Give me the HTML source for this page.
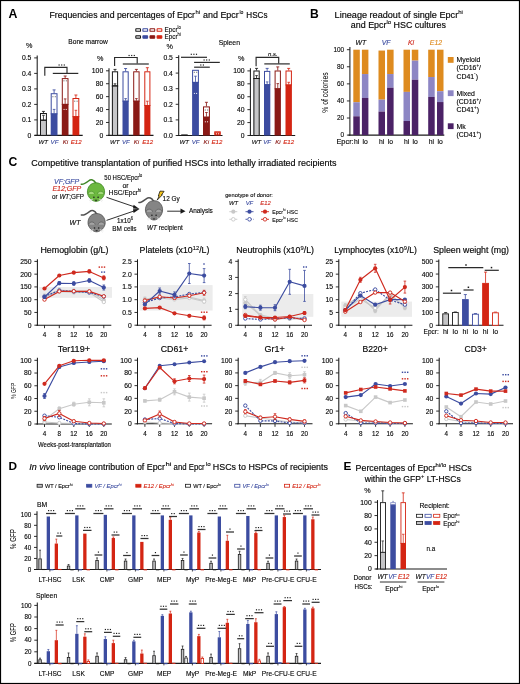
<!DOCTYPE html>
<html><head><meta charset="utf-8"><title>Figure</title>
<style>
html,body{margin:0;padding:0;background:#fff;}
body{width:520px;height:684px;overflow:hidden;}
svg{display:block;font-family:"Liberation Sans",sans-serif;will-change:transform;}
</style></head><body>
<svg width="520" height="684" viewBox="0 0 520 684">
<rect x="0" y="0" width="520" height="684" fill="#fff"/>
<text x="8.40" y="17.90" font-size="12.0" font-weight="bold" textLength="8.90" lengthAdjust="spacingAndGlyphs">A</text>
<text x="49.50" y="18.00" font-size="9.0" textLength="145.50" lengthAdjust="spacingAndGlyphs" stroke="#1a1a1a" stroke-width="0.18">Frequencies and percentages of Epcr</text>
<text x="195.60" y="14.04" font-size="5.94" textLength="4.60" lengthAdjust="spacingAndGlyphs" stroke="#1a1a1a" stroke-width="0.12">hi</text>
<text x="203.00" y="18.00" font-size="9.0" textLength="35.80" lengthAdjust="spacingAndGlyphs" stroke="#1a1a1a" stroke-width="0.18">and Epcr</text>
<text x="239.40" y="14.04" font-size="5.94" textLength="4.00" lengthAdjust="spacingAndGlyphs" stroke="#1a1a1a" stroke-width="0.12">lo</text>
<text x="246.30" y="18.00" font-size="9.0" textLength="21.20" lengthAdjust="spacingAndGlyphs" stroke="#1a1a1a" stroke-width="0.18">HSCs</text>
<rect x="135.80" y="28.80" width="4.70" height="2.50" fill="white" stroke="#1a1a1a" stroke-width="1.05" rx="0.4"/>
<rect x="135.80" y="35.70" width="4.70" height="2.50" fill="#cfcfd1" stroke="#1a1a1a" stroke-width="1.05" rx="0.4"/>
<rect x="142.90" y="28.80" width="4.70" height="2.50" fill="white" stroke="#3c4ca0" stroke-width="1.05" rx="0.4"/>
<rect x="142.90" y="35.70" width="4.70" height="2.50" fill="#3c4ca0" stroke="#3c4ca0" stroke-width="1.05" rx="0.4"/>
<rect x="150.00" y="28.80" width="4.70" height="2.50" fill="white" stroke="#8a1a16" stroke-width="1.05" rx="0.4"/>
<rect x="150.00" y="35.70" width="4.70" height="2.50" fill="#8a1a16" stroke="#8a1a16" stroke-width="1.05" rx="0.4"/>
<rect x="157.10" y="28.80" width="4.70" height="2.50" fill="white" stroke="#d42513" stroke-width="1.05" rx="0.4"/>
<rect x="157.10" y="35.70" width="4.70" height="2.50" fill="#d42513" stroke="#d42513" stroke-width="1.05" rx="0.4"/>
<text x="164.60" y="32.30" font-size="7.0" textLength="12.96" lengthAdjust="spacingAndGlyphs" stroke="#1a1a1a" stroke-width="0.14">Epcr</text>
<text x="177.56" y="29.22" font-size="4.62" textLength="3.24" lengthAdjust="spacingAndGlyphs" stroke="#1a1a1a" stroke-width="0.09">lo</text>
<text x="164.60" y="39.30" font-size="7.0" textLength="12.96" lengthAdjust="spacingAndGlyphs" stroke="#1a1a1a" stroke-width="0.14">Epcr</text>
<text x="177.56" y="36.22" font-size="4.62" textLength="3.24" lengthAdjust="spacingAndGlyphs" stroke="#1a1a1a" stroke-width="0.09">hi</text>
<text x="68.30" y="44.30" font-size="6.9" textLength="39.40" lengthAdjust="spacingAndGlyphs" stroke="#1a1a1a" stroke-width="0.14">Bone marrow</text>
<text x="218.70" y="44.50" font-size="6.9" textLength="21.30" lengthAdjust="spacingAndGlyphs" stroke="#1a1a1a" stroke-width="0.14">Spleen</text>
<text x="29.20" y="48.40" font-size="7.2" text-anchor="middle" stroke="#1a1a1a" stroke-width="0.14">%</text>
<line x1="37.20" y1="55.50" x2="37.20" y2="135.90" stroke="#1a1a1a" stroke-width="1.05"/>
<line x1="34.20" y1="135.40" x2="37.20" y2="135.40" stroke="#1a1a1a" stroke-width="0.9"/>
<text x="31.40" y="137.85" font-size="6.8" text-anchor="end" stroke="#1a1a1a" stroke-width="0.14">0</text>
<line x1="34.20" y1="119.90" x2="37.20" y2="119.90" stroke="#1a1a1a" stroke-width="0.9"/>
<text x="31.40" y="122.35" font-size="6.8" text-anchor="end" stroke="#1a1a1a" stroke-width="0.14">0.1</text>
<line x1="34.20" y1="104.40" x2="37.20" y2="104.40" stroke="#1a1a1a" stroke-width="0.9"/>
<text x="31.40" y="106.85" font-size="6.8" text-anchor="end" stroke="#1a1a1a" stroke-width="0.14">0.2</text>
<line x1="34.20" y1="88.90" x2="37.20" y2="88.90" stroke="#1a1a1a" stroke-width="0.9"/>
<text x="31.40" y="91.35" font-size="6.8" text-anchor="end" stroke="#1a1a1a" stroke-width="0.14">0.3</text>
<line x1="34.20" y1="73.40" x2="37.20" y2="73.40" stroke="#1a1a1a" stroke-width="0.9"/>
<text x="31.40" y="75.85" font-size="6.8" text-anchor="end" stroke="#1a1a1a" stroke-width="0.14">0.4</text>
<line x1="34.20" y1="57.90" x2="37.20" y2="57.90" stroke="#1a1a1a" stroke-width="0.9"/>
<text x="31.40" y="60.35" font-size="6.8" text-anchor="end" stroke="#1a1a1a" stroke-width="0.14">0.5</text>
<line x1="34.60" y1="135.40" x2="82.70" y2="135.40" stroke="#1a1a1a" stroke-width="1.1"/>
<rect x="40.50" y="113.50" width="5.90" height="7.20" fill="white" stroke="#1a1a1a" stroke-width="1.0"/>
<rect x="40.00" y="120.20" width="6.90" height="15.20" fill="#c6c6c8" stroke="none" stroke-width="1"/>
<rect x="40.50" y="120.20" width="5.90" height="15.20" fill="none" stroke="#1a1a1a" stroke-width="1.0"/>
<line x1="40.00" y1="120.20" x2="46.90" y2="120.20" stroke="#1a1a1a" stroke-width="0.9"/>
<line x1="43.45" y1="111.40" x2="43.45" y2="113.00" stroke="#1a1a1a" stroke-width="0.85"/>
<line x1="41.95" y1="111.40" x2="44.95" y2="111.40" stroke="#1a1a1a" stroke-width="0.85"/>
<line x1="43.45" y1="115.30" x2="43.45" y2="120.20" stroke="#1a1a1a" stroke-width="0.8"/>
<line x1="42.15" y1="115.30" x2="44.75" y2="115.30" stroke="#1a1a1a" stroke-width="0.8"/>
<rect x="51.20" y="93.70" width="5.80" height="20.20" fill="white" stroke="#3c4ca0" stroke-width="1.0"/>
<rect x="50.70" y="113.40" width="6.80" height="22.00" fill="#3c4ca0" stroke="none" stroke-width="1"/>
<line x1="54.10" y1="89.90" x2="54.10" y2="93.20" stroke="#3c4ca0" stroke-width="0.85"/>
<line x1="52.60" y1="89.90" x2="55.60" y2="89.90" stroke="#3c4ca0" stroke-width="0.85"/>
<line x1="54.10" y1="109.40" x2="54.10" y2="113.40" stroke="#3c4ca0" stroke-width="0.8"/>
<line x1="52.80" y1="109.40" x2="55.40" y2="109.40" stroke="#3c4ca0" stroke-width="0.8"/>
<rect x="52.35" y="96.15" width="1.1" height="1.1" fill="#777"/>
<rect x="54.75" y="96.15" width="1.1" height="1.1" fill="#777"/>
<rect x="62.30" y="78.60" width="5.70" height="25.80" fill="white" stroke="#8a1a16" stroke-width="1.0"/>
<rect x="61.80" y="103.90" width="6.70" height="31.50" fill="#8a1a16" stroke="none" stroke-width="1"/>
<line x1="65.15" y1="76.00" x2="65.15" y2="78.10" stroke="#8a1a16" stroke-width="0.85"/>
<line x1="63.65" y1="76.00" x2="66.65" y2="76.00" stroke="#8a1a16" stroke-width="0.85"/>
<line x1="65.15" y1="98.90" x2="65.15" y2="103.90" stroke="#8a1a16" stroke-width="0.8"/>
<line x1="63.85" y1="98.90" x2="66.45" y2="98.90" stroke="#8a1a16" stroke-width="0.8"/>
<rect x="63.40" y="80.25" width="1.1" height="1.1" fill="#777"/>
<rect x="65.80" y="80.25" width="1.1" height="1.1" fill="#777"/>
<rect x="63.55" y="108.90" width="1.0" height="1.0" fill="#fff"/>
<rect x="65.75" y="108.90" width="1.0" height="1.0" fill="#fff"/>
<rect x="73.00" y="98.50" width="5.80" height="18.20" fill="white" stroke="#d42513" stroke-width="1.0"/>
<rect x="72.50" y="116.20" width="6.80" height="19.20" fill="#d42513" stroke="none" stroke-width="1"/>
<line x1="75.90" y1="95.00" x2="75.90" y2="98.00" stroke="#d42513" stroke-width="0.85"/>
<line x1="74.40" y1="95.00" x2="77.40" y2="95.00" stroke="#d42513" stroke-width="0.85"/>
<line x1="75.90" y1="110.30" x2="75.90" y2="116.20" stroke="#d42513" stroke-width="0.8"/>
<line x1="74.60" y1="110.30" x2="77.20" y2="110.30" stroke="#d42513" stroke-width="0.8"/>
<rect x="74.15" y="100.65" width="1.1" height="1.1" fill="#777"/>
<rect x="76.55" y="100.65" width="1.1" height="1.1" fill="#777"/>
<path d="M44.8,75.8 V67.3 H67 V73.2" fill="none" stroke="#2a2a2a" stroke-width="1.15" stroke-linejoin="miter"/>
<line x1="52.80" y1="73.40" x2="78.30" y2="73.40" stroke="#2a2a2a" stroke-width="1.2"/>
<rect x="58.52" y="64.42" width="1.17" height="1.17" fill="#1a1a1a"/>
<rect x="61.12" y="64.42" width="1.17" height="1.17" fill="#1a1a1a"/>
<rect x="63.71" y="64.42" width="1.17" height="1.17" fill="#1a1a1a"/>
<text x="43.30" y="143.70" font-size="6.1" text-anchor="middle" font-style="italic" stroke="#1a1a1a" stroke-width="0.12">WT</text>
<text x="54.50" y="143.70" font-size="6.1" text-anchor="middle" fill="#3c4ca0" font-style="italic" stroke="#3c4ca0" stroke-width="0.12">VF</text>
<text x="65.40" y="143.70" font-size="6.1" text-anchor="middle" fill="#8a1a16" font-style="italic" stroke="#8a1a16" stroke-width="0.12">Ki</text>
<text x="76.10" y="143.70" font-size="6.1" text-anchor="middle" fill="#d42513" font-style="italic" stroke="#d42513" stroke-width="0.12">E12</text>
<text x="100.10" y="61.20" font-size="7.2" text-anchor="middle" stroke="#1a1a1a" stroke-width="0.14">%</text>
<line x1="109.00" y1="68.20" x2="109.00" y2="135.90" stroke="#1a1a1a" stroke-width="1.05"/>
<line x1="106.00" y1="135.40" x2="109.00" y2="135.40" stroke="#1a1a1a" stroke-width="0.9"/>
<text x="103.20" y="137.85" font-size="6.8" text-anchor="end" stroke="#1a1a1a" stroke-width="0.14">0</text>
<line x1="106.00" y1="122.48" x2="109.00" y2="122.48" stroke="#1a1a1a" stroke-width="0.9"/>
<text x="103.20" y="124.93" font-size="6.8" text-anchor="end" stroke="#1a1a1a" stroke-width="0.14">20</text>
<line x1="106.00" y1="109.56" x2="109.00" y2="109.56" stroke="#1a1a1a" stroke-width="0.9"/>
<text x="103.20" y="112.01" font-size="6.8" text-anchor="end" stroke="#1a1a1a" stroke-width="0.14">40</text>
<line x1="106.00" y1="96.64" x2="109.00" y2="96.64" stroke="#1a1a1a" stroke-width="0.9"/>
<text x="103.20" y="99.09" font-size="6.8" text-anchor="end" stroke="#1a1a1a" stroke-width="0.14">60</text>
<line x1="106.00" y1="83.72" x2="109.00" y2="83.72" stroke="#1a1a1a" stroke-width="0.9"/>
<text x="103.20" y="86.17" font-size="6.8" text-anchor="end" stroke="#1a1a1a" stroke-width="0.14">80</text>
<line x1="106.00" y1="70.80" x2="109.00" y2="70.80" stroke="#1a1a1a" stroke-width="0.9"/>
<text x="103.20" y="73.25" font-size="6.8" text-anchor="end" stroke="#1a1a1a" stroke-width="0.14">100</text>
<line x1="108.00" y1="135.40" x2="153.50" y2="135.40" stroke="#1a1a1a" stroke-width="1.1"/>
<rect x="112.40" y="71.80" width="5.20" height="14.60" fill="white" stroke="#1a1a1a" stroke-width="1.0"/>
<rect x="111.90" y="85.90" width="6.20" height="49.50" fill="#c6c6c8" stroke="none" stroke-width="1"/>
<rect x="112.40" y="85.90" width="5.20" height="49.50" fill="none" stroke="#1a1a1a" stroke-width="1.0"/>
<line x1="111.90" y1="85.90" x2="118.10" y2="85.90" stroke="#1a1a1a" stroke-width="0.9"/>
<line x1="115.00" y1="69.40" x2="115.00" y2="71.30" stroke="#1a1a1a" stroke-width="0.85"/>
<line x1="113.50" y1="69.40" x2="116.50" y2="69.40" stroke="#1a1a1a" stroke-width="0.85"/>
<line x1="115.00" y1="83.80" x2="115.00" y2="85.90" stroke="#1a1a1a" stroke-width="0.8"/>
<line x1="113.70" y1="83.80" x2="116.30" y2="83.80" stroke="#1a1a1a" stroke-width="0.8"/>
<rect x="123.00" y="71.80" width="5.20" height="29.40" fill="white" stroke="#3c4ca0" stroke-width="1.0"/>
<rect x="122.50" y="100.70" width="6.20" height="34.70" fill="#3c4ca0" stroke="none" stroke-width="1"/>
<line x1="125.60" y1="68.50" x2="125.60" y2="71.30" stroke="#3c4ca0" stroke-width="0.85"/>
<line x1="124.10" y1="68.50" x2="127.10" y2="68.50" stroke="#3c4ca0" stroke-width="0.85"/>
<line x1="125.60" y1="98.60" x2="125.60" y2="100.70" stroke="#3c4ca0" stroke-width="0.8"/>
<line x1="124.30" y1="98.60" x2="126.90" y2="98.60" stroke="#3c4ca0" stroke-width="0.8"/>
<rect x="133.70" y="71.80" width="5.40" height="29.40" fill="white" stroke="#8a1a16" stroke-width="1.0"/>
<rect x="133.20" y="100.70" width="6.40" height="34.70" fill="#8a1a16" stroke="none" stroke-width="1"/>
<line x1="136.40" y1="69.40" x2="136.40" y2="71.30" stroke="#8a1a16" stroke-width="0.85"/>
<line x1="134.90" y1="69.40" x2="137.90" y2="69.40" stroke="#8a1a16" stroke-width="0.85"/>
<line x1="136.40" y1="98.60" x2="136.40" y2="100.70" stroke="#8a1a16" stroke-width="0.8"/>
<line x1="135.10" y1="98.60" x2="137.70" y2="98.60" stroke="#8a1a16" stroke-width="0.8"/>
<rect x="144.80" y="71.80" width="5.10" height="33.70" fill="white" stroke="#d42513" stroke-width="1.0"/>
<rect x="144.30" y="105.00" width="6.10" height="30.40" fill="#d42513" stroke="none" stroke-width="1"/>
<line x1="147.35" y1="67.70" x2="147.35" y2="71.30" stroke="#d42513" stroke-width="0.85"/>
<line x1="145.85" y1="67.70" x2="148.85" y2="67.70" stroke="#d42513" stroke-width="0.85"/>
<line x1="147.35" y1="101.20" x2="147.35" y2="105.00" stroke="#d42513" stroke-width="0.8"/>
<line x1="146.05" y1="101.20" x2="148.65" y2="101.20" stroke="#d42513" stroke-width="0.8"/>
<path d="M114.6,65.9 V57.5 H137.2 V63.5" fill="none" stroke="#2a2a2a" stroke-width="1.15" stroke-linejoin="miter"/>
<line x1="122.80" y1="64.00" x2="148.80" y2="64.00" stroke="#2a2a2a" stroke-width="1.2"/>
<rect x="128.51" y="54.91" width="1.17" height="1.17" fill="#1a1a1a"/>
<rect x="131.11" y="54.91" width="1.17" height="1.17" fill="#1a1a1a"/>
<rect x="133.71" y="54.91" width="1.17" height="1.17" fill="#1a1a1a"/>
<text x="114.80" y="143.70" font-size="6.1" text-anchor="middle" font-style="italic" stroke="#1a1a1a" stroke-width="0.12">WT</text>
<text x="125.90" y="143.70" font-size="6.1" text-anchor="middle" fill="#3c4ca0" font-style="italic" stroke="#3c4ca0" stroke-width="0.12">VF</text>
<text x="136.50" y="143.70" font-size="6.1" text-anchor="middle" fill="#8a1a16" font-style="italic" stroke="#8a1a16" stroke-width="0.12">Ki</text>
<text x="147.60" y="143.70" font-size="6.1" text-anchor="middle" fill="#d42513" font-style="italic" stroke="#d42513" stroke-width="0.12">E12</text>
<text x="169.80" y="48.60" font-size="7.2" text-anchor="middle" stroke="#1a1a1a" stroke-width="0.14">%</text>
<line x1="178.70" y1="55.20" x2="178.70" y2="136.00" stroke="#1a1a1a" stroke-width="1.05"/>
<line x1="175.70" y1="135.50" x2="178.70" y2="135.50" stroke="#1a1a1a" stroke-width="0.9"/>
<text x="172.90" y="137.95" font-size="6.8" text-anchor="end" stroke="#1a1a1a" stroke-width="0.14">0.0</text>
<line x1="175.70" y1="119.90" x2="178.70" y2="119.90" stroke="#1a1a1a" stroke-width="0.9"/>
<text x="172.90" y="122.35" font-size="6.8" text-anchor="end" stroke="#1a1a1a" stroke-width="0.14">0.1</text>
<line x1="175.70" y1="104.30" x2="178.70" y2="104.30" stroke="#1a1a1a" stroke-width="0.9"/>
<text x="172.90" y="106.75" font-size="6.8" text-anchor="end" stroke="#1a1a1a" stroke-width="0.14">0.2</text>
<line x1="175.70" y1="88.70" x2="178.70" y2="88.70" stroke="#1a1a1a" stroke-width="0.9"/>
<text x="172.90" y="91.15" font-size="6.8" text-anchor="end" stroke="#1a1a1a" stroke-width="0.14">0.3</text>
<line x1="175.70" y1="73.10" x2="178.70" y2="73.10" stroke="#1a1a1a" stroke-width="0.9"/>
<text x="172.90" y="75.55" font-size="6.8" text-anchor="end" stroke="#1a1a1a" stroke-width="0.14">0.4</text>
<line x1="175.70" y1="57.50" x2="178.70" y2="57.50" stroke="#1a1a1a" stroke-width="0.9"/>
<text x="172.90" y="59.95" font-size="6.8" text-anchor="end" stroke="#1a1a1a" stroke-width="0.14">0.5</text>
<line x1="177.50" y1="135.50" x2="222.50" y2="135.50" stroke="#1a1a1a" stroke-width="1.1"/>
<rect x="181.20" y="134.40" width="6.50" height="1.10" fill="#1a1a1a" stroke="none" stroke-width="1"/>
<rect x="192.60" y="70.30" width="5.80" height="12.10" fill="white" stroke="#3c4ca0" stroke-width="1.0"/>
<rect x="192.10" y="81.90" width="6.80" height="53.60" fill="#3c4ca0" stroke="none" stroke-width="1"/>
<line x1="195.50" y1="76.20" x2="195.50" y2="81.90" stroke="#3c4ca0" stroke-width="0.8"/>
<line x1="194.20" y1="76.20" x2="196.80" y2="76.20" stroke="#3c4ca0" stroke-width="0.8"/>
<rect x="193.75" y="71.75" width="1.1" height="1.1" fill="#777"/>
<rect x="196.15" y="71.75" width="1.1" height="1.1" fill="#777"/>
<rect x="193.90" y="92.90" width="1.0" height="1.0" fill="#fff"/>
<rect x="196.10" y="92.90" width="1.0" height="1.0" fill="#fff"/>
<rect x="203.50" y="106.90" width="5.90" height="10.30" fill="white" stroke="#8a1a16" stroke-width="1.0"/>
<rect x="203.00" y="116.70" width="6.90" height="18.80" fill="#8a1a16" stroke="none" stroke-width="1"/>
<line x1="206.45" y1="102.30" x2="206.45" y2="106.40" stroke="#8a1a16" stroke-width="0.85"/>
<line x1="204.95" y1="102.30" x2="207.95" y2="102.30" stroke="#8a1a16" stroke-width="0.85"/>
<line x1="206.45" y1="112.50" x2="206.45" y2="116.70" stroke="#8a1a16" stroke-width="0.8"/>
<line x1="205.15" y1="112.50" x2="207.75" y2="112.50" stroke="#8a1a16" stroke-width="0.8"/>
<rect x="204.70" y="109.45" width="1.1" height="1.1" fill="#777"/>
<rect x="207.10" y="109.45" width="1.1" height="1.1" fill="#777"/>
<rect x="204.85" y="121.30" width="1.0" height="1.0" fill="#fff"/>
<rect x="207.05" y="121.30" width="1.0" height="1.0" fill="#fff"/>
<rect x="214.80" y="131.80" width="5.40" height="1.30" fill="white" stroke="#d42513" stroke-width="1.0"/>
<rect x="214.30" y="132.60" width="6.40" height="2.90" fill="#d42513" stroke="none" stroke-width="1"/>
<rect x="215.90" y="133.30" width="1.0" height="1.0" fill="#fff"/>
<rect x="218.10" y="133.30" width="1.0" height="1.0" fill="#fff"/>
<line x1="181.00" y1="57.30" x2="207.00" y2="57.30" stroke="#2a2a2a" stroke-width="1.2"/>
<rect x="190.72" y="53.71" width="1.17" height="1.17" fill="#1a1a1a"/>
<rect x="193.31" y="53.71" width="1.17" height="1.17" fill="#1a1a1a"/>
<rect x="195.91" y="53.71" width="1.17" height="1.17" fill="#1a1a1a"/>
<line x1="194.10" y1="62.40" x2="219.80" y2="62.40" stroke="#2a2a2a" stroke-width="1.2"/>
<rect x="203.51" y="59.41" width="1.17" height="1.17" fill="#1a1a1a"/>
<rect x="206.11" y="59.41" width="1.17" height="1.17" fill="#1a1a1a"/>
<rect x="208.71" y="59.41" width="1.17" height="1.17" fill="#1a1a1a"/>
<line x1="194.10" y1="67.20" x2="209.80" y2="67.20" stroke="#2a2a2a" stroke-width="1.2"/>
<rect x="200.21" y="64.42" width="1.17" height="1.17" fill="#1a1a1a"/>
<rect x="202.81" y="64.42" width="1.17" height="1.17" fill="#1a1a1a"/>
<text x="184.30" y="143.70" font-size="6.1" text-anchor="middle" font-style="italic" stroke="#1a1a1a" stroke-width="0.12">WT</text>
<text x="195.60" y="143.70" font-size="6.1" text-anchor="middle" fill="#3c4ca0" font-style="italic" stroke="#3c4ca0" stroke-width="0.12">VF</text>
<text x="206.30" y="143.70" font-size="6.1" text-anchor="middle" fill="#8a1a16" font-style="italic" stroke="#8a1a16" stroke-width="0.12">Ki</text>
<text x="216.90" y="143.70" font-size="6.1" text-anchor="middle" fill="#d42513" font-style="italic" stroke="#d42513" stroke-width="0.12">E12</text>
<text x="241.20" y="61.20" font-size="7.2" text-anchor="middle" stroke="#1a1a1a" stroke-width="0.14">%</text>
<line x1="250.40" y1="68.20" x2="250.40" y2="136.00" stroke="#1a1a1a" stroke-width="1.05"/>
<line x1="247.40" y1="135.50" x2="250.40" y2="135.50" stroke="#1a1a1a" stroke-width="0.9"/>
<text x="244.60" y="137.95" font-size="6.8" text-anchor="end" stroke="#1a1a1a" stroke-width="0.14">0</text>
<line x1="247.40" y1="122.58" x2="250.40" y2="122.58" stroke="#1a1a1a" stroke-width="0.9"/>
<text x="244.60" y="125.03" font-size="6.8" text-anchor="end" stroke="#1a1a1a" stroke-width="0.14">20</text>
<line x1="247.40" y1="109.66" x2="250.40" y2="109.66" stroke="#1a1a1a" stroke-width="0.9"/>
<text x="244.60" y="112.11" font-size="6.8" text-anchor="end" stroke="#1a1a1a" stroke-width="0.14">40</text>
<line x1="247.40" y1="96.74" x2="250.40" y2="96.74" stroke="#1a1a1a" stroke-width="0.9"/>
<text x="244.60" y="99.19" font-size="6.8" text-anchor="end" stroke="#1a1a1a" stroke-width="0.14">60</text>
<line x1="247.40" y1="83.82" x2="250.40" y2="83.82" stroke="#1a1a1a" stroke-width="0.9"/>
<text x="244.60" y="86.27" font-size="6.8" text-anchor="end" stroke="#1a1a1a" stroke-width="0.14">80</text>
<line x1="247.40" y1="70.90" x2="250.40" y2="70.90" stroke="#1a1a1a" stroke-width="0.9"/>
<text x="244.60" y="73.35" font-size="6.8" text-anchor="end" stroke="#1a1a1a" stroke-width="0.14">100</text>
<line x1="249.50" y1="135.50" x2="295.20" y2="135.50" stroke="#1a1a1a" stroke-width="1.1"/>
<rect x="253.90" y="71.00" width="5.30" height="8.00" fill="white" stroke="#1a1a1a" stroke-width="1.0"/>
<rect x="253.40" y="78.50" width="6.30" height="57.00" fill="#c6c6c8" stroke="none" stroke-width="1"/>
<rect x="253.90" y="78.50" width="5.30" height="57.00" fill="none" stroke="#1a1a1a" stroke-width="1.0"/>
<line x1="253.40" y1="78.50" x2="259.70" y2="78.50" stroke="#1a1a1a" stroke-width="0.9"/>
<line x1="256.55" y1="68.40" x2="256.55" y2="70.50" stroke="#1a1a1a" stroke-width="0.85"/>
<line x1="255.05" y1="68.40" x2="258.05" y2="68.40" stroke="#1a1a1a" stroke-width="0.85"/>
<line x1="256.55" y1="75.60" x2="256.55" y2="78.50" stroke="#1a1a1a" stroke-width="0.8"/>
<line x1="255.25" y1="75.60" x2="257.85" y2="75.60" stroke="#1a1a1a" stroke-width="0.8"/>
<rect x="264.50" y="71.40" width="5.30" height="13.30" fill="white" stroke="#3c4ca0" stroke-width="1.0"/>
<rect x="264.00" y="84.20" width="6.30" height="51.30" fill="#3c4ca0" stroke="none" stroke-width="1"/>
<line x1="267.15" y1="68.40" x2="267.15" y2="70.90" stroke="#3c4ca0" stroke-width="0.85"/>
<line x1="265.65" y1="68.40" x2="268.65" y2="68.40" stroke="#3c4ca0" stroke-width="0.85"/>
<line x1="267.15" y1="81.90" x2="267.15" y2="84.20" stroke="#3c4ca0" stroke-width="0.8"/>
<line x1="265.85" y1="81.90" x2="268.45" y2="81.90" stroke="#3c4ca0" stroke-width="0.8"/>
<rect x="275.10" y="71.00" width="5.30" height="17.80" fill="white" stroke="#8a1a16" stroke-width="1.0"/>
<rect x="274.60" y="88.30" width="6.30" height="47.20" fill="#8a1a16" stroke="none" stroke-width="1"/>
<line x1="277.75" y1="66.90" x2="277.75" y2="70.50" stroke="#8a1a16" stroke-width="0.85"/>
<line x1="276.25" y1="66.90" x2="279.25" y2="66.90" stroke="#8a1a16" stroke-width="0.85"/>
<line x1="277.75" y1="83.60" x2="277.75" y2="88.30" stroke="#8a1a16" stroke-width="0.8"/>
<line x1="276.45" y1="83.60" x2="279.05" y2="83.60" stroke="#8a1a16" stroke-width="0.8"/>
<rect x="286.00" y="71.00" width="5.40" height="14.00" fill="white" stroke="#d42513" stroke-width="1.0"/>
<rect x="285.50" y="84.50" width="6.40" height="51.00" fill="#d42513" stroke="none" stroke-width="1"/>
<line x1="288.70" y1="68.40" x2="288.70" y2="70.50" stroke="#d42513" stroke-width="0.85"/>
<line x1="287.20" y1="68.40" x2="290.20" y2="68.40" stroke="#d42513" stroke-width="0.85"/>
<line x1="288.70" y1="82.30" x2="288.70" y2="84.50" stroke="#d42513" stroke-width="0.8"/>
<line x1="287.40" y1="82.30" x2="290.00" y2="82.30" stroke="#d42513" stroke-width="0.8"/>
<path d="M256.1,66.3 V57.4 H278.7 V63.4" fill="none" stroke="#2a2a2a" stroke-width="1.15" stroke-linejoin="miter"/>
<line x1="264.30" y1="63.90" x2="289.80" y2="63.90" stroke="#2a2a2a" stroke-width="1.2"/>
<text x="272.90" y="55.90" font-size="6.0" text-anchor="middle" font-style="italic" stroke="#1a1a1a" stroke-width="0.12">n.s.</text>
<text x="256.40" y="143.70" font-size="6.1" text-anchor="middle" font-style="italic" stroke="#1a1a1a" stroke-width="0.12">WT</text>
<text x="267.20" y="143.70" font-size="6.1" text-anchor="middle" fill="#3c4ca0" font-style="italic" stroke="#3c4ca0" stroke-width="0.12">VF</text>
<text x="277.90" y="143.70" font-size="6.1" text-anchor="middle" fill="#8a1a16" font-style="italic" stroke="#8a1a16" stroke-width="0.12">Ki</text>
<text x="288.60" y="143.70" font-size="6.1" text-anchor="middle" fill="#d42513" font-style="italic" stroke="#d42513" stroke-width="0.12">E12</text>
<text x="310.10" y="17.90" font-size="12.1" font-weight="bold">B</text>
<text x="334.60" y="18.00" font-size="9.0" textLength="123.62" lengthAdjust="spacingAndGlyphs" stroke="#1a1a1a" stroke-width="0.18">Lineage readout of single Epcr</text>
<text x="458.22" y="14.04" font-size="5.94" textLength="4.68" lengthAdjust="spacingAndGlyphs" stroke="#1a1a1a" stroke-width="0.12">hi</text>
<text x="350.80" y="28.20" font-size="9.0" textLength="35.66" lengthAdjust="spacingAndGlyphs" stroke="#1a1a1a" stroke-width="0.18">and Epcr</text>
<text x="386.46" y="24.24" font-size="5.94" textLength="4.58" lengthAdjust="spacingAndGlyphs" stroke="#1a1a1a" stroke-width="0.12">lo</text>
<text x="393.51" y="28.20" font-size="9.0" textLength="52.49" lengthAdjust="spacingAndGlyphs" stroke="#1a1a1a" stroke-width="0.18">HSC cultures</text>
<line x1="349.90" y1="47.10" x2="349.90" y2="135.60" stroke="#1a1a1a" stroke-width="1.05"/>
<line x1="346.90" y1="135.10" x2="349.90" y2="135.10" stroke="#1a1a1a" stroke-width="0.9"/>
<text x="344.10" y="137.40" font-size="6.4" text-anchor="end" stroke="#1a1a1a" stroke-width="0.13">0</text>
<line x1="346.90" y1="118.02" x2="349.90" y2="118.02" stroke="#1a1a1a" stroke-width="0.9"/>
<text x="344.10" y="120.32" font-size="6.4" text-anchor="end" stroke="#1a1a1a" stroke-width="0.13">20</text>
<line x1="346.90" y1="100.94" x2="349.90" y2="100.94" stroke="#1a1a1a" stroke-width="0.9"/>
<text x="344.10" y="103.24" font-size="6.4" text-anchor="end" stroke="#1a1a1a" stroke-width="0.13">40</text>
<line x1="346.90" y1="83.86" x2="349.90" y2="83.86" stroke="#1a1a1a" stroke-width="0.9"/>
<text x="344.10" y="86.16" font-size="6.4" text-anchor="end" stroke="#1a1a1a" stroke-width="0.13">60</text>
<line x1="346.90" y1="66.78" x2="349.90" y2="66.78" stroke="#1a1a1a" stroke-width="0.9"/>
<text x="344.10" y="69.08" font-size="6.4" text-anchor="end" stroke="#1a1a1a" stroke-width="0.13">80</text>
<line x1="346.90" y1="49.70" x2="349.90" y2="49.70" stroke="#1a1a1a" stroke-width="0.9"/>
<text x="344.10" y="52.00" font-size="6.4" text-anchor="end" stroke="#1a1a1a" stroke-width="0.13">100</text>
<line x1="348.50" y1="135.10" x2="444.30" y2="135.10" stroke="#1a1a1a" stroke-width="1.1"/>
<text x="0" y="0" font-size="8.8" transform="translate(328.0,92.5) rotate(-90)" text-anchor="middle" textLength="40.4" lengthAdjust="spacingAndGlyphs">% of colonies</text>
<rect x="353.30" y="49.70" width="6.50" height="52.52" fill="#de8b1f" stroke="none" stroke-width="1"/>
<rect x="353.30" y="102.22" width="6.50" height="14.09" fill="#8d86c4" stroke="none" stroke-width="1"/>
<rect x="353.30" y="116.31" width="6.50" height="18.79" fill="#4b2266" stroke="none" stroke-width="1"/>
<rect x="361.90" y="49.70" width="6.50" height="24.34" fill="#de8b1f" stroke="none" stroke-width="1"/>
<rect x="361.90" y="74.04" width="6.50" height="23.91" fill="#8d86c4" stroke="none" stroke-width="1"/>
<rect x="361.90" y="97.95" width="6.50" height="37.15" fill="#4b2266" stroke="none" stroke-width="1"/>
<rect x="378.50" y="50.55" width="6.50" height="49.10" fill="#de8b1f" stroke="none" stroke-width="1"/>
<rect x="378.50" y="99.66" width="6.50" height="11.96" fill="#8d86c4" stroke="none" stroke-width="1"/>
<rect x="378.50" y="111.61" width="6.50" height="23.48" fill="#4b2266" stroke="none" stroke-width="1"/>
<rect x="387.10" y="49.70" width="6.50" height="24.34" fill="#de8b1f" stroke="none" stroke-width="1"/>
<rect x="387.10" y="74.04" width="6.50" height="13.66" fill="#8d86c4" stroke="none" stroke-width="1"/>
<rect x="387.10" y="87.70" width="6.50" height="47.40" fill="#4b2266" stroke="none" stroke-width="1"/>
<rect x="403.50" y="49.70" width="6.50" height="42.19" fill="#de8b1f" stroke="none" stroke-width="1"/>
<rect x="403.50" y="91.89" width="6.50" height="29.12" fill="#8d86c4" stroke="none" stroke-width="1"/>
<rect x="403.50" y="121.01" width="6.50" height="14.09" fill="#4b2266" stroke="none" stroke-width="1"/>
<rect x="411.80" y="49.70" width="6.50" height="10.93" fill="#de8b1f" stroke="none" stroke-width="1"/>
<rect x="411.80" y="60.63" width="6.50" height="19.13" fill="#8d86c4" stroke="none" stroke-width="1"/>
<rect x="411.80" y="79.76" width="6.50" height="55.34" fill="#4b2266" stroke="none" stroke-width="1"/>
<rect x="428.20" y="49.70" width="6.50" height="27.33" fill="#de8b1f" stroke="none" stroke-width="1"/>
<rect x="428.20" y="77.03" width="6.50" height="19.90" fill="#8d86c4" stroke="none" stroke-width="1"/>
<rect x="428.20" y="96.93" width="6.50" height="38.17" fill="#4b2266" stroke="none" stroke-width="1"/>
<rect x="437.00" y="49.70" width="6.50" height="41.50" fill="#de8b1f" stroke="none" stroke-width="1"/>
<rect x="437.00" y="91.20" width="6.50" height="10.85" fill="#8d86c4" stroke="none" stroke-width="1"/>
<rect x="437.00" y="102.05" width="6.50" height="33.05" fill="#4b2266" stroke="none" stroke-width="1"/>
<text x="360.80" y="45.20" font-size="6.8" text-anchor="middle" font-style="italic" stroke="#1a1a1a" stroke-width="0.14">WT</text>
<text x="386.10" y="45.20" font-size="6.8" text-anchor="middle" fill="#3c4ca0" font-style="italic" stroke="#3c4ca0" stroke-width="0.14">VF</text>
<text x="410.90" y="45.20" font-size="6.8" text-anchor="middle" fill="#cf2a1f" font-style="italic" stroke="#cf2a1f" stroke-width="0.14">Ki</text>
<text x="435.90" y="45.20" font-size="6.8" text-anchor="middle" fill="#de8b1f" font-style="italic" stroke="#de8b1f" stroke-width="0.14">E12</text>
<text x="336.40" y="143.80" font-size="6.8" textLength="17.30" lengthAdjust="spacingAndGlyphs" stroke="#1a1a1a" stroke-width="0.14">Epcr:</text>
<text x="356.55" y="143.80" font-size="6.8" text-anchor="middle" stroke="#1a1a1a" stroke-width="0.14">hi</text>
<text x="365.15" y="143.80" font-size="6.8" text-anchor="middle" stroke="#1a1a1a" stroke-width="0.14">lo</text>
<text x="381.75" y="143.80" font-size="6.8" text-anchor="middle" stroke="#1a1a1a" stroke-width="0.14">hi</text>
<text x="390.35" y="143.80" font-size="6.8" text-anchor="middle" stroke="#1a1a1a" stroke-width="0.14">lo</text>
<text x="406.75" y="143.80" font-size="6.8" text-anchor="middle" stroke="#1a1a1a" stroke-width="0.14">hi</text>
<text x="415.05" y="143.80" font-size="6.8" text-anchor="middle" stroke="#1a1a1a" stroke-width="0.14">lo</text>
<text x="431.45" y="143.80" font-size="6.8" text-anchor="middle" stroke="#1a1a1a" stroke-width="0.14">hi</text>
<text x="440.25" y="143.80" font-size="6.8" text-anchor="middle" stroke="#1a1a1a" stroke-width="0.14">lo</text>
<rect x="447.80" y="57.00" width="5.80" height="5.80" fill="#de8b1f" stroke="none" stroke-width="1"/>
<text x="456.50" y="62.30" font-size="6.9" stroke="#1a1a1a" stroke-width="0.14">Myeloid</text>
<text x="456.50" y="70.40" font-size="6.9" textLength="19.94" lengthAdjust="spacingAndGlyphs" stroke="#1a1a1a" stroke-width="0.14">(CD16</text>
<text x="476.44" y="67.36" font-size="4.55" textLength="2.66" lengthAdjust="spacingAndGlyphs" stroke="#1a1a1a" stroke-width="0.09">+</text>
<text x="479.10" y="70.40" font-size="6.9" textLength="1.92" lengthAdjust="spacingAndGlyphs" stroke="#1a1a1a" stroke-width="0.14">/</text>
<text x="456.50" y="78.50" font-size="6.9" textLength="17.64" lengthAdjust="spacingAndGlyphs" stroke="#1a1a1a" stroke-width="0.14">CD41</text>
<text x="474.14" y="75.46" font-size="4.55" textLength="1.52" lengthAdjust="spacingAndGlyphs" stroke="#1a1a1a" stroke-width="0.09">-</text>
<text x="475.66" y="78.50" font-size="6.9" textLength="2.30" lengthAdjust="spacingAndGlyphs" stroke="#1a1a1a" stroke-width="0.14">)</text>
<rect x="447.80" y="90.30" width="5.80" height="5.80" fill="#8d86c4" stroke="none" stroke-width="1"/>
<text x="456.50" y="95.60" font-size="6.9" stroke="#1a1a1a" stroke-width="0.14">Mixed</text>
<text x="456.50" y="103.70" font-size="6.9" textLength="19.94" lengthAdjust="spacingAndGlyphs" stroke="#1a1a1a" stroke-width="0.14">(CD16</text>
<text x="476.44" y="100.66" font-size="4.55" textLength="2.66" lengthAdjust="spacingAndGlyphs" stroke="#1a1a1a" stroke-width="0.09">+</text>
<text x="479.10" y="103.70" font-size="6.9" textLength="1.92" lengthAdjust="spacingAndGlyphs" stroke="#1a1a1a" stroke-width="0.14">/</text>
<text x="456.50" y="111.80" font-size="6.9" textLength="17.64" lengthAdjust="spacingAndGlyphs" stroke="#1a1a1a" stroke-width="0.14">CD41</text>
<text x="474.14" y="108.76" font-size="4.55" textLength="2.66" lengthAdjust="spacingAndGlyphs" stroke="#1a1a1a" stroke-width="0.09">+</text>
<text x="476.80" y="111.80" font-size="6.9" textLength="2.30" lengthAdjust="spacingAndGlyphs" stroke="#1a1a1a" stroke-width="0.14">)</text>
<rect x="447.80" y="123.30" width="5.80" height="5.80" fill="#4b2266" stroke="none" stroke-width="1"/>
<text x="456.50" y="128.60" font-size="6.9" stroke="#1a1a1a" stroke-width="0.14">Mk</text>
<text x="456.50" y="136.70" font-size="6.9" textLength="19.94" lengthAdjust="spacingAndGlyphs" stroke="#1a1a1a" stroke-width="0.14">(CD41</text>
<text x="476.44" y="133.66" font-size="4.55" textLength="2.66" lengthAdjust="spacingAndGlyphs" stroke="#1a1a1a" stroke-width="0.09">+</text>
<text x="479.10" y="136.70" font-size="6.9" textLength="2.30" lengthAdjust="spacingAndGlyphs" stroke="#1a1a1a" stroke-width="0.14">)</text>
<text x="8.50" y="165.60" font-size="12.2" font-weight="bold">C</text>
<text x="31.30" y="166.00" font-size="9.0" textLength="305.30" lengthAdjust="spacingAndGlyphs" stroke="#1a1a1a" stroke-width="0.18">Competitive transplantation of purified HSCs into lethally irradiated recipients</text>
<text x="54.02" y="183.80" font-size="7.0" fill="#3c4ca0" font-style="italic" textLength="25.28" lengthAdjust="spacingAndGlyphs" stroke="#3c4ca0" stroke-width="0.14">VF;GFP</text>
<text x="52.41" y="191.30" font-size="7.0" fill="#cf2a1f" font-style="italic" textLength="28.79" lengthAdjust="spacingAndGlyphs" stroke="#cf2a1f" stroke-width="0.14">E12;GFP</text>
<text x="52.00" y="199.20" font-size="7.0" textLength="5.63" lengthAdjust="spacingAndGlyphs" stroke="#1a1a1a" stroke-width="0.14">or</text>
<text x="59.39" y="199.20" font-size="7.0" font-style="italic" textLength="9.84" lengthAdjust="spacingAndGlyphs" stroke="#1a1a1a" stroke-width="0.14">WT</text>
<text x="69.23" y="199.20" font-size="7.0" textLength="14.77" lengthAdjust="spacingAndGlyphs" stroke="#1a1a1a" stroke-width="0.14">;GFP</text>
<text x="80.50" y="225.20" font-size="7.0" text-anchor="end" font-style="italic" stroke="#1a1a1a" stroke-width="0.14">WT</text>
<path d="M95.8,183.2 C94,179.5 91,179 88.5,181 C86,183 84,184.6 81.2,184.2" fill="none" stroke="#3f8624" stroke-width="1.5" stroke-linecap="round"/>
<path d="M96.00,182.80 C101.40,182.80 104.60,187.10 104.60,192.10 C104.60,196.60 100.20,201.40 96.00,201.40 C91.80,201.40 87.40,196.60 87.40,192.10 C87.40,187.10 90.60,182.80 96.00,182.80 Z" fill="#6cb83f" stroke="#3f8624" stroke-width="0.8"/>
<path d="M88.10,194.00 C88.50,190.40 94.10,190.40 94.50,194.00 Z" fill="#a2d97a" stroke="none" stroke-width="1"/>
<path d="M88.10,194.00 C88.50,190.40 94.10,190.40 94.50,194.00" fill="none" stroke="#3f8624" stroke-width="0.6"/>
<path d="M97.50,194.00 C97.90,190.40 103.50,190.40 103.90,194.00 Z" fill="#a2d97a" stroke="none" stroke-width="1"/>
<path d="M97.50,194.00 C97.90,190.40 103.50,190.40 103.90,194.00" fill="none" stroke="#3f8624" stroke-width="0.6"/>
<circle cx="93.90" cy="197.30" r="0.8" fill="#1e1e1e" stroke="none" stroke-width="1"/>
<circle cx="98.10" cy="197.30" r="0.8" fill="#1e1e1e" stroke="none" stroke-width="1"/>
<path d="M94.60,199.80 L97.40,199.80 L96.00,201.20 Z" fill="#1e1e1e" stroke="none" stroke-width="1"/>
<line x1="92.70" y1="199.00" x2="89.00" y2="200.60" stroke="#e4e4e4" stroke-width="0.6"/>
<line x1="92.70" y1="199.40" x2="89.80" y2="202.00" stroke="#e4e4e4" stroke-width="0.6"/>
<line x1="99.30" y1="199.00" x2="103.00" y2="200.60" stroke="#e4e4e4" stroke-width="0.6"/>
<line x1="99.30" y1="199.40" x2="102.20" y2="202.00" stroke="#e4e4e4" stroke-width="0.6"/>
<path d="M96.6,213.8 C95,210.5 92,209.6 89.5,211.6 C87,213.6 84,215.6 81.3,215.0" fill="none" stroke="#505050" stroke-width="1.5" stroke-linecap="round"/>
<path d="M96.60,213.50 C102.00,213.50 105.20,217.80 105.20,222.80 C105.20,227.30 100.80,231.80 96.60,231.80 C92.40,231.80 88.00,227.30 88.00,222.80 C88.00,217.80 91.20,213.50 96.60,213.50 Z" fill="#858585" stroke="#505050" stroke-width="0.8"/>
<path d="M88.70,224.70 C89.10,221.10 94.70,221.10 95.10,224.70 Z" fill="#a4a4a4" stroke="none" stroke-width="1"/>
<path d="M88.70,224.70 C89.10,221.10 94.70,221.10 95.10,224.70" fill="none" stroke="#505050" stroke-width="0.6"/>
<path d="M98.10,224.70 C98.50,221.10 104.10,221.10 104.50,224.70 Z" fill="#a4a4a4" stroke="none" stroke-width="1"/>
<path d="M98.10,224.70 C98.50,221.10 104.10,221.10 104.50,224.70" fill="none" stroke="#505050" stroke-width="0.6"/>
<circle cx="94.50" cy="228.00" r="0.8" fill="#1e1e1e" stroke="none" stroke-width="1"/>
<circle cx="98.70" cy="228.00" r="0.8" fill="#1e1e1e" stroke="none" stroke-width="1"/>
<path d="M95.20,230.20 L98.00,230.20 L96.60,231.60 Z" fill="#1e1e1e" stroke="none" stroke-width="1"/>
<line x1="93.30" y1="229.40" x2="89.60" y2="231.00" stroke="#e4e4e4" stroke-width="0.6"/>
<line x1="93.30" y1="229.80" x2="90.40" y2="232.40" stroke="#e4e4e4" stroke-width="0.6"/>
<line x1="99.90" y1="229.40" x2="103.60" y2="231.00" stroke="#e4e4e4" stroke-width="0.6"/>
<line x1="99.90" y1="229.80" x2="102.80" y2="232.40" stroke="#e4e4e4" stroke-width="0.6"/>
<path d="M153.5,201.0 C152,198 149,197 146.5,198.6 C144,200.3 141,202.8 138.9,202.6" fill="none" stroke="#505050" stroke-width="1.5" stroke-linecap="round"/>
<path d="M154.00,200.70 C159.40,200.70 162.60,205.00 162.60,210.00 C162.60,214.50 158.20,220.00 154.00,220.00 C149.80,220.00 145.40,214.50 145.40,210.00 C145.40,205.00 148.60,200.70 154.00,200.70 Z" fill="#858585" stroke="#505050" stroke-width="0.8"/>
<path d="M146.10,211.90 C146.50,208.30 152.10,208.30 152.50,211.90 Z" fill="#a4a4a4" stroke="none" stroke-width="1"/>
<path d="M146.10,211.90 C146.50,208.30 152.10,208.30 152.50,211.90" fill="none" stroke="#505050" stroke-width="0.6"/>
<path d="M155.50,211.90 C155.90,208.30 161.50,208.30 161.90,211.90 Z" fill="#a4a4a4" stroke="none" stroke-width="1"/>
<path d="M155.50,211.90 C155.90,208.30 161.50,208.30 161.90,211.90" fill="none" stroke="#505050" stroke-width="0.6"/>
<circle cx="151.90" cy="215.20" r="0.8" fill="#1e1e1e" stroke="none" stroke-width="1"/>
<circle cx="156.10" cy="215.20" r="0.8" fill="#1e1e1e" stroke="none" stroke-width="1"/>
<path d="M152.60,218.40 L155.40,218.40 L154.00,219.80 Z" fill="#1e1e1e" stroke="none" stroke-width="1"/>
<line x1="150.70" y1="217.60" x2="147.00" y2="219.20" stroke="#e4e4e4" stroke-width="0.6"/>
<line x1="150.70" y1="218.00" x2="147.80" y2="220.60" stroke="#e4e4e4" stroke-width="0.6"/>
<line x1="157.30" y1="217.60" x2="161.00" y2="219.20" stroke="#e4e4e4" stroke-width="0.6"/>
<line x1="157.30" y1="218.00" x2="160.20" y2="220.60" stroke="#e4e4e4" stroke-width="0.6"/>
<line x1="106.50" y1="197.30" x2="135.20" y2="207.10" stroke="#1a1a1a" stroke-width="0.9"/>
<line x1="106.50" y1="220.40" x2="135.20" y2="210.60" stroke="#1a1a1a" stroke-width="0.9"/>
<path d="M139.5,208.9 L133.6,204.8 L133.0,208.5 Z" fill="#1a1a1a" stroke="none" stroke-width="1"/>
<path d="M139.5,208.9 L133.0,209.3 L133.6,213.0 Z" fill="#1a1a1a" stroke="none" stroke-width="1"/>
<line x1="167.20" y1="211.20" x2="181.50" y2="211.20" stroke="#1a1a1a" stroke-width="0.9"/>
<path d="M185.5,211.2 L180.5,208.6 L180.5,213.8 Z" fill="#1a1a1a" stroke="none" stroke-width="1"/>
<path d="M160.0,191.1 L164.1,191.3 L161.5,195.0 L162.4,194.8 L157.2,200.1 L159.2,195.8 L158.3,196.0 Z" fill="#f2c21b" stroke="#111" stroke-width="0.75" stroke-linejoin="round"/>
<text x="104.30" y="180.00" font-size="7.0" textLength="34.93" lengthAdjust="spacingAndGlyphs" stroke="#1a1a1a" stroke-width="0.14">50 HSC/Epcr</text>
<text x="139.23" y="176.92" font-size="4.62" textLength="3.07" lengthAdjust="spacingAndGlyphs" stroke="#1a1a1a" stroke-width="0.09">lo</text>
<text x="125.60" y="188.00" font-size="7.0" text-anchor="middle" stroke="#1a1a1a" stroke-width="0.14">or</text>
<text x="108.80" y="195.00" font-size="7.0" textLength="29.04" lengthAdjust="spacingAndGlyphs" stroke="#1a1a1a" stroke-width="0.14">HSC/Epcr</text>
<text x="137.84" y="191.92" font-size="4.62" textLength="3.36" lengthAdjust="spacingAndGlyphs" stroke="#1a1a1a" stroke-width="0.09">hi</text>
<text x="117.00" y="222.70" font-size="7.0" textLength="13.68" lengthAdjust="spacingAndGlyphs" stroke="#1a1a1a" stroke-width="0.14">1x10</text>
<text x="130.68" y="219.62" font-size="4.62" textLength="2.32" lengthAdjust="spacingAndGlyphs" stroke="#1a1a1a" stroke-width="0.09">6</text>
<text x="124.40" y="230.80" font-size="7.0" text-anchor="middle" textLength="24.20" lengthAdjust="spacingAndGlyphs" stroke="#1a1a1a" stroke-width="0.14">BM cells</text>
<text x="162.60" y="200.80" font-size="7.0" textLength="17.10" lengthAdjust="spacingAndGlyphs" stroke="#1a1a1a" stroke-width="0.14">12 Gy</text>
<text x="147.00" y="230.00" font-size="7.0" font-style="italic" textLength="9.89" lengthAdjust="spacingAndGlyphs" stroke="#1a1a1a" stroke-width="0.14">WT</text>
<text x="158.66" y="230.00" font-size="7.0" textLength="24.04" lengthAdjust="spacingAndGlyphs" stroke="#1a1a1a" stroke-width="0.14">recipient</text>
<text x="188.90" y="213.40" font-size="7.0" textLength="23.90" lengthAdjust="spacingAndGlyphs" stroke="#1a1a1a" stroke-width="0.14">Analysis</text>
<text x="225.20" y="196.80" font-size="5.6" textLength="47.70" lengthAdjust="spacingAndGlyphs" stroke="#1a1a1a" stroke-width="0.11">genotype of donor:</text>
<text x="233.60" y="205.40" font-size="5.8" text-anchor="middle" font-style="italic" stroke="#1a1a1a" stroke-width="0.12">WT</text>
<text x="249.40" y="205.40" font-size="5.8" text-anchor="middle" fill="#3c4ca0" font-style="italic" stroke="#3c4ca0" stroke-width="0.12">VF</text>
<text x="265.50" y="205.40" font-size="5.8" text-anchor="middle" fill="#cf2a1f" font-style="italic" stroke="#cf2a1f" stroke-width="0.12">E12</text>
<line x1="229.30" y1="211.70" x2="237.30" y2="211.70" stroke="#c8c8c8" stroke-width="0.9"/>
<circle cx="233.30" cy="211.70" r="2.1" fill="#c8c8c8" stroke="none" stroke-width="1"/>
<line x1="229.30" y1="219.30" x2="237.30" y2="219.30" stroke="#c8c8c8" stroke-width="0.9"/>
<circle cx="233.30" cy="219.30" r="1.8" fill="white" stroke="#c8c8c8" stroke-width="0.9"/>
<line x1="245.50" y1="211.70" x2="253.50" y2="211.70" stroke="#3c4ca0" stroke-width="0.9"/>
<circle cx="249.50" cy="211.70" r="2.1" fill="#3c4ca0" stroke="none" stroke-width="1"/>
<line x1="245.50" y1="219.30" x2="253.50" y2="219.30" stroke="#3c4ca0" stroke-width="0.9" stroke-dasharray="1.5,1"/>
<circle cx="249.50" cy="219.30" r="1.8" fill="white" stroke="#3c4ca0" stroke-width="0.9"/>
<line x1="261.00" y1="211.70" x2="269.00" y2="211.70" stroke="#cf2a1f" stroke-width="0.9"/>
<circle cx="265.00" cy="211.70" r="2.1" fill="#cf2a1f" stroke="none" stroke-width="1"/>
<line x1="261.00" y1="219.30" x2="269.00" y2="219.30" stroke="#cf2a1f" stroke-width="0.9"/>
<circle cx="265.00" cy="219.30" r="1.8" fill="white" stroke="#cf2a1f" stroke-width="0.9"/>
<text x="272.20" y="214.00" font-size="5.8" textLength="10.70" lengthAdjust="spacingAndGlyphs" stroke="#1a1a1a" stroke-width="0.12">Epcr</text>
<text x="282.90" y="211.45" font-size="3.83" textLength="2.67" lengthAdjust="spacingAndGlyphs" stroke="#1a1a1a" stroke-width="0.08">hi</text>
<text x="287.02" y="214.00" font-size="5.8" textLength="10.98" lengthAdjust="spacingAndGlyphs" stroke="#1a1a1a" stroke-width="0.12">HSC</text>
<text x="272.20" y="221.60" font-size="5.8" textLength="10.70" lengthAdjust="spacingAndGlyphs" stroke="#1a1a1a" stroke-width="0.12">Epcr</text>
<text x="282.90" y="219.05" font-size="3.83" textLength="2.67" lengthAdjust="spacingAndGlyphs" stroke="#1a1a1a" stroke-width="0.08">lo</text>
<text x="287.02" y="221.60" font-size="5.8" textLength="10.98" lengthAdjust="spacingAndGlyphs" stroke="#1a1a1a" stroke-width="0.12">HSC</text>
<text x="40.40" y="253.40" font-size="8.3" textLength="68.10" lengthAdjust="spacingAndGlyphs" stroke="#1a1a1a" stroke-width="0.17">Hemoglobin (g/L)</text>
<rect x="39.20" y="287.00" width="72.80" height="10.80" fill="#ececec" stroke="none" stroke-width="1"/>
<line x1="37.40" y1="259.30" x2="37.40" y2="325.70" stroke="#1a1a1a" stroke-width="1.05"/>
<line x1="34.40" y1="261.40" x2="37.40" y2="261.40" stroke="#1a1a1a" stroke-width="0.9"/>
<text x="31.60" y="263.85" font-size="6.8" text-anchor="end" stroke="#1a1a1a" stroke-width="0.14">250</text>
<line x1="34.40" y1="274.16" x2="37.40" y2="274.16" stroke="#1a1a1a" stroke-width="0.9"/>
<text x="31.60" y="276.61" font-size="6.8" text-anchor="end" stroke="#1a1a1a" stroke-width="0.14">200</text>
<line x1="34.40" y1="286.92" x2="37.40" y2="286.92" stroke="#1a1a1a" stroke-width="0.9"/>
<text x="31.60" y="289.37" font-size="6.8" text-anchor="end" stroke="#1a1a1a" stroke-width="0.14">150</text>
<line x1="34.40" y1="299.68" x2="37.40" y2="299.68" stroke="#1a1a1a" stroke-width="0.9"/>
<text x="31.60" y="302.13" font-size="6.8" text-anchor="end" stroke="#1a1a1a" stroke-width="0.14">100</text>
<line x1="34.40" y1="312.44" x2="37.40" y2="312.44" stroke="#1a1a1a" stroke-width="0.9"/>
<text x="31.60" y="314.89" font-size="6.8" text-anchor="end" stroke="#1a1a1a" stroke-width="0.14">50</text>
<line x1="34.40" y1="325.20" x2="37.40" y2="325.20" stroke="#1a1a1a" stroke-width="0.9"/>
<text x="31.60" y="327.65" font-size="6.8" text-anchor="end" stroke="#1a1a1a" stroke-width="0.14">0</text>
<line x1="36.40" y1="325.20" x2="111.30" y2="325.20" stroke="#1a1a1a" stroke-width="1.1"/>
<line x1="44.50" y1="325.20" x2="44.50" y2="328.20" stroke="#1a1a1a" stroke-width="0.9"/>
<text x="44.50" y="336.60" font-size="6.3" text-anchor="middle" stroke="#1a1a1a" stroke-width="0.13">4</text>
<line x1="59.30" y1="325.20" x2="59.30" y2="328.20" stroke="#1a1a1a" stroke-width="0.9"/>
<text x="59.30" y="336.60" font-size="6.3" text-anchor="middle" stroke="#1a1a1a" stroke-width="0.13">8</text>
<line x1="73.80" y1="325.20" x2="73.80" y2="328.20" stroke="#1a1a1a" stroke-width="0.9"/>
<text x="73.80" y="336.60" font-size="6.3" text-anchor="middle" stroke="#1a1a1a" stroke-width="0.13">12</text>
<line x1="89.30" y1="325.20" x2="89.30" y2="328.20" stroke="#1a1a1a" stroke-width="0.9"/>
<text x="89.30" y="336.60" font-size="6.3" text-anchor="middle" stroke="#1a1a1a" stroke-width="0.13">16</text>
<line x1="103.80" y1="325.20" x2="103.80" y2="328.20" stroke="#1a1a1a" stroke-width="0.9"/>
<text x="103.80" y="336.60" font-size="6.3" text-anchor="middle" stroke="#1a1a1a" stroke-width="0.13">20</text>
<polyline points="44.50,296.00 59.30,290.00 73.80,291.00 89.30,291.00 103.80,300.00" fill="none" stroke="#c8c8c8" stroke-width="1.15" stroke-linejoin="round"/>
<line x1="44.50" y1="294.00" x2="44.50" y2="298.00" stroke="#c8c8c8" stroke-width="0.8"/>
<line x1="43.20" y1="294.00" x2="45.80" y2="294.00" stroke="#c8c8c8" stroke-width="0.8"/>
<line x1="43.20" y1="298.00" x2="45.80" y2="298.00" stroke="#c8c8c8" stroke-width="0.8"/>
<circle cx="44.50" cy="296.00" r="2.1" fill="#c8c8c8" stroke="none" stroke-width="1"/>
<line x1="59.30" y1="288.00" x2="59.30" y2="292.00" stroke="#c8c8c8" stroke-width="0.8"/>
<line x1="58.00" y1="288.00" x2="60.60" y2="288.00" stroke="#c8c8c8" stroke-width="0.8"/>
<line x1="58.00" y1="292.00" x2="60.60" y2="292.00" stroke="#c8c8c8" stroke-width="0.8"/>
<circle cx="59.30" cy="290.00" r="2.1" fill="#c8c8c8" stroke="none" stroke-width="1"/>
<line x1="73.80" y1="289.00" x2="73.80" y2="293.00" stroke="#c8c8c8" stroke-width="0.8"/>
<line x1="72.50" y1="289.00" x2="75.10" y2="289.00" stroke="#c8c8c8" stroke-width="0.8"/>
<line x1="72.50" y1="293.00" x2="75.10" y2="293.00" stroke="#c8c8c8" stroke-width="0.8"/>
<circle cx="73.80" cy="291.00" r="2.1" fill="#c8c8c8" stroke="none" stroke-width="1"/>
<line x1="89.30" y1="289.50" x2="89.30" y2="292.50" stroke="#c8c8c8" stroke-width="0.8"/>
<line x1="88.00" y1="289.50" x2="90.60" y2="289.50" stroke="#c8c8c8" stroke-width="0.8"/>
<line x1="88.00" y1="292.50" x2="90.60" y2="292.50" stroke="#c8c8c8" stroke-width="0.8"/>
<circle cx="89.30" cy="291.00" r="2.1" fill="#c8c8c8" stroke="none" stroke-width="1"/>
<line x1="103.80" y1="297.50" x2="103.80" y2="302.50" stroke="#c8c8c8" stroke-width="0.8"/>
<line x1="102.50" y1="297.50" x2="105.10" y2="297.50" stroke="#c8c8c8" stroke-width="0.8"/>
<line x1="102.50" y1="302.50" x2="105.10" y2="302.50" stroke="#c8c8c8" stroke-width="0.8"/>
<circle cx="103.80" cy="300.00" r="2.1" fill="#c8c8c8" stroke="none" stroke-width="1"/>
<polyline points="44.50,297.50 59.30,291.50 73.80,292.50 89.30,292.50 103.80,302.00" fill="none" stroke="#c8c8c8" stroke-width="1.15" stroke-linejoin="round"/>
<circle cx="44.50" cy="297.50" r="1.7000000000000002" fill="white" stroke="#c8c8c8" stroke-width="0.95"/>
<circle cx="59.30" cy="291.50" r="1.7000000000000002" fill="white" stroke="#c8c8c8" stroke-width="0.95"/>
<circle cx="73.80" cy="292.50" r="1.7000000000000002" fill="white" stroke="#c8c8c8" stroke-width="0.95"/>
<circle cx="89.30" cy="292.50" r="1.7000000000000002" fill="white" stroke="#c8c8c8" stroke-width="0.95"/>
<circle cx="103.80" cy="302.00" r="1.7000000000000002" fill="white" stroke="#c8c8c8" stroke-width="0.95"/>
<polyline points="44.50,296.50 59.30,290.50 73.80,291.50 89.30,292.50 103.80,296.50" fill="none" stroke="#3c4ca0" stroke-width="1.15" stroke-linejoin="round" stroke-dasharray="2,1.2"/>
<circle cx="44.50" cy="296.50" r="1.7000000000000002" fill="white" stroke="#3c4ca0" stroke-width="0.95"/>
<circle cx="59.30" cy="290.50" r="1.7000000000000002" fill="white" stroke="#3c4ca0" stroke-width="0.95"/>
<circle cx="73.80" cy="291.50" r="1.7000000000000002" fill="white" stroke="#3c4ca0" stroke-width="0.95"/>
<circle cx="89.30" cy="292.50" r="1.7000000000000002" fill="white" stroke="#3c4ca0" stroke-width="0.95"/>
<circle cx="103.80" cy="296.50" r="1.7000000000000002" fill="white" stroke="#3c4ca0" stroke-width="0.95"/>
<polyline points="44.50,299.60 59.30,291.40 73.80,291.20 89.30,291.40 103.80,296.30" fill="none" stroke="#cf2a1f" stroke-width="1.15" stroke-linejoin="round"/>
<circle cx="44.50" cy="299.60" r="1.7000000000000002" fill="white" stroke="#cf2a1f" stroke-width="0.95"/>
<circle cx="59.30" cy="291.40" r="1.7000000000000002" fill="white" stroke="#cf2a1f" stroke-width="0.95"/>
<circle cx="73.80" cy="291.20" r="1.7000000000000002" fill="white" stroke="#cf2a1f" stroke-width="0.95"/>
<circle cx="89.30" cy="291.40" r="1.7000000000000002" fill="white" stroke="#cf2a1f" stroke-width="0.95"/>
<circle cx="103.80" cy="296.30" r="1.7000000000000002" fill="white" stroke="#cf2a1f" stroke-width="0.95"/>
<polyline points="44.50,297.00 59.30,283.20 73.80,283.50 89.30,280.50 103.80,287.50" fill="none" stroke="#3c4ca0" stroke-width="1.15" stroke-linejoin="round"/>
<line x1="44.50" y1="295.50" x2="44.50" y2="298.50" stroke="#3c4ca0" stroke-width="0.8"/>
<line x1="43.20" y1="295.50" x2="45.80" y2="295.50" stroke="#3c4ca0" stroke-width="0.8"/>
<line x1="43.20" y1="298.50" x2="45.80" y2="298.50" stroke="#3c4ca0" stroke-width="0.8"/>
<circle cx="44.50" cy="297.00" r="2.1" fill="#3c4ca0" stroke="none" stroke-width="1"/>
<line x1="59.30" y1="281.70" x2="59.30" y2="284.70" stroke="#3c4ca0" stroke-width="0.8"/>
<line x1="58.00" y1="281.70" x2="60.60" y2="281.70" stroke="#3c4ca0" stroke-width="0.8"/>
<line x1="58.00" y1="284.70" x2="60.60" y2="284.70" stroke="#3c4ca0" stroke-width="0.8"/>
<circle cx="59.30" cy="283.20" r="2.1" fill="#3c4ca0" stroke="none" stroke-width="1"/>
<line x1="73.80" y1="281.70" x2="73.80" y2="285.30" stroke="#3c4ca0" stroke-width="0.8"/>
<line x1="72.50" y1="281.70" x2="75.10" y2="281.70" stroke="#3c4ca0" stroke-width="0.8"/>
<line x1="72.50" y1="285.30" x2="75.10" y2="285.30" stroke="#3c4ca0" stroke-width="0.8"/>
<circle cx="73.80" cy="283.50" r="2.1" fill="#3c4ca0" stroke="none" stroke-width="1"/>
<line x1="89.30" y1="278.70" x2="89.30" y2="282.30" stroke="#3c4ca0" stroke-width="0.8"/>
<line x1="88.00" y1="278.70" x2="90.60" y2="278.70" stroke="#3c4ca0" stroke-width="0.8"/>
<line x1="88.00" y1="282.30" x2="90.60" y2="282.30" stroke="#3c4ca0" stroke-width="0.8"/>
<circle cx="89.30" cy="280.50" r="2.1" fill="#3c4ca0" stroke="none" stroke-width="1"/>
<line x1="103.80" y1="285.00" x2="103.80" y2="290.00" stroke="#3c4ca0" stroke-width="0.8"/>
<line x1="102.50" y1="285.00" x2="105.10" y2="285.00" stroke="#3c4ca0" stroke-width="0.8"/>
<line x1="102.50" y1="290.00" x2="105.10" y2="290.00" stroke="#3c4ca0" stroke-width="0.8"/>
<circle cx="103.80" cy="287.50" r="2.1" fill="#3c4ca0" stroke="none" stroke-width="1"/>
<polyline points="44.50,288.50 59.30,275.50 73.80,272.60 89.30,271.40 103.80,277.90" fill="none" stroke="#cf2a1f" stroke-width="1.15" stroke-linejoin="round"/>
<line x1="44.50" y1="287.50" x2="44.50" y2="289.50" stroke="#cf2a1f" stroke-width="0.8"/>
<line x1="43.20" y1="287.50" x2="45.80" y2="287.50" stroke="#cf2a1f" stroke-width="0.8"/>
<line x1="43.20" y1="289.50" x2="45.80" y2="289.50" stroke="#cf2a1f" stroke-width="0.8"/>
<circle cx="44.50" cy="288.50" r="2.1" fill="#cf2a1f" stroke="none" stroke-width="1"/>
<line x1="59.30" y1="274.50" x2="59.30" y2="276.50" stroke="#cf2a1f" stroke-width="0.8"/>
<line x1="58.00" y1="274.50" x2="60.60" y2="274.50" stroke="#cf2a1f" stroke-width="0.8"/>
<line x1="58.00" y1="276.50" x2="60.60" y2="276.50" stroke="#cf2a1f" stroke-width="0.8"/>
<circle cx="59.30" cy="275.50" r="2.1" fill="#cf2a1f" stroke="none" stroke-width="1"/>
<line x1="73.80" y1="271.40" x2="73.80" y2="273.80" stroke="#cf2a1f" stroke-width="0.8"/>
<line x1="72.50" y1="271.40" x2="75.10" y2="271.40" stroke="#cf2a1f" stroke-width="0.8"/>
<line x1="72.50" y1="273.80" x2="75.10" y2="273.80" stroke="#cf2a1f" stroke-width="0.8"/>
<circle cx="73.80" cy="272.60" r="2.1" fill="#cf2a1f" stroke="none" stroke-width="1"/>
<line x1="89.30" y1="269.90" x2="89.30" y2="272.90" stroke="#cf2a1f" stroke-width="0.8"/>
<line x1="88.00" y1="269.90" x2="90.60" y2="269.90" stroke="#cf2a1f" stroke-width="0.8"/>
<line x1="88.00" y1="272.90" x2="90.60" y2="272.90" stroke="#cf2a1f" stroke-width="0.8"/>
<circle cx="89.30" cy="271.40" r="2.1" fill="#cf2a1f" stroke="none" stroke-width="1"/>
<line x1="103.80" y1="275.90" x2="103.80" y2="279.90" stroke="#cf2a1f" stroke-width="0.8"/>
<line x1="102.50" y1="275.90" x2="105.10" y2="275.90" stroke="#cf2a1f" stroke-width="0.8"/>
<line x1="102.50" y1="279.90" x2="105.10" y2="279.90" stroke="#cf2a1f" stroke-width="0.8"/>
<circle cx="103.80" cy="277.90" r="2.1" fill="#cf2a1f" stroke="none" stroke-width="1"/>
<rect x="98.59" y="266.39" width="1.43" height="1.43" fill="#cf2a1f"/>
<rect x="101.19" y="266.39" width="1.43" height="1.43" fill="#cf2a1f"/>
<rect x="103.79" y="266.39" width="1.43" height="1.43" fill="#cf2a1f"/>
<rect x="101.08" y="271.39" width="1.43" height="1.43" fill="#3c4ca0"/>
<rect x="103.68" y="271.39" width="1.43" height="1.43" fill="#3c4ca0"/>
<text x="139.60" y="253.40" font-size="8.3" textLength="53.13" lengthAdjust="spacingAndGlyphs" stroke="#1a1a1a" stroke-width="0.17">Platelets (x10</text>
<text x="192.73" y="249.75" font-size="5.48" textLength="6.44" lengthAdjust="spacingAndGlyphs" stroke="#1a1a1a" stroke-width="0.11">12</text>
<text x="199.17" y="253.40" font-size="8.3" textLength="10.23" lengthAdjust="spacingAndGlyphs" stroke="#1a1a1a" stroke-width="0.17">/L)</text>
<rect x="139.60" y="285.10" width="73.00" height="25.40" fill="#ececec" stroke="none" stroke-width="1"/>
<line x1="137.50" y1="259.30" x2="137.50" y2="325.70" stroke="#1a1a1a" stroke-width="1.05"/>
<line x1="134.50" y1="261.40" x2="137.50" y2="261.40" stroke="#1a1a1a" stroke-width="0.9"/>
<text x="131.70" y="263.85" font-size="6.8" text-anchor="end" stroke="#1a1a1a" stroke-width="0.14">2.5</text>
<line x1="134.50" y1="274.16" x2="137.50" y2="274.16" stroke="#1a1a1a" stroke-width="0.9"/>
<text x="131.70" y="276.61" font-size="6.8" text-anchor="end" stroke="#1a1a1a" stroke-width="0.14">2.0</text>
<line x1="134.50" y1="286.92" x2="137.50" y2="286.92" stroke="#1a1a1a" stroke-width="0.9"/>
<text x="131.70" y="289.37" font-size="6.8" text-anchor="end" stroke="#1a1a1a" stroke-width="0.14">1.5</text>
<line x1="134.50" y1="299.68" x2="137.50" y2="299.68" stroke="#1a1a1a" stroke-width="0.9"/>
<text x="131.70" y="302.13" font-size="6.8" text-anchor="end" stroke="#1a1a1a" stroke-width="0.14">1.0</text>
<line x1="134.50" y1="312.44" x2="137.50" y2="312.44" stroke="#1a1a1a" stroke-width="0.9"/>
<text x="131.70" y="314.89" font-size="6.8" text-anchor="end" stroke="#1a1a1a" stroke-width="0.14">0.5</text>
<line x1="134.50" y1="325.20" x2="137.50" y2="325.20" stroke="#1a1a1a" stroke-width="0.9"/>
<text x="131.70" y="327.65" font-size="6.8" text-anchor="end" stroke="#1a1a1a" stroke-width="0.14">0</text>
<line x1="136.50" y1="325.20" x2="211.60" y2="325.20" stroke="#1a1a1a" stroke-width="1.1"/>
<line x1="144.90" y1="325.20" x2="144.90" y2="328.20" stroke="#1a1a1a" stroke-width="0.9"/>
<text x="144.90" y="336.60" font-size="6.3" text-anchor="middle" stroke="#1a1a1a" stroke-width="0.13">4</text>
<line x1="159.70" y1="325.20" x2="159.70" y2="328.20" stroke="#1a1a1a" stroke-width="0.9"/>
<text x="159.70" y="336.60" font-size="6.3" text-anchor="middle" stroke="#1a1a1a" stroke-width="0.13">8</text>
<line x1="174.50" y1="325.20" x2="174.50" y2="328.20" stroke="#1a1a1a" stroke-width="0.9"/>
<text x="174.50" y="336.60" font-size="6.3" text-anchor="middle" stroke="#1a1a1a" stroke-width="0.13">12</text>
<line x1="189.30" y1="325.20" x2="189.30" y2="328.20" stroke="#1a1a1a" stroke-width="0.9"/>
<text x="189.30" y="336.60" font-size="6.3" text-anchor="middle" stroke="#1a1a1a" stroke-width="0.13">16</text>
<line x1="204.10" y1="325.20" x2="204.10" y2="328.20" stroke="#1a1a1a" stroke-width="0.9"/>
<text x="204.10" y="336.60" font-size="6.3" text-anchor="middle" stroke="#1a1a1a" stroke-width="0.13">20</text>
<polyline points="144.90,299.00 159.70,297.00 174.50,298.00 189.30,297.00 204.10,300.60" fill="none" stroke="#c8c8c8" stroke-width="1.15" stroke-linejoin="round"/>
<line x1="144.90" y1="297.00" x2="144.90" y2="301.00" stroke="#c8c8c8" stroke-width="0.8"/>
<line x1="143.60" y1="297.00" x2="146.20" y2="297.00" stroke="#c8c8c8" stroke-width="0.8"/>
<line x1="143.60" y1="301.00" x2="146.20" y2="301.00" stroke="#c8c8c8" stroke-width="0.8"/>
<circle cx="144.90" cy="299.00" r="2.1" fill="#c8c8c8" stroke="none" stroke-width="1"/>
<line x1="159.70" y1="295.00" x2="159.70" y2="299.00" stroke="#c8c8c8" stroke-width="0.8"/>
<line x1="158.40" y1="295.00" x2="161.00" y2="295.00" stroke="#c8c8c8" stroke-width="0.8"/>
<line x1="158.40" y1="299.00" x2="161.00" y2="299.00" stroke="#c8c8c8" stroke-width="0.8"/>
<circle cx="159.70" cy="297.00" r="2.1" fill="#c8c8c8" stroke="none" stroke-width="1"/>
<line x1="174.50" y1="296.00" x2="174.50" y2="300.00" stroke="#c8c8c8" stroke-width="0.8"/>
<line x1="173.20" y1="296.00" x2="175.80" y2="296.00" stroke="#c8c8c8" stroke-width="0.8"/>
<line x1="173.20" y1="300.00" x2="175.80" y2="300.00" stroke="#c8c8c8" stroke-width="0.8"/>
<circle cx="174.50" cy="298.00" r="2.1" fill="#c8c8c8" stroke="none" stroke-width="1"/>
<line x1="189.30" y1="295.50" x2="189.30" y2="298.50" stroke="#c8c8c8" stroke-width="0.8"/>
<line x1="188.00" y1="295.50" x2="190.60" y2="295.50" stroke="#c8c8c8" stroke-width="0.8"/>
<line x1="188.00" y1="298.50" x2="190.60" y2="298.50" stroke="#c8c8c8" stroke-width="0.8"/>
<circle cx="189.30" cy="297.00" r="2.1" fill="#c8c8c8" stroke="none" stroke-width="1"/>
<line x1="204.10" y1="298.10" x2="204.10" y2="303.10" stroke="#c8c8c8" stroke-width="0.8"/>
<line x1="202.80" y1="298.10" x2="205.40" y2="298.10" stroke="#c8c8c8" stroke-width="0.8"/>
<line x1="202.80" y1="303.10" x2="205.40" y2="303.10" stroke="#c8c8c8" stroke-width="0.8"/>
<circle cx="204.10" cy="300.60" r="2.1" fill="#c8c8c8" stroke="none" stroke-width="1"/>
<polyline points="144.90,300.00 159.70,298.00 174.50,299.50 189.30,298.00 204.10,301.50" fill="none" stroke="#c8c8c8" stroke-width="1.15" stroke-linejoin="round"/>
<circle cx="144.90" cy="300.00" r="1.7000000000000002" fill="white" stroke="#c8c8c8" stroke-width="0.95"/>
<circle cx="159.70" cy="298.00" r="1.7000000000000002" fill="white" stroke="#c8c8c8" stroke-width="0.95"/>
<circle cx="174.50" cy="299.50" r="1.7000000000000002" fill="white" stroke="#c8c8c8" stroke-width="0.95"/>
<circle cx="189.30" cy="298.00" r="1.7000000000000002" fill="white" stroke="#c8c8c8" stroke-width="0.95"/>
<circle cx="204.10" cy="301.50" r="1.7000000000000002" fill="white" stroke="#c8c8c8" stroke-width="0.95"/>
<polyline points="144.90,302.50 159.70,298.00 174.50,297.00 189.30,294.00 204.10,292.50" fill="none" stroke="#3c4ca0" stroke-width="1.15" stroke-linejoin="round" stroke-dasharray="2,1.2"/>
<circle cx="144.90" cy="302.50" r="1.7000000000000002" fill="white" stroke="#3c4ca0" stroke-width="0.95"/>
<circle cx="159.70" cy="298.00" r="1.7000000000000002" fill="white" stroke="#3c4ca0" stroke-width="0.95"/>
<circle cx="174.50" cy="297.00" r="1.7000000000000002" fill="white" stroke="#3c4ca0" stroke-width="0.95"/>
<circle cx="189.30" cy="294.00" r="1.7000000000000002" fill="white" stroke="#3c4ca0" stroke-width="0.95"/>
<circle cx="204.10" cy="292.50" r="1.7000000000000002" fill="white" stroke="#3c4ca0" stroke-width="0.95"/>
<polyline points="144.90,300.60 159.70,296.80 174.50,298.00 189.30,295.70 204.10,292.80" fill="none" stroke="#cf2a1f" stroke-width="1.15" stroke-linejoin="round"/>
<line x1="144.90" y1="299.10" x2="144.90" y2="302.10" stroke="#cf2a1f" stroke-width="0.8"/>
<line x1="143.60" y1="299.10" x2="146.20" y2="299.10" stroke="#cf2a1f" stroke-width="0.8"/>
<line x1="143.60" y1="302.10" x2="146.20" y2="302.10" stroke="#cf2a1f" stroke-width="0.8"/>
<circle cx="144.90" cy="300.60" r="1.7000000000000002" fill="white" stroke="#cf2a1f" stroke-width="0.95"/>
<line x1="159.70" y1="295.30" x2="159.70" y2="298.30" stroke="#cf2a1f" stroke-width="0.8"/>
<line x1="158.40" y1="295.30" x2="161.00" y2="295.30" stroke="#cf2a1f" stroke-width="0.8"/>
<line x1="158.40" y1="298.30" x2="161.00" y2="298.30" stroke="#cf2a1f" stroke-width="0.8"/>
<circle cx="159.70" cy="296.80" r="1.7000000000000002" fill="white" stroke="#cf2a1f" stroke-width="0.95"/>
<line x1="174.50" y1="296.50" x2="174.50" y2="299.50" stroke="#cf2a1f" stroke-width="0.8"/>
<line x1="173.20" y1="296.50" x2="175.80" y2="296.50" stroke="#cf2a1f" stroke-width="0.8"/>
<line x1="173.20" y1="299.50" x2="175.80" y2="299.50" stroke="#cf2a1f" stroke-width="0.8"/>
<circle cx="174.50" cy="298.00" r="1.7000000000000002" fill="white" stroke="#cf2a1f" stroke-width="0.95"/>
<line x1="189.30" y1="294.20" x2="189.30" y2="297.20" stroke="#cf2a1f" stroke-width="0.8"/>
<line x1="188.00" y1="294.20" x2="190.60" y2="294.20" stroke="#cf2a1f" stroke-width="0.8"/>
<line x1="188.00" y1="297.20" x2="190.60" y2="297.20" stroke="#cf2a1f" stroke-width="0.8"/>
<circle cx="189.30" cy="295.70" r="1.7000000000000002" fill="white" stroke="#cf2a1f" stroke-width="0.95"/>
<line x1="204.10" y1="290.30" x2="204.10" y2="295.30" stroke="#cf2a1f" stroke-width="0.8"/>
<line x1="202.80" y1="290.30" x2="205.40" y2="290.30" stroke="#cf2a1f" stroke-width="0.8"/>
<line x1="202.80" y1="295.30" x2="205.40" y2="295.30" stroke="#cf2a1f" stroke-width="0.8"/>
<circle cx="204.10" cy="292.80" r="1.7000000000000002" fill="white" stroke="#cf2a1f" stroke-width="0.95"/>
<polyline points="144.90,304.40 159.70,291.00 174.50,294.90 189.30,273.50 204.10,275.60" fill="none" stroke="#3c4ca0" stroke-width="1.15" stroke-linejoin="round"/>
<line x1="144.90" y1="303.40" x2="144.90" y2="305.40" stroke="#3c4ca0" stroke-width="0.8"/>
<line x1="143.60" y1="303.40" x2="146.20" y2="303.40" stroke="#3c4ca0" stroke-width="0.8"/>
<line x1="143.60" y1="305.40" x2="146.20" y2="305.40" stroke="#3c4ca0" stroke-width="0.8"/>
<circle cx="144.90" cy="304.40" r="2.1" fill="#3c4ca0" stroke="none" stroke-width="1"/>
<line x1="159.70" y1="288.00" x2="159.70" y2="294.00" stroke="#3c4ca0" stroke-width="0.8"/>
<line x1="158.40" y1="288.00" x2="161.00" y2="288.00" stroke="#3c4ca0" stroke-width="0.8"/>
<line x1="158.40" y1="294.00" x2="161.00" y2="294.00" stroke="#3c4ca0" stroke-width="0.8"/>
<circle cx="159.70" cy="291.00" r="2.1" fill="#3c4ca0" stroke="none" stroke-width="1"/>
<line x1="174.50" y1="291.90" x2="174.50" y2="297.90" stroke="#3c4ca0" stroke-width="0.8"/>
<line x1="173.20" y1="291.90" x2="175.80" y2="291.90" stroke="#3c4ca0" stroke-width="0.8"/>
<line x1="173.20" y1="297.90" x2="175.80" y2="297.90" stroke="#3c4ca0" stroke-width="0.8"/>
<circle cx="174.50" cy="294.90" r="2.1" fill="#3c4ca0" stroke="none" stroke-width="1"/>
<line x1="189.30" y1="263.50" x2="189.30" y2="283.50" stroke="#3c4ca0" stroke-width="0.8"/>
<line x1="188.00" y1="263.50" x2="190.60" y2="263.50" stroke="#3c4ca0" stroke-width="0.8"/>
<line x1="188.00" y1="283.50" x2="190.60" y2="283.50" stroke="#3c4ca0" stroke-width="0.8"/>
<circle cx="189.30" cy="273.50" r="2.1" fill="#3c4ca0" stroke="none" stroke-width="1"/>
<line x1="204.10" y1="268.60" x2="204.10" y2="282.60" stroke="#3c4ca0" stroke-width="0.8"/>
<line x1="202.80" y1="268.60" x2="205.40" y2="268.60" stroke="#3c4ca0" stroke-width="0.8"/>
<line x1="202.80" y1="282.60" x2="205.40" y2="282.60" stroke="#3c4ca0" stroke-width="0.8"/>
<circle cx="204.10" cy="275.60" r="2.1" fill="#3c4ca0" stroke="none" stroke-width="1"/>
<polyline points="144.90,308.40 159.70,307.60 174.50,313.30 189.30,315.80 204.10,317.90" fill="none" stroke="#cf2a1f" stroke-width="1.15" stroke-linejoin="round"/>
<line x1="144.90" y1="307.60" x2="144.90" y2="309.20" stroke="#cf2a1f" stroke-width="0.8"/>
<line x1="143.60" y1="307.60" x2="146.20" y2="307.60" stroke="#cf2a1f" stroke-width="0.8"/>
<line x1="143.60" y1="309.20" x2="146.20" y2="309.20" stroke="#cf2a1f" stroke-width="0.8"/>
<circle cx="144.90" cy="308.40" r="2.1" fill="#cf2a1f" stroke="none" stroke-width="1"/>
<line x1="159.70" y1="306.80" x2="159.70" y2="308.40" stroke="#cf2a1f" stroke-width="0.8"/>
<line x1="158.40" y1="306.80" x2="161.00" y2="306.80" stroke="#cf2a1f" stroke-width="0.8"/>
<line x1="158.40" y1="308.40" x2="161.00" y2="308.40" stroke="#cf2a1f" stroke-width="0.8"/>
<circle cx="159.70" cy="307.60" r="2.1" fill="#cf2a1f" stroke="none" stroke-width="1"/>
<line x1="174.50" y1="312.50" x2="174.50" y2="314.10" stroke="#cf2a1f" stroke-width="0.8"/>
<line x1="173.20" y1="312.50" x2="175.80" y2="312.50" stroke="#cf2a1f" stroke-width="0.8"/>
<line x1="173.20" y1="314.10" x2="175.80" y2="314.10" stroke="#cf2a1f" stroke-width="0.8"/>
<circle cx="174.50" cy="313.30" r="2.1" fill="#cf2a1f" stroke="none" stroke-width="1"/>
<line x1="189.30" y1="315.00" x2="189.30" y2="316.60" stroke="#cf2a1f" stroke-width="0.8"/>
<line x1="188.00" y1="315.00" x2="190.60" y2="315.00" stroke="#cf2a1f" stroke-width="0.8"/>
<line x1="188.00" y1="316.60" x2="190.60" y2="316.60" stroke="#cf2a1f" stroke-width="0.8"/>
<circle cx="189.30" cy="315.80" r="2.1" fill="#cf2a1f" stroke="none" stroke-width="1"/>
<line x1="204.10" y1="315.90" x2="204.10" y2="319.90" stroke="#cf2a1f" stroke-width="0.8"/>
<line x1="202.80" y1="315.90" x2="205.40" y2="315.90" stroke="#cf2a1f" stroke-width="0.8"/>
<line x1="202.80" y1="319.90" x2="205.40" y2="319.90" stroke="#cf2a1f" stroke-width="0.8"/>
<circle cx="204.10" cy="317.90" r="2.1" fill="#cf2a1f" stroke="none" stroke-width="1"/>
<rect x="203.28" y="263.29" width="1.43" height="1.43" fill="#3c4ca0"/>
<rect x="200.88" y="311.49" width="1.43" height="1.43" fill="#cf2a1f"/>
<rect x="203.48" y="311.49" width="1.43" height="1.43" fill="#cf2a1f"/>
<rect x="206.08" y="311.49" width="1.43" height="1.43" fill="#cf2a1f"/>
<text x="236.20" y="253.40" font-size="8.3" textLength="64.26" lengthAdjust="spacingAndGlyphs" stroke="#1a1a1a" stroke-width="0.17">Neutrophils (x10</text>
<text x="300.46" y="249.75" font-size="5.48" textLength="3.24" lengthAdjust="spacingAndGlyphs" stroke="#1a1a1a" stroke-width="0.11">9</text>
<text x="303.70" y="253.40" font-size="8.3" textLength="10.30" lengthAdjust="spacingAndGlyphs" stroke="#1a1a1a" stroke-width="0.17">/L)</text>
<rect x="242.30" y="294.00" width="71.00" height="22.80" fill="#ececec" stroke="none" stroke-width="1"/>
<line x1="238.20" y1="259.30" x2="238.20" y2="325.70" stroke="#1a1a1a" stroke-width="1.05"/>
<line x1="235.20" y1="261.30" x2="238.20" y2="261.30" stroke="#1a1a1a" stroke-width="0.9"/>
<text x="232.40" y="263.75" font-size="6.8" text-anchor="end" stroke="#1a1a1a" stroke-width="0.14">4</text>
<line x1="235.20" y1="277.40" x2="238.20" y2="277.40" stroke="#1a1a1a" stroke-width="0.9"/>
<text x="232.40" y="279.85" font-size="6.8" text-anchor="end" stroke="#1a1a1a" stroke-width="0.14">3</text>
<line x1="235.20" y1="293.60" x2="238.20" y2="293.60" stroke="#1a1a1a" stroke-width="0.9"/>
<text x="232.40" y="296.05" font-size="6.8" text-anchor="end" stroke="#1a1a1a" stroke-width="0.14">2</text>
<line x1="235.20" y1="309.30" x2="238.20" y2="309.30" stroke="#1a1a1a" stroke-width="0.9"/>
<text x="232.40" y="311.75" font-size="6.8" text-anchor="end" stroke="#1a1a1a" stroke-width="0.14">1</text>
<line x1="235.20" y1="325.30" x2="238.20" y2="325.30" stroke="#1a1a1a" stroke-width="0.9"/>
<text x="232.40" y="327.75" font-size="6.8" text-anchor="end" stroke="#1a1a1a" stroke-width="0.14">0</text>
<line x1="237.20" y1="325.20" x2="312.00" y2="325.20" stroke="#1a1a1a" stroke-width="1.1"/>
<line x1="245.30" y1="325.20" x2="245.30" y2="328.20" stroke="#1a1a1a" stroke-width="0.9"/>
<text x="245.30" y="336.60" font-size="6.3" text-anchor="middle" stroke="#1a1a1a" stroke-width="0.13">4</text>
<line x1="260.40" y1="325.20" x2="260.40" y2="328.20" stroke="#1a1a1a" stroke-width="0.9"/>
<text x="260.40" y="336.60" font-size="6.3" text-anchor="middle" stroke="#1a1a1a" stroke-width="0.13">8</text>
<line x1="275.00" y1="325.20" x2="275.00" y2="328.20" stroke="#1a1a1a" stroke-width="0.9"/>
<text x="275.00" y="336.60" font-size="6.3" text-anchor="middle" stroke="#1a1a1a" stroke-width="0.13">12</text>
<line x1="289.70" y1="325.20" x2="289.70" y2="328.20" stroke="#1a1a1a" stroke-width="0.9"/>
<text x="289.70" y="336.60" font-size="6.3" text-anchor="middle" stroke="#1a1a1a" stroke-width="0.13">16</text>
<line x1="304.50" y1="325.20" x2="304.50" y2="328.20" stroke="#1a1a1a" stroke-width="0.9"/>
<text x="304.50" y="336.60" font-size="6.3" text-anchor="middle" stroke="#1a1a1a" stroke-width="0.13">20</text>
<polyline points="245.30,299.60 260.40,315.50 275.00,319.50 289.70,318.00 304.50,318.00" fill="none" stroke="#c8c8c8" stroke-width="1.15" stroke-linejoin="round"/>
<line x1="245.30" y1="296.60" x2="245.30" y2="302.60" stroke="#c8c8c8" stroke-width="0.8"/>
<line x1="244.00" y1="296.60" x2="246.60" y2="296.60" stroke="#c8c8c8" stroke-width="0.8"/>
<line x1="244.00" y1="302.60" x2="246.60" y2="302.60" stroke="#c8c8c8" stroke-width="0.8"/>
<circle cx="245.30" cy="299.60" r="1.7000000000000002" fill="white" stroke="#c8c8c8" stroke-width="0.95"/>
<line x1="260.40" y1="314.00" x2="260.40" y2="317.00" stroke="#c8c8c8" stroke-width="0.8"/>
<line x1="259.10" y1="314.00" x2="261.70" y2="314.00" stroke="#c8c8c8" stroke-width="0.8"/>
<line x1="259.10" y1="317.00" x2="261.70" y2="317.00" stroke="#c8c8c8" stroke-width="0.8"/>
<circle cx="260.40" cy="315.50" r="1.7000000000000002" fill="white" stroke="#c8c8c8" stroke-width="0.95"/>
<line x1="275.00" y1="318.00" x2="275.00" y2="321.00" stroke="#c8c8c8" stroke-width="0.8"/>
<line x1="273.70" y1="318.00" x2="276.30" y2="318.00" stroke="#c8c8c8" stroke-width="0.8"/>
<line x1="273.70" y1="321.00" x2="276.30" y2="321.00" stroke="#c8c8c8" stroke-width="0.8"/>
<circle cx="275.00" cy="319.50" r="1.7000000000000002" fill="white" stroke="#c8c8c8" stroke-width="0.95"/>
<line x1="289.70" y1="317.00" x2="289.70" y2="319.00" stroke="#c8c8c8" stroke-width="0.8"/>
<line x1="288.40" y1="317.00" x2="291.00" y2="317.00" stroke="#c8c8c8" stroke-width="0.8"/>
<line x1="288.40" y1="319.00" x2="291.00" y2="319.00" stroke="#c8c8c8" stroke-width="0.8"/>
<circle cx="289.70" cy="318.00" r="1.7000000000000002" fill="white" stroke="#c8c8c8" stroke-width="0.95"/>
<line x1="304.50" y1="317.00" x2="304.50" y2="319.00" stroke="#c8c8c8" stroke-width="0.8"/>
<line x1="303.20" y1="317.00" x2="305.80" y2="317.00" stroke="#c8c8c8" stroke-width="0.8"/>
<line x1="303.20" y1="319.00" x2="305.80" y2="319.00" stroke="#c8c8c8" stroke-width="0.8"/>
<circle cx="304.50" cy="318.00" r="1.7000000000000002" fill="white" stroke="#c8c8c8" stroke-width="0.95"/>
<polyline points="245.30,303.00 260.40,315.00 275.00,318.00 289.70,319.00 304.50,319.00" fill="none" stroke="#c8c8c8" stroke-width="1.15" stroke-linejoin="round"/>
<circle cx="245.30" cy="303.00" r="2.1" fill="#c8c8c8" stroke="none" stroke-width="1"/>
<circle cx="260.40" cy="315.00" r="2.1" fill="#c8c8c8" stroke="none" stroke-width="1"/>
<circle cx="275.00" cy="318.00" r="2.1" fill="#c8c8c8" stroke="none" stroke-width="1"/>
<circle cx="289.70" cy="319.00" r="2.1" fill="#c8c8c8" stroke="none" stroke-width="1"/>
<circle cx="304.50" cy="319.00" r="2.1" fill="#c8c8c8" stroke="none" stroke-width="1"/>
<polyline points="245.30,318.50 260.40,319.50 275.00,318.50 289.70,318.00 304.50,318.50" fill="none" stroke="#3c4ca0" stroke-width="1.15" stroke-linejoin="round" stroke-dasharray="2,1.2"/>
<circle cx="245.30" cy="318.50" r="1.7000000000000002" fill="white" stroke="#3c4ca0" stroke-width="0.95"/>
<circle cx="260.40" cy="319.50" r="1.7000000000000002" fill="white" stroke="#3c4ca0" stroke-width="0.95"/>
<circle cx="275.00" cy="318.50" r="1.7000000000000002" fill="white" stroke="#3c4ca0" stroke-width="0.95"/>
<circle cx="289.70" cy="318.00" r="1.7000000000000002" fill="white" stroke="#3c4ca0" stroke-width="0.95"/>
<circle cx="304.50" cy="318.50" r="1.7000000000000002" fill="white" stroke="#3c4ca0" stroke-width="0.95"/>
<polyline points="245.30,315.00 260.40,317.50 275.00,319.50 289.70,317.00 304.50,320.00" fill="none" stroke="#cf2a1f" stroke-width="1.15" stroke-linejoin="round"/>
<circle cx="245.30" cy="315.00" r="1.7000000000000002" fill="white" stroke="#cf2a1f" stroke-width="0.95"/>
<circle cx="260.40" cy="317.50" r="1.7000000000000002" fill="white" stroke="#cf2a1f" stroke-width="0.95"/>
<circle cx="275.00" cy="319.50" r="1.7000000000000002" fill="white" stroke="#cf2a1f" stroke-width="0.95"/>
<circle cx="289.70" cy="317.00" r="1.7000000000000002" fill="white" stroke="#cf2a1f" stroke-width="0.95"/>
<circle cx="304.50" cy="320.00" r="1.7000000000000002" fill="white" stroke="#cf2a1f" stroke-width="0.95"/>
<polyline points="245.30,316.00 260.40,317.50 275.00,317.50 289.70,316.50 304.50,313.00" fill="none" stroke="#cf2a1f" stroke-width="1.15" stroke-linejoin="round"/>
<line x1="245.30" y1="315.00" x2="245.30" y2="317.00" stroke="#cf2a1f" stroke-width="0.8"/>
<line x1="244.00" y1="315.00" x2="246.60" y2="315.00" stroke="#cf2a1f" stroke-width="0.8"/>
<line x1="244.00" y1="317.00" x2="246.60" y2="317.00" stroke="#cf2a1f" stroke-width="0.8"/>
<circle cx="245.30" cy="316.00" r="2.1" fill="#cf2a1f" stroke="none" stroke-width="1"/>
<line x1="260.40" y1="316.50" x2="260.40" y2="318.50" stroke="#cf2a1f" stroke-width="0.8"/>
<line x1="259.10" y1="316.50" x2="261.70" y2="316.50" stroke="#cf2a1f" stroke-width="0.8"/>
<line x1="259.10" y1="318.50" x2="261.70" y2="318.50" stroke="#cf2a1f" stroke-width="0.8"/>
<circle cx="260.40" cy="317.50" r="2.1" fill="#cf2a1f" stroke="none" stroke-width="1"/>
<line x1="275.00" y1="316.50" x2="275.00" y2="318.50" stroke="#cf2a1f" stroke-width="0.8"/>
<line x1="273.70" y1="316.50" x2="276.30" y2="316.50" stroke="#cf2a1f" stroke-width="0.8"/>
<line x1="273.70" y1="318.50" x2="276.30" y2="318.50" stroke="#cf2a1f" stroke-width="0.8"/>
<circle cx="275.00" cy="317.50" r="2.1" fill="#cf2a1f" stroke="none" stroke-width="1"/>
<line x1="289.70" y1="315.50" x2="289.70" y2="317.50" stroke="#cf2a1f" stroke-width="0.8"/>
<line x1="288.40" y1="315.50" x2="291.00" y2="315.50" stroke="#cf2a1f" stroke-width="0.8"/>
<line x1="288.40" y1="317.50" x2="291.00" y2="317.50" stroke="#cf2a1f" stroke-width="0.8"/>
<circle cx="289.70" cy="316.50" r="2.1" fill="#cf2a1f" stroke="none" stroke-width="1"/>
<line x1="304.50" y1="311.50" x2="304.50" y2="314.50" stroke="#cf2a1f" stroke-width="0.8"/>
<line x1="303.20" y1="311.50" x2="305.80" y2="311.50" stroke="#cf2a1f" stroke-width="0.8"/>
<line x1="303.20" y1="314.50" x2="305.80" y2="314.50" stroke="#cf2a1f" stroke-width="0.8"/>
<circle cx="304.50" cy="313.00" r="2.1" fill="#cf2a1f" stroke="none" stroke-width="1"/>
<polyline points="245.30,306.70 260.40,307.70 275.00,307.70 289.70,281.80 304.50,285.90" fill="none" stroke="#3c4ca0" stroke-width="1.15" stroke-linejoin="round"/>
<line x1="245.30" y1="304.70" x2="245.30" y2="308.70" stroke="#3c4ca0" stroke-width="0.8"/>
<line x1="244.00" y1="304.70" x2="246.60" y2="304.70" stroke="#3c4ca0" stroke-width="0.8"/>
<line x1="244.00" y1="308.70" x2="246.60" y2="308.70" stroke="#3c4ca0" stroke-width="0.8"/>
<circle cx="245.30" cy="306.70" r="2.1" fill="#3c4ca0" stroke="none" stroke-width="1"/>
<line x1="260.40" y1="305.20" x2="260.40" y2="310.20" stroke="#3c4ca0" stroke-width="0.8"/>
<line x1="259.10" y1="305.20" x2="261.70" y2="305.20" stroke="#3c4ca0" stroke-width="0.8"/>
<line x1="259.10" y1="310.20" x2="261.70" y2="310.20" stroke="#3c4ca0" stroke-width="0.8"/>
<circle cx="260.40" cy="307.70" r="2.1" fill="#3c4ca0" stroke="none" stroke-width="1"/>
<line x1="275.00" y1="304.70" x2="275.00" y2="310.70" stroke="#3c4ca0" stroke-width="0.8"/>
<line x1="273.70" y1="304.70" x2="276.30" y2="304.70" stroke="#3c4ca0" stroke-width="0.8"/>
<line x1="273.70" y1="310.70" x2="276.30" y2="310.70" stroke="#3c4ca0" stroke-width="0.8"/>
<circle cx="275.00" cy="307.70" r="2.1" fill="#3c4ca0" stroke="none" stroke-width="1"/>
<line x1="289.70" y1="269.30" x2="289.70" y2="294.30" stroke="#3c4ca0" stroke-width="0.8"/>
<line x1="288.40" y1="269.30" x2="291.00" y2="269.30" stroke="#3c4ca0" stroke-width="0.8"/>
<line x1="288.40" y1="294.30" x2="291.00" y2="294.30" stroke="#3c4ca0" stroke-width="0.8"/>
<circle cx="289.70" cy="281.80" r="2.1" fill="#3c4ca0" stroke="none" stroke-width="1"/>
<line x1="304.50" y1="270.40" x2="304.50" y2="301.40" stroke="#3c4ca0" stroke-width="0.8"/>
<line x1="303.20" y1="270.40" x2="305.80" y2="270.40" stroke="#3c4ca0" stroke-width="0.8"/>
<line x1="303.20" y1="301.40" x2="305.80" y2="301.40" stroke="#3c4ca0" stroke-width="0.8"/>
<circle cx="304.50" cy="285.90" r="2.1" fill="#3c4ca0" stroke="none" stroke-width="1"/>
<rect x="302.99" y="266.29" width="1.43" height="1.43" fill="#3c4ca0"/>
<rect x="305.59" y="266.29" width="1.43" height="1.43" fill="#3c4ca0"/>
<text x="334.20" y="253.40" font-size="8.3" textLength="69.59" lengthAdjust="spacingAndGlyphs" stroke="#1a1a1a" stroke-width="0.17">Lymphocytes (x10</text>
<text x="403.79" y="249.75" font-size="5.48" textLength="3.16" lengthAdjust="spacingAndGlyphs" stroke="#1a1a1a" stroke-width="0.11">9</text>
<text x="406.95" y="253.40" font-size="8.3" textLength="10.05" lengthAdjust="spacingAndGlyphs" stroke="#1a1a1a" stroke-width="0.17">/L)</text>
<rect x="341.30" y="301.60" width="70.70" height="15.20" fill="#ececec" stroke="none" stroke-width="1"/>
<line x1="338.80" y1="259.30" x2="338.80" y2="325.70" stroke="#1a1a1a" stroke-width="1.05"/>
<line x1="335.80" y1="261.40" x2="338.80" y2="261.40" stroke="#1a1a1a" stroke-width="0.9"/>
<text x="333.00" y="263.85" font-size="6.8" text-anchor="end" stroke="#1a1a1a" stroke-width="0.14">25</text>
<line x1="335.80" y1="274.16" x2="338.80" y2="274.16" stroke="#1a1a1a" stroke-width="0.9"/>
<text x="333.00" y="276.61" font-size="6.8" text-anchor="end" stroke="#1a1a1a" stroke-width="0.14">20</text>
<line x1="335.80" y1="286.92" x2="338.80" y2="286.92" stroke="#1a1a1a" stroke-width="0.9"/>
<text x="333.00" y="289.37" font-size="6.8" text-anchor="end" stroke="#1a1a1a" stroke-width="0.14">15</text>
<line x1="335.80" y1="299.68" x2="338.80" y2="299.68" stroke="#1a1a1a" stroke-width="0.9"/>
<text x="333.00" y="302.13" font-size="6.8" text-anchor="end" stroke="#1a1a1a" stroke-width="0.14">10</text>
<line x1="335.80" y1="312.44" x2="338.80" y2="312.44" stroke="#1a1a1a" stroke-width="0.9"/>
<text x="333.00" y="314.89" font-size="6.8" text-anchor="end" stroke="#1a1a1a" stroke-width="0.14">5</text>
<line x1="335.80" y1="325.20" x2="338.80" y2="325.20" stroke="#1a1a1a" stroke-width="0.9"/>
<text x="333.00" y="327.65" font-size="6.8" text-anchor="end" stroke="#1a1a1a" stroke-width="0.14">0</text>
<line x1="337.80" y1="325.20" x2="412.40" y2="325.20" stroke="#1a1a1a" stroke-width="1.1"/>
<line x1="345.30" y1="325.20" x2="345.30" y2="328.20" stroke="#1a1a1a" stroke-width="0.9"/>
<text x="345.30" y="336.60" font-size="6.3" text-anchor="middle" stroke="#1a1a1a" stroke-width="0.13">4</text>
<line x1="360.40" y1="325.20" x2="360.40" y2="328.20" stroke="#1a1a1a" stroke-width="0.9"/>
<text x="360.40" y="336.60" font-size="6.3" text-anchor="middle" stroke="#1a1a1a" stroke-width="0.13">8</text>
<line x1="375.20" y1="325.20" x2="375.20" y2="328.20" stroke="#1a1a1a" stroke-width="0.9"/>
<text x="375.20" y="336.60" font-size="6.3" text-anchor="middle" stroke="#1a1a1a" stroke-width="0.13">12</text>
<line x1="390.10" y1="325.20" x2="390.10" y2="328.20" stroke="#1a1a1a" stroke-width="0.9"/>
<text x="390.10" y="336.60" font-size="6.3" text-anchor="middle" stroke="#1a1a1a" stroke-width="0.13">16</text>
<line x1="404.90" y1="325.20" x2="404.90" y2="328.20" stroke="#1a1a1a" stroke-width="0.9"/>
<text x="404.90" y="336.60" font-size="6.3" text-anchor="middle" stroke="#1a1a1a" stroke-width="0.13">20</text>
<polyline points="345.30,305.70 360.40,295.60 375.20,310.70 390.10,293.60 404.90,307.70" fill="none" stroke="#c8c8c8" stroke-width="1.15" stroke-linejoin="round"/>
<line x1="345.30" y1="303.70" x2="345.30" y2="307.70" stroke="#c8c8c8" stroke-width="0.8"/>
<line x1="344.00" y1="303.70" x2="346.60" y2="303.70" stroke="#c8c8c8" stroke-width="0.8"/>
<line x1="344.00" y1="307.70" x2="346.60" y2="307.70" stroke="#c8c8c8" stroke-width="0.8"/>
<circle cx="345.30" cy="305.70" r="2.1" fill="#c8c8c8" stroke="none" stroke-width="1"/>
<line x1="360.40" y1="293.60" x2="360.40" y2="297.60" stroke="#c8c8c8" stroke-width="0.8"/>
<line x1="359.10" y1="293.60" x2="361.70" y2="293.60" stroke="#c8c8c8" stroke-width="0.8"/>
<line x1="359.10" y1="297.60" x2="361.70" y2="297.60" stroke="#c8c8c8" stroke-width="0.8"/>
<circle cx="360.40" cy="295.60" r="2.1" fill="#c8c8c8" stroke="none" stroke-width="1"/>
<line x1="375.20" y1="308.70" x2="375.20" y2="312.70" stroke="#c8c8c8" stroke-width="0.8"/>
<line x1="373.90" y1="308.70" x2="376.50" y2="308.70" stroke="#c8c8c8" stroke-width="0.8"/>
<line x1="373.90" y1="312.70" x2="376.50" y2="312.70" stroke="#c8c8c8" stroke-width="0.8"/>
<circle cx="375.20" cy="310.70" r="2.1" fill="#c8c8c8" stroke="none" stroke-width="1"/>
<line x1="390.10" y1="291.60" x2="390.10" y2="295.60" stroke="#c8c8c8" stroke-width="0.8"/>
<line x1="388.80" y1="291.60" x2="391.40" y2="291.60" stroke="#c8c8c8" stroke-width="0.8"/>
<line x1="388.80" y1="295.60" x2="391.40" y2="295.60" stroke="#c8c8c8" stroke-width="0.8"/>
<circle cx="390.10" cy="293.60" r="2.1" fill="#c8c8c8" stroke="none" stroke-width="1"/>
<line x1="404.90" y1="305.70" x2="404.90" y2="309.70" stroke="#c8c8c8" stroke-width="0.8"/>
<line x1="403.60" y1="305.70" x2="406.20" y2="305.70" stroke="#c8c8c8" stroke-width="0.8"/>
<line x1="403.60" y1="309.70" x2="406.20" y2="309.70" stroke="#c8c8c8" stroke-width="0.8"/>
<circle cx="404.90" cy="307.70" r="2.1" fill="#c8c8c8" stroke="none" stroke-width="1"/>
<polyline points="345.30,308.00 360.40,299.00 375.20,308.00 390.10,296.00 404.90,306.00" fill="none" stroke="#c8c8c8" stroke-width="1.15" stroke-linejoin="round"/>
<circle cx="345.30" cy="308.00" r="1.7000000000000002" fill="white" stroke="#c8c8c8" stroke-width="0.95"/>
<circle cx="360.40" cy="299.00" r="1.7000000000000002" fill="white" stroke="#c8c8c8" stroke-width="0.95"/>
<circle cx="375.20" cy="308.00" r="1.7000000000000002" fill="white" stroke="#c8c8c8" stroke-width="0.95"/>
<circle cx="390.10" cy="296.00" r="1.7000000000000002" fill="white" stroke="#c8c8c8" stroke-width="0.95"/>
<circle cx="404.90" cy="306.00" r="1.7000000000000002" fill="white" stroke="#c8c8c8" stroke-width="0.95"/>
<polyline points="345.30,310.50 360.40,293.20 375.20,289.50 390.10,300.00 404.90,304.70" fill="none" stroke="#3c4ca0" stroke-width="1.15" stroke-linejoin="round" stroke-dasharray="2,1.2"/>
<circle cx="345.30" cy="310.50" r="1.7000000000000002" fill="white" stroke="#3c4ca0" stroke-width="0.95"/>
<circle cx="360.40" cy="293.20" r="1.7000000000000002" fill="white" stroke="#3c4ca0" stroke-width="0.95"/>
<circle cx="375.20" cy="289.50" r="1.7000000000000002" fill="white" stroke="#3c4ca0" stroke-width="0.95"/>
<circle cx="390.10" cy="300.00" r="1.7000000000000002" fill="white" stroke="#3c4ca0" stroke-width="0.95"/>
<circle cx="404.90" cy="304.70" r="1.7000000000000002" fill="white" stroke="#3c4ca0" stroke-width="0.95"/>
<polyline points="345.30,310.00 360.40,295.60 375.20,304.70 390.10,299.60 404.90,299.60" fill="none" stroke="#3c4ca0" stroke-width="1.15" stroke-linejoin="round"/>
<circle cx="345.30" cy="310.00" r="2.1" fill="#3c4ca0" stroke="none" stroke-width="1"/>
<circle cx="360.40" cy="295.60" r="2.1" fill="#3c4ca0" stroke="none" stroke-width="1"/>
<circle cx="375.20" cy="304.70" r="2.1" fill="#3c4ca0" stroke="none" stroke-width="1"/>
<circle cx="390.10" cy="299.60" r="2.1" fill="#3c4ca0" stroke="none" stroke-width="1"/>
<circle cx="404.90" cy="299.60" r="2.1" fill="#3c4ca0" stroke="none" stroke-width="1"/>
<polyline points="345.30,311.70 360.40,302.00 375.20,292.60 390.10,292.60 404.90,301.60" fill="none" stroke="#cf2a1f" stroke-width="1.15" stroke-linejoin="round"/>
<circle cx="345.30" cy="311.70" r="1.7000000000000002" fill="white" stroke="#cf2a1f" stroke-width="0.95"/>
<circle cx="360.40" cy="302.00" r="1.7000000000000002" fill="white" stroke="#cf2a1f" stroke-width="0.95"/>
<circle cx="375.20" cy="292.60" r="1.7000000000000002" fill="white" stroke="#cf2a1f" stroke-width="0.95"/>
<circle cx="390.10" cy="292.60" r="1.7000000000000002" fill="white" stroke="#cf2a1f" stroke-width="0.95"/>
<circle cx="404.90" cy="301.60" r="1.7000000000000002" fill="white" stroke="#cf2a1f" stroke-width="0.95"/>
<polyline points="345.30,310.10 360.40,279.80 375.20,268.30 390.10,300.00 404.90,287.10" fill="none" stroke="#cf2a1f" stroke-width="1.15" stroke-linejoin="round"/>
<line x1="345.30" y1="309.10" x2="345.30" y2="311.10" stroke="#cf2a1f" stroke-width="0.8"/>
<line x1="344.00" y1="309.10" x2="346.60" y2="309.10" stroke="#cf2a1f" stroke-width="0.8"/>
<line x1="344.00" y1="311.10" x2="346.60" y2="311.10" stroke="#cf2a1f" stroke-width="0.8"/>
<circle cx="345.30" cy="310.10" r="2.1" fill="#cf2a1f" stroke="none" stroke-width="1"/>
<line x1="360.40" y1="277.30" x2="360.40" y2="282.30" stroke="#cf2a1f" stroke-width="0.8"/>
<line x1="359.10" y1="277.30" x2="361.70" y2="277.30" stroke="#cf2a1f" stroke-width="0.8"/>
<line x1="359.10" y1="282.30" x2="361.70" y2="282.30" stroke="#cf2a1f" stroke-width="0.8"/>
<circle cx="360.40" cy="279.80" r="2.1" fill="#cf2a1f" stroke="none" stroke-width="1"/>
<line x1="375.20" y1="264.30" x2="375.20" y2="272.30" stroke="#cf2a1f" stroke-width="0.8"/>
<line x1="373.90" y1="264.30" x2="376.50" y2="264.30" stroke="#cf2a1f" stroke-width="0.8"/>
<line x1="373.90" y1="272.30" x2="376.50" y2="272.30" stroke="#cf2a1f" stroke-width="0.8"/>
<circle cx="375.20" cy="268.30" r="2.1" fill="#cf2a1f" stroke="none" stroke-width="1"/>
<line x1="390.10" y1="296.00" x2="390.10" y2="304.00" stroke="#cf2a1f" stroke-width="0.8"/>
<line x1="388.80" y1="296.00" x2="391.40" y2="296.00" stroke="#cf2a1f" stroke-width="0.8"/>
<line x1="388.80" y1="304.00" x2="391.40" y2="304.00" stroke="#cf2a1f" stroke-width="0.8"/>
<circle cx="390.10" cy="300.00" r="2.1" fill="#cf2a1f" stroke="none" stroke-width="1"/>
<line x1="404.90" y1="281.10" x2="404.90" y2="293.10" stroke="#cf2a1f" stroke-width="0.8"/>
<line x1="403.60" y1="281.10" x2="406.20" y2="281.10" stroke="#cf2a1f" stroke-width="0.8"/>
<line x1="403.60" y1="293.10" x2="406.20" y2="293.10" stroke="#cf2a1f" stroke-width="0.8"/>
<circle cx="404.90" cy="287.10" r="2.1" fill="#cf2a1f" stroke="none" stroke-width="1"/>
<text x="433.20" y="253.40" font-size="8.3" textLength="75.80" lengthAdjust="spacingAndGlyphs" stroke="#1a1a1a" stroke-width="0.17">Spleen weight (mg)</text>
<line x1="438.80" y1="259.60" x2="438.80" y2="325.80" stroke="#1a1a1a" stroke-width="1.05"/>
<line x1="435.80" y1="325.30" x2="438.80" y2="325.30" stroke="#1a1a1a" stroke-width="0.9"/>
<text x="433.00" y="327.75" font-size="6.8" text-anchor="end" stroke="#1a1a1a" stroke-width="0.14">0</text>
<line x1="435.80" y1="312.49" x2="438.80" y2="312.49" stroke="#1a1a1a" stroke-width="0.9"/>
<text x="433.00" y="314.94" font-size="6.8" text-anchor="end" stroke="#1a1a1a" stroke-width="0.14">100</text>
<line x1="435.80" y1="299.68" x2="438.80" y2="299.68" stroke="#1a1a1a" stroke-width="0.9"/>
<text x="433.00" y="302.13" font-size="6.8" text-anchor="end" stroke="#1a1a1a" stroke-width="0.14">200</text>
<line x1="435.80" y1="286.87" x2="438.80" y2="286.87" stroke="#1a1a1a" stroke-width="0.9"/>
<text x="433.00" y="289.32" font-size="6.8" text-anchor="end" stroke="#1a1a1a" stroke-width="0.14">300</text>
<line x1="435.80" y1="274.06" x2="438.80" y2="274.06" stroke="#1a1a1a" stroke-width="0.9"/>
<text x="433.00" y="276.51" font-size="6.8" text-anchor="end" stroke="#1a1a1a" stroke-width="0.14">400</text>
<line x1="435.80" y1="261.25" x2="438.80" y2="261.25" stroke="#1a1a1a" stroke-width="0.9"/>
<text x="433.00" y="263.70" font-size="6.8" text-anchor="end" stroke="#1a1a1a" stroke-width="0.14">500</text>
<line x1="438.00" y1="325.30" x2="503.50" y2="325.30" stroke="#1a1a1a" stroke-width="1.1"/>
<line x1="445.65" y1="312.49" x2="445.65" y2="313.39" stroke="#1a1a1a" stroke-width="0.8"/>
<line x1="444.10" y1="312.49" x2="447.20" y2="312.49" stroke="#1a1a1a" stroke-width="0.8"/>
<rect x="442.75" y="313.84" width="5.80" height="11.46" fill="#c4c4c6" stroke="#1a1a1a" stroke-width="0.9"/>
<line x1="455.35" y1="311.98" x2="455.35" y2="312.11" stroke="#1a1a1a" stroke-width="0.8"/>
<line x1="453.80" y1="311.98" x2="456.90" y2="311.98" stroke="#1a1a1a" stroke-width="0.8"/>
<rect x="452.45" y="312.56" width="5.80" height="12.74" fill="white" stroke="#1a1a1a" stroke-width="0.9"/>
<line x1="465.35" y1="294.56" x2="465.35" y2="299.17" stroke="#3c4ca0" stroke-width="0.8"/>
<line x1="463.80" y1="294.56" x2="466.90" y2="294.56" stroke="#3c4ca0" stroke-width="0.8"/>
<rect x="462.45" y="299.62" width="5.80" height="25.68" fill="#3c4ca0" stroke="#3c4ca0" stroke-width="0.9"/>
<line x1="475.45" y1="313.51" x2="475.45" y2="313.77" stroke="#3c4ca0" stroke-width="0.8"/>
<line x1="473.90" y1="313.51" x2="477.00" y2="313.51" stroke="#3c4ca0" stroke-width="0.8"/>
<rect x="472.55" y="314.22" width="5.80" height="11.08" fill="white" stroke="#3c4ca0" stroke-width="0.9"/>
<line x1="485.55" y1="272.14" x2="485.55" y2="282.90" stroke="#d42513" stroke-width="0.8"/>
<line x1="484.00" y1="272.14" x2="487.10" y2="272.14" stroke="#d42513" stroke-width="0.8"/>
<rect x="482.65" y="283.35" width="5.80" height="41.95" fill="#d42513" stroke="#d42513" stroke-width="0.9"/>
<line x1="495.45" y1="312.11" x2="495.45" y2="312.36" stroke="#d42513" stroke-width="0.8"/>
<line x1="493.90" y1="312.11" x2="497.00" y2="312.11" stroke="#d42513" stroke-width="0.8"/>
<rect x="492.55" y="312.81" width="5.80" height="12.49" fill="white" stroke="#d42513" stroke-width="0.9"/>
<line x1="442.90" y1="293.20" x2="461.00" y2="293.20" stroke="#2a2a2a" stroke-width="1.2"/>
<rect x="450.75" y="289.75" width="1.49" height="1.49" fill="#1a1a1a"/>
<line x1="463.50" y1="290.00" x2="473.60" y2="290.00" stroke="#2a2a2a" stroke-width="1.2"/>
<rect x="467.65" y="286.55" width="1.49" height="1.49" fill="#1a1a1a"/>
<line x1="448.30" y1="267.70" x2="483.30" y2="267.70" stroke="#2a2a2a" stroke-width="1.2"/>
<rect x="465.25" y="264.25" width="1.49" height="1.49" fill="#1a1a1a"/>
<line x1="484.70" y1="270.30" x2="498.80" y2="270.30" stroke="#2a2a2a" stroke-width="1.2"/>
<rect x="490.75" y="266.85" width="1.49" height="1.49" fill="#1a1a1a"/>
<text x="423.60" y="333.60" font-size="7.0" textLength="15.20" lengthAdjust="spacingAndGlyphs" stroke="#1a1a1a" stroke-width="0.14">Epcr:</text>
<text x="445.65" y="333.60" font-size="7.0" text-anchor="middle" stroke="#1a1a1a" stroke-width="0.14">hi</text>
<text x="455.35" y="333.60" font-size="7.0" text-anchor="middle" stroke="#1a1a1a" stroke-width="0.14">lo</text>
<text x="465.35" y="333.60" font-size="7.0" text-anchor="middle" stroke="#1a1a1a" stroke-width="0.14">hi</text>
<text x="475.45" y="333.60" font-size="7.0" text-anchor="middle" stroke="#1a1a1a" stroke-width="0.14">lo</text>
<text x="485.55" y="333.60" font-size="7.0" text-anchor="middle" stroke="#1a1a1a" stroke-width="0.14">hi</text>
<text x="495.45" y="333.60" font-size="7.0" text-anchor="middle" stroke="#1a1a1a" stroke-width="0.14">lo</text>
<text x="57.70" y="352.00" font-size="8.9" textLength="32.30" lengthAdjust="spacingAndGlyphs" stroke="#1a1a1a" stroke-width="0.18">Ter119+</text>
<line x1="37.40" y1="357.80" x2="37.40" y2="424.50" stroke="#1a1a1a" stroke-width="1.05"/>
<line x1="34.40" y1="424.00" x2="37.40" y2="424.00" stroke="#1a1a1a" stroke-width="0.9"/>
<text x="31.60" y="426.45" font-size="6.8" text-anchor="end" stroke="#1a1a1a" stroke-width="0.14">0</text>
<line x1="34.40" y1="411.26" x2="37.40" y2="411.26" stroke="#1a1a1a" stroke-width="0.9"/>
<text x="31.60" y="413.71" font-size="6.8" text-anchor="end" stroke="#1a1a1a" stroke-width="0.14">20</text>
<line x1="34.40" y1="398.52" x2="37.40" y2="398.52" stroke="#1a1a1a" stroke-width="0.9"/>
<text x="31.60" y="400.97" font-size="6.8" text-anchor="end" stroke="#1a1a1a" stroke-width="0.14">40</text>
<line x1="34.40" y1="385.78" x2="37.40" y2="385.78" stroke="#1a1a1a" stroke-width="0.9"/>
<text x="31.60" y="388.23" font-size="6.8" text-anchor="end" stroke="#1a1a1a" stroke-width="0.14">60</text>
<line x1="34.40" y1="373.04" x2="37.40" y2="373.04" stroke="#1a1a1a" stroke-width="0.9"/>
<text x="31.60" y="375.49" font-size="6.8" text-anchor="end" stroke="#1a1a1a" stroke-width="0.14">80</text>
<line x1="34.40" y1="360.30" x2="37.40" y2="360.30" stroke="#1a1a1a" stroke-width="0.9"/>
<text x="31.60" y="362.75" font-size="6.8" text-anchor="end" stroke="#1a1a1a" stroke-width="0.14">100</text>
<line x1="36.40" y1="424.00" x2="111.80" y2="424.00" stroke="#1a1a1a" stroke-width="1.1"/>
<line x1="44.50" y1="424.00" x2="44.50" y2="427.00" stroke="#1a1a1a" stroke-width="0.9"/>
<text x="44.50" y="436.30" font-size="6.3" text-anchor="middle" stroke="#1a1a1a" stroke-width="0.13">4</text>
<line x1="59.30" y1="424.00" x2="59.30" y2="427.00" stroke="#1a1a1a" stroke-width="0.9"/>
<text x="59.30" y="436.30" font-size="6.3" text-anchor="middle" stroke="#1a1a1a" stroke-width="0.13">8</text>
<line x1="73.80" y1="424.00" x2="73.80" y2="427.00" stroke="#1a1a1a" stroke-width="0.9"/>
<text x="73.80" y="436.30" font-size="6.3" text-anchor="middle" stroke="#1a1a1a" stroke-width="0.13">12</text>
<line x1="89.30" y1="424.00" x2="89.30" y2="427.00" stroke="#1a1a1a" stroke-width="0.9"/>
<text x="89.30" y="436.30" font-size="6.3" text-anchor="middle" stroke="#1a1a1a" stroke-width="0.13">16</text>
<line x1="103.80" y1="424.00" x2="103.80" y2="427.00" stroke="#1a1a1a" stroke-width="0.9"/>
<text x="103.80" y="436.30" font-size="6.3" text-anchor="middle" stroke="#1a1a1a" stroke-width="0.13">20</text>
<polyline points="44.50,422.00 59.30,423.00 73.80,423.50 89.30,424.00 103.80,424.00" fill="none" stroke="#c8c8c8" stroke-width="1.15" stroke-linejoin="round"/>
<circle cx="44.50" cy="422.00" r="1.7000000000000002" fill="white" stroke="#c8c8c8" stroke-width="0.95"/>
<circle cx="59.30" cy="423.00" r="1.7000000000000002" fill="white" stroke="#c8c8c8" stroke-width="0.95"/>
<circle cx="73.80" cy="423.50" r="1.7000000000000002" fill="white" stroke="#c8c8c8" stroke-width="0.95"/>
<circle cx="89.30" cy="424.00" r="1.7000000000000002" fill="white" stroke="#c8c8c8" stroke-width="0.95"/>
<circle cx="103.80" cy="424.00" r="1.7000000000000002" fill="white" stroke="#c8c8c8" stroke-width="0.95"/>
<polyline points="44.50,419.60 59.30,408.80 73.80,404.20 89.30,402.30 103.80,402.80" fill="none" stroke="#c8c8c8" stroke-width="1.15" stroke-linejoin="round"/>
<line x1="44.50" y1="417.60" x2="44.50" y2="421.60" stroke="#c8c8c8" stroke-width="0.8"/>
<line x1="43.20" y1="417.60" x2="45.80" y2="417.60" stroke="#c8c8c8" stroke-width="0.8"/>
<line x1="43.20" y1="421.60" x2="45.80" y2="421.60" stroke="#c8c8c8" stroke-width="0.8"/>
<rect x="42.70" y="417.80" width="3.60" height="3.60" fill="#c8c8c8" stroke="none" stroke-width="1"/>
<line x1="59.30" y1="406.80" x2="59.30" y2="410.80" stroke="#c8c8c8" stroke-width="0.8"/>
<line x1="58.00" y1="406.80" x2="60.60" y2="406.80" stroke="#c8c8c8" stroke-width="0.8"/>
<line x1="58.00" y1="410.80" x2="60.60" y2="410.80" stroke="#c8c8c8" stroke-width="0.8"/>
<rect x="57.50" y="407.00" width="3.60" height="3.60" fill="#c8c8c8" stroke="none" stroke-width="1"/>
<line x1="73.80" y1="402.20" x2="73.80" y2="406.20" stroke="#c8c8c8" stroke-width="0.8"/>
<line x1="72.50" y1="402.20" x2="75.10" y2="402.20" stroke="#c8c8c8" stroke-width="0.8"/>
<line x1="72.50" y1="406.20" x2="75.10" y2="406.20" stroke="#c8c8c8" stroke-width="0.8"/>
<rect x="72.00" y="402.40" width="3.60" height="3.60" fill="#c8c8c8" stroke="none" stroke-width="1"/>
<line x1="89.30" y1="398.80" x2="89.30" y2="405.80" stroke="#c8c8c8" stroke-width="0.8"/>
<line x1="88.00" y1="398.80" x2="90.60" y2="398.80" stroke="#c8c8c8" stroke-width="0.8"/>
<line x1="88.00" y1="405.80" x2="90.60" y2="405.80" stroke="#c8c8c8" stroke-width="0.8"/>
<rect x="87.50" y="400.50" width="3.60" height="3.60" fill="#c8c8c8" stroke="none" stroke-width="1"/>
<line x1="103.80" y1="398.80" x2="103.80" y2="406.80" stroke="#c8c8c8" stroke-width="0.8"/>
<line x1="102.50" y1="398.80" x2="105.10" y2="398.80" stroke="#c8c8c8" stroke-width="0.8"/>
<line x1="102.50" y1="406.80" x2="105.10" y2="406.80" stroke="#c8c8c8" stroke-width="0.8"/>
<rect x="102.00" y="401.00" width="3.60" height="3.60" fill="#c8c8c8" stroke="none" stroke-width="1"/>
<polyline points="44.50,415.70 59.30,417.30 73.80,423.50 89.30,424.00 103.80,424.00" fill="none" stroke="#3c4ca0" stroke-width="1.15" stroke-linejoin="round" stroke-dasharray="2,1.2"/>
<circle cx="44.50" cy="415.70" r="1.7000000000000002" fill="white" stroke="#3c4ca0" stroke-width="0.95"/>
<circle cx="59.30" cy="417.30" r="1.7000000000000002" fill="white" stroke="#3c4ca0" stroke-width="0.95"/>
<circle cx="73.80" cy="423.50" r="1.7000000000000002" fill="white" stroke="#3c4ca0" stroke-width="0.95"/>
<circle cx="89.30" cy="424.00" r="1.7000000000000002" fill="white" stroke="#3c4ca0" stroke-width="0.95"/>
<circle cx="103.80" cy="424.00" r="1.7000000000000002" fill="white" stroke="#3c4ca0" stroke-width="0.95"/>
<polyline points="44.50,418.50 59.30,413.40 73.80,421.20 89.30,423.00 103.80,423.50" fill="none" stroke="#cf2a1f" stroke-width="1.15" stroke-linejoin="round"/>
<line x1="44.50" y1="416.50" x2="44.50" y2="420.50" stroke="#cf2a1f" stroke-width="0.8"/>
<line x1="43.20" y1="416.50" x2="45.80" y2="416.50" stroke="#cf2a1f" stroke-width="0.8"/>
<line x1="43.20" y1="420.50" x2="45.80" y2="420.50" stroke="#cf2a1f" stroke-width="0.8"/>
<circle cx="44.50" cy="418.50" r="1.7000000000000002" fill="white" stroke="#cf2a1f" stroke-width="0.95"/>
<line x1="59.30" y1="410.40" x2="59.30" y2="416.40" stroke="#cf2a1f" stroke-width="0.8"/>
<line x1="58.00" y1="410.40" x2="60.60" y2="410.40" stroke="#cf2a1f" stroke-width="0.8"/>
<line x1="58.00" y1="416.40" x2="60.60" y2="416.40" stroke="#cf2a1f" stroke-width="0.8"/>
<circle cx="59.30" cy="413.40" r="1.7000000000000002" fill="white" stroke="#cf2a1f" stroke-width="0.95"/>
<line x1="73.80" y1="420.20" x2="73.80" y2="422.20" stroke="#cf2a1f" stroke-width="0.8"/>
<line x1="72.50" y1="420.20" x2="75.10" y2="420.20" stroke="#cf2a1f" stroke-width="0.8"/>
<line x1="72.50" y1="422.20" x2="75.10" y2="422.20" stroke="#cf2a1f" stroke-width="0.8"/>
<circle cx="73.80" cy="421.20" r="1.7000000000000002" fill="white" stroke="#cf2a1f" stroke-width="0.95"/>
<line x1="89.30" y1="422.50" x2="89.30" y2="423.50" stroke="#cf2a1f" stroke-width="0.8"/>
<line x1="88.00" y1="422.50" x2="90.60" y2="422.50" stroke="#cf2a1f" stroke-width="0.8"/>
<line x1="88.00" y1="423.50" x2="90.60" y2="423.50" stroke="#cf2a1f" stroke-width="0.8"/>
<circle cx="89.30" cy="423.00" r="1.7000000000000002" fill="white" stroke="#cf2a1f" stroke-width="0.95"/>
<line x1="103.80" y1="423.00" x2="103.80" y2="424.00" stroke="#cf2a1f" stroke-width="0.8"/>
<line x1="102.50" y1="423.00" x2="105.10" y2="423.00" stroke="#cf2a1f" stroke-width="0.8"/>
<line x1="102.50" y1="424.00" x2="105.10" y2="424.00" stroke="#cf2a1f" stroke-width="0.8"/>
<circle cx="103.80" cy="423.50" r="1.7000000000000002" fill="white" stroke="#cf2a1f" stroke-width="0.95"/>
<polyline points="44.50,396.00 59.30,367.00 73.80,363.00 89.30,362.00 103.80,361.20" fill="none" stroke="#3c4ca0" stroke-width="1.15" stroke-linejoin="round"/>
<line x1="44.50" y1="393.50" x2="44.50" y2="398.50" stroke="#3c4ca0" stroke-width="0.8"/>
<line x1="43.20" y1="393.50" x2="45.80" y2="393.50" stroke="#3c4ca0" stroke-width="0.8"/>
<line x1="43.20" y1="398.50" x2="45.80" y2="398.50" stroke="#3c4ca0" stroke-width="0.8"/>
<circle cx="44.50" cy="396.00" r="2.1" fill="#3c4ca0" stroke="none" stroke-width="1"/>
<line x1="59.30" y1="366.00" x2="59.30" y2="368.00" stroke="#3c4ca0" stroke-width="0.8"/>
<line x1="58.00" y1="366.00" x2="60.60" y2="366.00" stroke="#3c4ca0" stroke-width="0.8"/>
<line x1="58.00" y1="368.00" x2="60.60" y2="368.00" stroke="#3c4ca0" stroke-width="0.8"/>
<circle cx="59.30" cy="367.00" r="2.1" fill="#3c4ca0" stroke="none" stroke-width="1"/>
<line x1="73.80" y1="362.00" x2="73.80" y2="364.00" stroke="#3c4ca0" stroke-width="0.8"/>
<line x1="72.50" y1="362.00" x2="75.10" y2="362.00" stroke="#3c4ca0" stroke-width="0.8"/>
<line x1="72.50" y1="364.00" x2="75.10" y2="364.00" stroke="#3c4ca0" stroke-width="0.8"/>
<circle cx="73.80" cy="363.00" r="2.1" fill="#3c4ca0" stroke="none" stroke-width="1"/>
<line x1="89.30" y1="361.00" x2="89.30" y2="363.00" stroke="#3c4ca0" stroke-width="0.8"/>
<line x1="88.00" y1="361.00" x2="90.60" y2="361.00" stroke="#3c4ca0" stroke-width="0.8"/>
<line x1="88.00" y1="363.00" x2="90.60" y2="363.00" stroke="#3c4ca0" stroke-width="0.8"/>
<circle cx="89.30" cy="362.00" r="2.1" fill="#3c4ca0" stroke="none" stroke-width="1"/>
<line x1="103.80" y1="360.20" x2="103.80" y2="362.20" stroke="#3c4ca0" stroke-width="0.8"/>
<line x1="102.50" y1="360.20" x2="105.10" y2="360.20" stroke="#3c4ca0" stroke-width="0.8"/>
<line x1="102.50" y1="362.20" x2="105.10" y2="362.20" stroke="#3c4ca0" stroke-width="0.8"/>
<circle cx="103.80" cy="361.20" r="2.1" fill="#3c4ca0" stroke="none" stroke-width="1"/>
<polyline points="44.50,383.80 59.30,365.80 73.80,360.80 89.30,360.30 103.80,360.30" fill="none" stroke="#cf2a1f" stroke-width="1.15" stroke-linejoin="round"/>
<circle cx="44.50" cy="383.80" r="2.1" fill="#cf2a1f" stroke="none" stroke-width="1"/>
<circle cx="59.30" cy="365.80" r="2.1" fill="#cf2a1f" stroke="none" stroke-width="1"/>
<circle cx="73.80" cy="360.80" r="2.1" fill="#cf2a1f" stroke="none" stroke-width="1"/>
<circle cx="89.30" cy="360.30" r="2.1" fill="#cf2a1f" stroke="none" stroke-width="1"/>
<circle cx="103.80" cy="360.30" r="2.1" fill="#cf2a1f" stroke="none" stroke-width="1"/>
<rect x="100.69" y="368.09" width="1.43" height="1.43" fill="#3c4ca0"/>
<rect x="103.28" y="368.09" width="1.43" height="1.43" fill="#3c4ca0"/>
<rect x="105.89" y="368.09" width="1.43" height="1.43" fill="#3c4ca0"/>
<rect x="100.69" y="375.09" width="1.43" height="1.43" fill="#cf2a1f"/>
<rect x="103.28" y="375.09" width="1.43" height="1.43" fill="#cf2a1f"/>
<rect x="105.89" y="375.09" width="1.43" height="1.43" fill="#cf2a1f"/>
<rect x="100.69" y="391.89" width="1.43" height="1.43" fill="#c8c8c8"/>
<rect x="103.28" y="391.89" width="1.43" height="1.43" fill="#c8c8c8"/>
<rect x="105.89" y="391.89" width="1.43" height="1.43" fill="#c8c8c8"/>
<text x="74.40" y="446.90" font-size="7.6" text-anchor="middle" textLength="72.80" lengthAdjust="spacingAndGlyphs" stroke="#1a1a1a" stroke-width="0.15">Weeks-post-transplantation</text>
<text x="0" y="0" font-size="7.4" transform="translate(15.8,390.8) rotate(-90)" text-anchor="middle" textLength="16" lengthAdjust="spacingAndGlyphs">% GFP</text>
<text x="160.80" y="352.00" font-size="8.9" textLength="27.50" lengthAdjust="spacingAndGlyphs" stroke="#1a1a1a" stroke-width="0.18">CD61+</text>
<line x1="137.50" y1="357.70" x2="137.50" y2="424.30" stroke="#1a1a1a" stroke-width="1.05"/>
<line x1="134.50" y1="423.80" x2="137.50" y2="423.80" stroke="#1a1a1a" stroke-width="0.9"/>
<text x="131.70" y="426.25" font-size="6.8" text-anchor="end" stroke="#1a1a1a" stroke-width="0.14">0</text>
<line x1="134.50" y1="411.08" x2="137.50" y2="411.08" stroke="#1a1a1a" stroke-width="0.9"/>
<text x="131.70" y="413.53" font-size="6.8" text-anchor="end" stroke="#1a1a1a" stroke-width="0.14">20</text>
<line x1="134.50" y1="398.36" x2="137.50" y2="398.36" stroke="#1a1a1a" stroke-width="0.9"/>
<text x="131.70" y="400.81" font-size="6.8" text-anchor="end" stroke="#1a1a1a" stroke-width="0.14">40</text>
<line x1="134.50" y1="385.64" x2="137.50" y2="385.64" stroke="#1a1a1a" stroke-width="0.9"/>
<text x="131.70" y="388.09" font-size="6.8" text-anchor="end" stroke="#1a1a1a" stroke-width="0.14">60</text>
<line x1="134.50" y1="372.92" x2="137.50" y2="372.92" stroke="#1a1a1a" stroke-width="0.9"/>
<text x="131.70" y="375.37" font-size="6.8" text-anchor="end" stroke="#1a1a1a" stroke-width="0.14">80</text>
<line x1="134.50" y1="360.20" x2="137.50" y2="360.20" stroke="#1a1a1a" stroke-width="0.9"/>
<text x="131.70" y="362.65" font-size="6.8" text-anchor="end" stroke="#1a1a1a" stroke-width="0.14">100</text>
<line x1="136.50" y1="423.80" x2="212.10" y2="423.80" stroke="#1a1a1a" stroke-width="1.1"/>
<line x1="144.90" y1="423.80" x2="144.90" y2="426.80" stroke="#1a1a1a" stroke-width="0.9"/>
<text x="144.90" y="436.10" font-size="6.3" text-anchor="middle" stroke="#1a1a1a" stroke-width="0.13">4</text>
<line x1="159.70" y1="423.80" x2="159.70" y2="426.80" stroke="#1a1a1a" stroke-width="0.9"/>
<text x="159.70" y="436.10" font-size="6.3" text-anchor="middle" stroke="#1a1a1a" stroke-width="0.13">8</text>
<line x1="174.50" y1="423.80" x2="174.50" y2="426.80" stroke="#1a1a1a" stroke-width="0.9"/>
<text x="174.50" y="436.10" font-size="6.3" text-anchor="middle" stroke="#1a1a1a" stroke-width="0.13">12</text>
<line x1="189.30" y1="423.80" x2="189.30" y2="426.80" stroke="#1a1a1a" stroke-width="0.9"/>
<text x="189.30" y="436.10" font-size="6.3" text-anchor="middle" stroke="#1a1a1a" stroke-width="0.13">16</text>
<line x1="204.10" y1="423.80" x2="204.10" y2="426.80" stroke="#1a1a1a" stroke-width="0.9"/>
<text x="204.10" y="436.10" font-size="6.3" text-anchor="middle" stroke="#1a1a1a" stroke-width="0.13">20</text>
<polyline points="144.90,422.00 159.70,423.00 174.50,423.50 189.30,424.00 204.10,424.00" fill="none" stroke="#c8c8c8" stroke-width="1.15" stroke-linejoin="round"/>
<circle cx="144.90" cy="422.00" r="1.7000000000000002" fill="white" stroke="#c8c8c8" stroke-width="0.95"/>
<circle cx="159.70" cy="423.00" r="1.7000000000000002" fill="white" stroke="#c8c8c8" stroke-width="0.95"/>
<circle cx="174.50" cy="423.50" r="1.7000000000000002" fill="white" stroke="#c8c8c8" stroke-width="0.95"/>
<circle cx="189.30" cy="424.00" r="1.7000000000000002" fill="white" stroke="#c8c8c8" stroke-width="0.95"/>
<circle cx="204.10" cy="424.00" r="1.7000000000000002" fill="white" stroke="#c8c8c8" stroke-width="0.95"/>
<polyline points="144.90,400.90 159.70,399.70 174.50,391.80 189.30,397.10 204.10,398.20" fill="none" stroke="#c8c8c8" stroke-width="1.15" stroke-linejoin="round"/>
<line x1="144.90" y1="399.90" x2="144.90" y2="401.90" stroke="#c8c8c8" stroke-width="0.8"/>
<line x1="143.60" y1="399.90" x2="146.20" y2="399.90" stroke="#c8c8c8" stroke-width="0.8"/>
<line x1="143.60" y1="401.90" x2="146.20" y2="401.90" stroke="#c8c8c8" stroke-width="0.8"/>
<rect x="143.10" y="399.10" width="3.60" height="3.60" fill="#c8c8c8" stroke="none" stroke-width="1"/>
<line x1="159.70" y1="398.20" x2="159.70" y2="401.20" stroke="#c8c8c8" stroke-width="0.8"/>
<line x1="158.40" y1="398.20" x2="161.00" y2="398.20" stroke="#c8c8c8" stroke-width="0.8"/>
<line x1="158.40" y1="401.20" x2="161.00" y2="401.20" stroke="#c8c8c8" stroke-width="0.8"/>
<rect x="157.90" y="397.90" width="3.60" height="3.60" fill="#c8c8c8" stroke="none" stroke-width="1"/>
<line x1="174.50" y1="388.80" x2="174.50" y2="394.80" stroke="#c8c8c8" stroke-width="0.8"/>
<line x1="173.20" y1="388.80" x2="175.80" y2="388.80" stroke="#c8c8c8" stroke-width="0.8"/>
<line x1="173.20" y1="394.80" x2="175.80" y2="394.80" stroke="#c8c8c8" stroke-width="0.8"/>
<rect x="172.70" y="390.00" width="3.60" height="3.60" fill="#c8c8c8" stroke="none" stroke-width="1"/>
<line x1="189.30" y1="393.10" x2="189.30" y2="401.10" stroke="#c8c8c8" stroke-width="0.8"/>
<line x1="188.00" y1="393.10" x2="190.60" y2="393.10" stroke="#c8c8c8" stroke-width="0.8"/>
<line x1="188.00" y1="401.10" x2="190.60" y2="401.10" stroke="#c8c8c8" stroke-width="0.8"/>
<rect x="187.50" y="395.30" width="3.60" height="3.60" fill="#c8c8c8" stroke="none" stroke-width="1"/>
<line x1="204.10" y1="394.20" x2="204.10" y2="402.20" stroke="#c8c8c8" stroke-width="0.8"/>
<line x1="202.80" y1="394.20" x2="205.40" y2="394.20" stroke="#c8c8c8" stroke-width="0.8"/>
<line x1="202.80" y1="402.20" x2="205.40" y2="402.20" stroke="#c8c8c8" stroke-width="0.8"/>
<rect x="202.30" y="396.40" width="3.60" height="3.60" fill="#c8c8c8" stroke="none" stroke-width="1"/>
<polyline points="144.90,419.50 159.70,418.50 174.50,423.50 189.30,424.00 204.10,424.00" fill="none" stroke="#3c4ca0" stroke-width="1.15" stroke-linejoin="round" stroke-dasharray="2,1.2"/>
<circle cx="144.90" cy="419.50" r="1.7000000000000002" fill="white" stroke="#3c4ca0" stroke-width="0.95"/>
<circle cx="159.70" cy="418.50" r="1.7000000000000002" fill="white" stroke="#3c4ca0" stroke-width="0.95"/>
<circle cx="174.50" cy="423.50" r="1.7000000000000002" fill="white" stroke="#3c4ca0" stroke-width="0.95"/>
<circle cx="189.30" cy="424.00" r="1.7000000000000002" fill="white" stroke="#3c4ca0" stroke-width="0.95"/>
<circle cx="204.10" cy="424.00" r="1.7000000000000002" fill="white" stroke="#3c4ca0" stroke-width="0.95"/>
<polyline points="144.90,420.40 159.70,414.00 174.50,422.00 189.30,423.50 204.10,423.50" fill="none" stroke="#cf2a1f" stroke-width="1.15" stroke-linejoin="round"/>
<line x1="144.90" y1="419.40" x2="144.90" y2="421.40" stroke="#cf2a1f" stroke-width="0.8"/>
<line x1="143.60" y1="419.40" x2="146.20" y2="419.40" stroke="#cf2a1f" stroke-width="0.8"/>
<line x1="143.60" y1="421.40" x2="146.20" y2="421.40" stroke="#cf2a1f" stroke-width="0.8"/>
<circle cx="144.90" cy="420.40" r="1.7000000000000002" fill="white" stroke="#cf2a1f" stroke-width="0.95"/>
<line x1="159.70" y1="411.00" x2="159.70" y2="417.00" stroke="#cf2a1f" stroke-width="0.8"/>
<line x1="158.40" y1="411.00" x2="161.00" y2="411.00" stroke="#cf2a1f" stroke-width="0.8"/>
<line x1="158.40" y1="417.00" x2="161.00" y2="417.00" stroke="#cf2a1f" stroke-width="0.8"/>
<circle cx="159.70" cy="414.00" r="1.7000000000000002" fill="white" stroke="#cf2a1f" stroke-width="0.95"/>
<line x1="174.50" y1="421.00" x2="174.50" y2="423.00" stroke="#cf2a1f" stroke-width="0.8"/>
<line x1="173.20" y1="421.00" x2="175.80" y2="421.00" stroke="#cf2a1f" stroke-width="0.8"/>
<line x1="173.20" y1="423.00" x2="175.80" y2="423.00" stroke="#cf2a1f" stroke-width="0.8"/>
<circle cx="174.50" cy="422.00" r="1.7000000000000002" fill="white" stroke="#cf2a1f" stroke-width="0.95"/>
<line x1="189.30" y1="423.00" x2="189.30" y2="424.00" stroke="#cf2a1f" stroke-width="0.8"/>
<line x1="188.00" y1="423.00" x2="190.60" y2="423.00" stroke="#cf2a1f" stroke-width="0.8"/>
<line x1="188.00" y1="424.00" x2="190.60" y2="424.00" stroke="#cf2a1f" stroke-width="0.8"/>
<circle cx="189.30" cy="423.50" r="1.7000000000000002" fill="white" stroke="#cf2a1f" stroke-width="0.95"/>
<line x1="204.10" y1="423.00" x2="204.10" y2="424.00" stroke="#cf2a1f" stroke-width="0.8"/>
<line x1="202.80" y1="423.00" x2="205.40" y2="423.00" stroke="#cf2a1f" stroke-width="0.8"/>
<line x1="202.80" y1="424.00" x2="205.40" y2="424.00" stroke="#cf2a1f" stroke-width="0.8"/>
<circle cx="204.10" cy="423.50" r="1.7000000000000002" fill="white" stroke="#cf2a1f" stroke-width="0.95"/>
<polyline points="144.90,388.20 159.70,365.80 174.50,364.30 189.30,362.60 204.10,361.20" fill="none" stroke="#3c4ca0" stroke-width="1.15" stroke-linejoin="round"/>
<circle cx="144.90" cy="388.20" r="2.0" fill="#3c4ca0" stroke="none" stroke-width="1"/>
<circle cx="159.70" cy="365.80" r="2.0" fill="#3c4ca0" stroke="none" stroke-width="1"/>
<circle cx="174.50" cy="364.30" r="2.0" fill="#3c4ca0" stroke="none" stroke-width="1"/>
<circle cx="189.30" cy="362.60" r="2.0" fill="#3c4ca0" stroke="none" stroke-width="1"/>
<circle cx="204.10" cy="361.20" r="2.0" fill="#3c4ca0" stroke="none" stroke-width="1"/>
<polyline points="144.90,388.20 159.70,367.50 174.50,381.30 189.30,378.50 204.10,379.10" fill="none" stroke="#cf2a1f" stroke-width="1.15" stroke-linejoin="round"/>
<line x1="144.90" y1="387.20" x2="144.90" y2="389.20" stroke="#cf2a1f" stroke-width="0.8"/>
<line x1="143.60" y1="387.20" x2="146.20" y2="387.20" stroke="#cf2a1f" stroke-width="0.8"/>
<line x1="143.60" y1="389.20" x2="146.20" y2="389.20" stroke="#cf2a1f" stroke-width="0.8"/>
<circle cx="144.90" cy="388.20" r="2.1" fill="#cf2a1f" stroke="none" stroke-width="1"/>
<line x1="159.70" y1="366.50" x2="159.70" y2="368.50" stroke="#cf2a1f" stroke-width="0.8"/>
<line x1="158.40" y1="366.50" x2="161.00" y2="366.50" stroke="#cf2a1f" stroke-width="0.8"/>
<line x1="158.40" y1="368.50" x2="161.00" y2="368.50" stroke="#cf2a1f" stroke-width="0.8"/>
<circle cx="159.70" cy="367.50" r="2.1" fill="#cf2a1f" stroke="none" stroke-width="1"/>
<line x1="174.50" y1="378.80" x2="174.50" y2="383.80" stroke="#cf2a1f" stroke-width="0.8"/>
<line x1="173.20" y1="378.80" x2="175.80" y2="378.80" stroke="#cf2a1f" stroke-width="0.8"/>
<line x1="173.20" y1="383.80" x2="175.80" y2="383.80" stroke="#cf2a1f" stroke-width="0.8"/>
<circle cx="174.50" cy="381.30" r="2.1" fill="#cf2a1f" stroke="none" stroke-width="1"/>
<line x1="189.30" y1="375.50" x2="189.30" y2="381.50" stroke="#cf2a1f" stroke-width="0.8"/>
<line x1="188.00" y1="375.50" x2="190.60" y2="375.50" stroke="#cf2a1f" stroke-width="0.8"/>
<line x1="188.00" y1="381.50" x2="190.60" y2="381.50" stroke="#cf2a1f" stroke-width="0.8"/>
<circle cx="189.30" cy="378.50" r="2.1" fill="#cf2a1f" stroke="none" stroke-width="1"/>
<line x1="204.10" y1="375.10" x2="204.10" y2="383.10" stroke="#cf2a1f" stroke-width="0.8"/>
<line x1="202.80" y1="375.10" x2="205.40" y2="375.10" stroke="#cf2a1f" stroke-width="0.8"/>
<line x1="202.80" y1="383.10" x2="205.40" y2="383.10" stroke="#cf2a1f" stroke-width="0.8"/>
<circle cx="204.10" cy="379.10" r="2.1" fill="#cf2a1f" stroke="none" stroke-width="1"/>
<rect x="200.98" y="355.19" width="1.43" height="1.43" fill="#3c4ca0"/>
<rect x="203.58" y="355.19" width="1.43" height="1.43" fill="#3c4ca0"/>
<rect x="206.18" y="355.19" width="1.43" height="1.43" fill="#3c4ca0"/>
<rect x="200.98" y="370.99" width="1.43" height="1.43" fill="#cf2a1f"/>
<rect x="203.58" y="370.99" width="1.43" height="1.43" fill="#cf2a1f"/>
<rect x="206.18" y="370.99" width="1.43" height="1.43" fill="#cf2a1f"/>
<rect x="200.98" y="405.29" width="1.43" height="1.43" fill="#c8c8c8"/>
<rect x="203.58" y="405.29" width="1.43" height="1.43" fill="#c8c8c8"/>
<rect x="206.18" y="405.29" width="1.43" height="1.43" fill="#c8c8c8"/>
<text x="264.50" y="352.00" font-size="8.9" textLength="20.20" lengthAdjust="spacingAndGlyphs" stroke="#1a1a1a" stroke-width="0.18">Gr1+</text>
<line x1="238.20" y1="357.70" x2="238.20" y2="424.30" stroke="#1a1a1a" stroke-width="1.05"/>
<line x1="235.20" y1="423.80" x2="238.20" y2="423.80" stroke="#1a1a1a" stroke-width="0.9"/>
<text x="232.40" y="426.25" font-size="6.8" text-anchor="end" stroke="#1a1a1a" stroke-width="0.14">0</text>
<line x1="235.20" y1="411.08" x2="238.20" y2="411.08" stroke="#1a1a1a" stroke-width="0.9"/>
<text x="232.40" y="413.53" font-size="6.8" text-anchor="end" stroke="#1a1a1a" stroke-width="0.14">20</text>
<line x1="235.20" y1="398.36" x2="238.20" y2="398.36" stroke="#1a1a1a" stroke-width="0.9"/>
<text x="232.40" y="400.81" font-size="6.8" text-anchor="end" stroke="#1a1a1a" stroke-width="0.14">40</text>
<line x1="235.20" y1="385.64" x2="238.20" y2="385.64" stroke="#1a1a1a" stroke-width="0.9"/>
<text x="232.40" y="388.09" font-size="6.8" text-anchor="end" stroke="#1a1a1a" stroke-width="0.14">60</text>
<line x1="235.20" y1="372.92" x2="238.20" y2="372.92" stroke="#1a1a1a" stroke-width="0.9"/>
<text x="232.40" y="375.37" font-size="6.8" text-anchor="end" stroke="#1a1a1a" stroke-width="0.14">80</text>
<line x1="235.20" y1="360.20" x2="238.20" y2="360.20" stroke="#1a1a1a" stroke-width="0.9"/>
<text x="232.40" y="362.65" font-size="6.8" text-anchor="end" stroke="#1a1a1a" stroke-width="0.14">100</text>
<line x1="237.20" y1="423.80" x2="312.50" y2="423.80" stroke="#1a1a1a" stroke-width="1.1"/>
<line x1="245.30" y1="423.80" x2="245.30" y2="426.80" stroke="#1a1a1a" stroke-width="0.9"/>
<text x="245.30" y="436.10" font-size="6.3" text-anchor="middle" stroke="#1a1a1a" stroke-width="0.13">4</text>
<line x1="260.40" y1="423.80" x2="260.40" y2="426.80" stroke="#1a1a1a" stroke-width="0.9"/>
<text x="260.40" y="436.10" font-size="6.3" text-anchor="middle" stroke="#1a1a1a" stroke-width="0.13">8</text>
<line x1="275.00" y1="423.80" x2="275.00" y2="426.80" stroke="#1a1a1a" stroke-width="0.9"/>
<text x="275.00" y="436.10" font-size="6.3" text-anchor="middle" stroke="#1a1a1a" stroke-width="0.13">12</text>
<line x1="289.70" y1="423.80" x2="289.70" y2="426.80" stroke="#1a1a1a" stroke-width="0.9"/>
<text x="289.70" y="436.10" font-size="6.3" text-anchor="middle" stroke="#1a1a1a" stroke-width="0.13">16</text>
<line x1="304.50" y1="423.80" x2="304.50" y2="426.80" stroke="#1a1a1a" stroke-width="0.9"/>
<text x="304.50" y="436.10" font-size="6.3" text-anchor="middle" stroke="#1a1a1a" stroke-width="0.13">20</text>
<polyline points="245.30,415.70 260.40,418.00 275.00,420.00 289.70,422.00 304.50,423.00" fill="none" stroke="#c8c8c8" stroke-width="1.15" stroke-linejoin="round"/>
<circle cx="245.30" cy="415.70" r="1.7000000000000002" fill="white" stroke="#c8c8c8" stroke-width="0.95"/>
<circle cx="260.40" cy="418.00" r="1.7000000000000002" fill="white" stroke="#c8c8c8" stroke-width="0.95"/>
<circle cx="275.00" cy="420.00" r="1.7000000000000002" fill="white" stroke="#c8c8c8" stroke-width="0.95"/>
<circle cx="289.70" cy="422.00" r="1.7000000000000002" fill="white" stroke="#c8c8c8" stroke-width="0.95"/>
<circle cx="304.50" cy="423.00" r="1.7000000000000002" fill="white" stroke="#c8c8c8" stroke-width="0.95"/>
<polyline points="245.30,382.80 260.40,382.40 275.00,372.90 289.70,375.70 304.50,374.70" fill="none" stroke="#c8c8c8" stroke-width="1.15" stroke-linejoin="round"/>
<line x1="245.30" y1="380.30" x2="245.30" y2="385.30" stroke="#c8c8c8" stroke-width="0.8"/>
<line x1="244.00" y1="380.30" x2="246.60" y2="380.30" stroke="#c8c8c8" stroke-width="0.8"/>
<line x1="244.00" y1="385.30" x2="246.60" y2="385.30" stroke="#c8c8c8" stroke-width="0.8"/>
<rect x="243.50" y="381.00" width="3.60" height="3.60" fill="#c8c8c8" stroke="none" stroke-width="1"/>
<line x1="260.40" y1="379.40" x2="260.40" y2="385.40" stroke="#c8c8c8" stroke-width="0.8"/>
<line x1="259.10" y1="379.40" x2="261.70" y2="379.40" stroke="#c8c8c8" stroke-width="0.8"/>
<line x1="259.10" y1="385.40" x2="261.70" y2="385.40" stroke="#c8c8c8" stroke-width="0.8"/>
<rect x="258.60" y="380.60" width="3.60" height="3.60" fill="#c8c8c8" stroke="none" stroke-width="1"/>
<line x1="275.00" y1="371.40" x2="275.00" y2="374.40" stroke="#c8c8c8" stroke-width="0.8"/>
<line x1="273.70" y1="371.40" x2="276.30" y2="371.40" stroke="#c8c8c8" stroke-width="0.8"/>
<line x1="273.70" y1="374.40" x2="276.30" y2="374.40" stroke="#c8c8c8" stroke-width="0.8"/>
<rect x="273.20" y="371.10" width="3.60" height="3.60" fill="#c8c8c8" stroke="none" stroke-width="1"/>
<line x1="289.70" y1="372.70" x2="289.70" y2="378.70" stroke="#c8c8c8" stroke-width="0.8"/>
<line x1="288.40" y1="372.70" x2="291.00" y2="372.70" stroke="#c8c8c8" stroke-width="0.8"/>
<line x1="288.40" y1="378.70" x2="291.00" y2="378.70" stroke="#c8c8c8" stroke-width="0.8"/>
<rect x="287.90" y="373.90" width="3.60" height="3.60" fill="#c8c8c8" stroke="none" stroke-width="1"/>
<line x1="304.50" y1="371.70" x2="304.50" y2="377.70" stroke="#c8c8c8" stroke-width="0.8"/>
<line x1="303.20" y1="371.70" x2="305.80" y2="371.70" stroke="#c8c8c8" stroke-width="0.8"/>
<line x1="303.20" y1="377.70" x2="305.80" y2="377.70" stroke="#c8c8c8" stroke-width="0.8"/>
<rect x="302.70" y="372.90" width="3.60" height="3.60" fill="#c8c8c8" stroke="none" stroke-width="1"/>
<polyline points="245.30,405.60 260.40,420.80 275.00,421.00 289.70,423.00 304.50,423.00" fill="none" stroke="#3c4ca0" stroke-width="1.15" stroke-linejoin="round" stroke-dasharray="2,1.2"/>
<circle cx="245.30" cy="405.60" r="1.7000000000000002" fill="white" stroke="#3c4ca0" stroke-width="0.95"/>
<circle cx="260.40" cy="420.80" r="1.7000000000000002" fill="white" stroke="#3c4ca0" stroke-width="0.95"/>
<circle cx="275.00" cy="421.00" r="1.7000000000000002" fill="white" stroke="#3c4ca0" stroke-width="0.95"/>
<circle cx="289.70" cy="423.00" r="1.7000000000000002" fill="white" stroke="#3c4ca0" stroke-width="0.95"/>
<circle cx="304.50" cy="423.00" r="1.7000000000000002" fill="white" stroke="#3c4ca0" stroke-width="0.95"/>
<polyline points="245.30,411.70 260.40,417.70 275.00,416.70 289.70,419.40 304.50,421.40" fill="none" stroke="#cf2a1f" stroke-width="1.15" stroke-linejoin="round"/>
<line x1="245.30" y1="409.70" x2="245.30" y2="413.70" stroke="#cf2a1f" stroke-width="0.8"/>
<line x1="244.00" y1="409.70" x2="246.60" y2="409.70" stroke="#cf2a1f" stroke-width="0.8"/>
<line x1="244.00" y1="413.70" x2="246.60" y2="413.70" stroke="#cf2a1f" stroke-width="0.8"/>
<circle cx="245.30" cy="411.70" r="1.7000000000000002" fill="white" stroke="#cf2a1f" stroke-width="0.95"/>
<line x1="260.40" y1="416.20" x2="260.40" y2="419.20" stroke="#cf2a1f" stroke-width="0.8"/>
<line x1="259.10" y1="416.20" x2="261.70" y2="416.20" stroke="#cf2a1f" stroke-width="0.8"/>
<line x1="259.10" y1="419.20" x2="261.70" y2="419.20" stroke="#cf2a1f" stroke-width="0.8"/>
<circle cx="260.40" cy="417.70" r="1.7000000000000002" fill="white" stroke="#cf2a1f" stroke-width="0.95"/>
<line x1="275.00" y1="413.70" x2="275.00" y2="419.70" stroke="#cf2a1f" stroke-width="0.8"/>
<line x1="273.70" y1="413.70" x2="276.30" y2="413.70" stroke="#cf2a1f" stroke-width="0.8"/>
<line x1="273.70" y1="419.70" x2="276.30" y2="419.70" stroke="#cf2a1f" stroke-width="0.8"/>
<circle cx="275.00" cy="416.70" r="1.7000000000000002" fill="white" stroke="#cf2a1f" stroke-width="0.95"/>
<line x1="289.70" y1="417.90" x2="289.70" y2="420.90" stroke="#cf2a1f" stroke-width="0.8"/>
<line x1="288.40" y1="417.90" x2="291.00" y2="417.90" stroke="#cf2a1f" stroke-width="0.8"/>
<line x1="288.40" y1="420.90" x2="291.00" y2="420.90" stroke="#cf2a1f" stroke-width="0.8"/>
<circle cx="289.70" cy="419.40" r="1.7000000000000002" fill="white" stroke="#cf2a1f" stroke-width="0.95"/>
<line x1="304.50" y1="419.90" x2="304.50" y2="422.90" stroke="#cf2a1f" stroke-width="0.8"/>
<line x1="303.20" y1="419.90" x2="305.80" y2="419.90" stroke="#cf2a1f" stroke-width="0.8"/>
<line x1="303.20" y1="422.90" x2="305.80" y2="422.90" stroke="#cf2a1f" stroke-width="0.8"/>
<circle cx="304.50" cy="421.40" r="1.7000000000000002" fill="white" stroke="#cf2a1f" stroke-width="0.95"/>
<polyline points="245.30,381.00 260.40,384.40 275.00,381.00 289.70,382.40 304.50,380.40" fill="none" stroke="#cf2a1f" stroke-width="1.15" stroke-linejoin="round"/>
<line x1="245.30" y1="379.50" x2="245.30" y2="382.50" stroke="#cf2a1f" stroke-width="0.8"/>
<line x1="244.00" y1="379.50" x2="246.60" y2="379.50" stroke="#cf2a1f" stroke-width="0.8"/>
<line x1="244.00" y1="382.50" x2="246.60" y2="382.50" stroke="#cf2a1f" stroke-width="0.8"/>
<rect x="243.50" y="379.20" width="3.60" height="3.60" fill="#cf2a1f" stroke="none" stroke-width="1"/>
<line x1="260.40" y1="383.40" x2="260.40" y2="385.40" stroke="#cf2a1f" stroke-width="0.8"/>
<line x1="259.10" y1="383.40" x2="261.70" y2="383.40" stroke="#cf2a1f" stroke-width="0.8"/>
<line x1="259.10" y1="385.40" x2="261.70" y2="385.40" stroke="#cf2a1f" stroke-width="0.8"/>
<rect x="258.60" y="382.60" width="3.60" height="3.60" fill="#cf2a1f" stroke="none" stroke-width="1"/>
<line x1="275.00" y1="380.00" x2="275.00" y2="382.00" stroke="#cf2a1f" stroke-width="0.8"/>
<line x1="273.70" y1="380.00" x2="276.30" y2="380.00" stroke="#cf2a1f" stroke-width="0.8"/>
<line x1="273.70" y1="382.00" x2="276.30" y2="382.00" stroke="#cf2a1f" stroke-width="0.8"/>
<rect x="273.20" y="379.20" width="3.60" height="3.60" fill="#cf2a1f" stroke="none" stroke-width="1"/>
<line x1="289.70" y1="380.90" x2="289.70" y2="383.90" stroke="#cf2a1f" stroke-width="0.8"/>
<line x1="288.40" y1="380.90" x2="291.00" y2="380.90" stroke="#cf2a1f" stroke-width="0.8"/>
<line x1="288.40" y1="383.90" x2="291.00" y2="383.90" stroke="#cf2a1f" stroke-width="0.8"/>
<rect x="287.90" y="380.60" width="3.60" height="3.60" fill="#cf2a1f" stroke="none" stroke-width="1"/>
<line x1="304.50" y1="377.90" x2="304.50" y2="382.90" stroke="#cf2a1f" stroke-width="0.8"/>
<line x1="303.20" y1="377.90" x2="305.80" y2="377.90" stroke="#cf2a1f" stroke-width="0.8"/>
<line x1="303.20" y1="382.90" x2="305.80" y2="382.90" stroke="#cf2a1f" stroke-width="0.8"/>
<rect x="302.70" y="378.60" width="3.60" height="3.60" fill="#cf2a1f" stroke="none" stroke-width="1"/>
<polyline points="245.30,372.90 260.40,366.90 275.00,362.20 289.70,361.20 304.50,360.80" fill="none" stroke="#3c4ca0" stroke-width="1.15" stroke-linejoin="round"/>
<circle cx="245.30" cy="372.90" r="2.1" fill="#3c4ca0" stroke="none" stroke-width="1"/>
<circle cx="260.40" cy="366.90" r="2.1" fill="#3c4ca0" stroke="none" stroke-width="1"/>
<circle cx="275.00" cy="362.20" r="2.1" fill="#3c4ca0" stroke="none" stroke-width="1"/>
<circle cx="289.70" cy="361.20" r="2.1" fill="#3c4ca0" stroke="none" stroke-width="1"/>
<circle cx="304.50" cy="360.80" r="2.1" fill="#3c4ca0" stroke="none" stroke-width="1"/>
<rect x="301.38" y="355.09" width="1.43" height="1.43" fill="#3c4ca0"/>
<rect x="303.99" y="355.09" width="1.43" height="1.43" fill="#3c4ca0"/>
<rect x="306.58" y="355.09" width="1.43" height="1.43" fill="#3c4ca0"/>
<rect x="301.38" y="366.59" width="1.43" height="1.43" fill="#c8c8c8"/>
<rect x="303.99" y="366.59" width="1.43" height="1.43" fill="#c8c8c8"/>
<rect x="306.58" y="366.59" width="1.43" height="1.43" fill="#c8c8c8"/>
<rect x="301.38" y="387.79" width="1.43" height="1.43" fill="#cf2a1f"/>
<rect x="303.99" y="387.79" width="1.43" height="1.43" fill="#cf2a1f"/>
<rect x="306.58" y="387.79" width="1.43" height="1.43" fill="#cf2a1f"/>
<text x="362.50" y="352.00" font-size="8.9" textLength="25.20" lengthAdjust="spacingAndGlyphs" stroke="#1a1a1a" stroke-width="0.18">B220+</text>
<line x1="338.80" y1="357.70" x2="338.80" y2="424.30" stroke="#1a1a1a" stroke-width="1.05"/>
<line x1="335.80" y1="423.80" x2="338.80" y2="423.80" stroke="#1a1a1a" stroke-width="0.9"/>
<text x="333.00" y="426.25" font-size="6.8" text-anchor="end" stroke="#1a1a1a" stroke-width="0.14">0</text>
<line x1="335.80" y1="411.08" x2="338.80" y2="411.08" stroke="#1a1a1a" stroke-width="0.9"/>
<text x="333.00" y="413.53" font-size="6.8" text-anchor="end" stroke="#1a1a1a" stroke-width="0.14">20</text>
<line x1="335.80" y1="398.36" x2="338.80" y2="398.36" stroke="#1a1a1a" stroke-width="0.9"/>
<text x="333.00" y="400.81" font-size="6.8" text-anchor="end" stroke="#1a1a1a" stroke-width="0.14">40</text>
<line x1="335.80" y1="385.64" x2="338.80" y2="385.64" stroke="#1a1a1a" stroke-width="0.9"/>
<text x="333.00" y="388.09" font-size="6.8" text-anchor="end" stroke="#1a1a1a" stroke-width="0.14">60</text>
<line x1="335.80" y1="372.92" x2="338.80" y2="372.92" stroke="#1a1a1a" stroke-width="0.9"/>
<text x="333.00" y="375.37" font-size="6.8" text-anchor="end" stroke="#1a1a1a" stroke-width="0.14">80</text>
<line x1="335.80" y1="360.20" x2="338.80" y2="360.20" stroke="#1a1a1a" stroke-width="0.9"/>
<text x="333.00" y="362.65" font-size="6.8" text-anchor="end" stroke="#1a1a1a" stroke-width="0.14">100</text>
<line x1="337.80" y1="423.80" x2="412.90" y2="423.80" stroke="#1a1a1a" stroke-width="1.1"/>
<line x1="345.70" y1="423.80" x2="345.70" y2="426.80" stroke="#1a1a1a" stroke-width="0.9"/>
<text x="345.70" y="436.10" font-size="6.3" text-anchor="middle" stroke="#1a1a1a" stroke-width="0.13">4</text>
<line x1="360.80" y1="423.80" x2="360.80" y2="426.80" stroke="#1a1a1a" stroke-width="0.9"/>
<text x="360.80" y="436.10" font-size="6.3" text-anchor="middle" stroke="#1a1a1a" stroke-width="0.13">8</text>
<line x1="375.60" y1="423.80" x2="375.60" y2="426.80" stroke="#1a1a1a" stroke-width="0.9"/>
<text x="375.60" y="436.10" font-size="6.3" text-anchor="middle" stroke="#1a1a1a" stroke-width="0.13">12</text>
<line x1="390.10" y1="423.80" x2="390.10" y2="426.80" stroke="#1a1a1a" stroke-width="0.9"/>
<text x="390.10" y="436.10" font-size="6.3" text-anchor="middle" stroke="#1a1a1a" stroke-width="0.13">16</text>
<line x1="404.90" y1="423.80" x2="404.90" y2="426.80" stroke="#1a1a1a" stroke-width="0.9"/>
<text x="404.90" y="436.10" font-size="6.3" text-anchor="middle" stroke="#1a1a1a" stroke-width="0.13">20</text>
<polyline points="345.70,419.50 360.80,421.00 375.60,422.00 390.10,423.00 404.90,423.00" fill="none" stroke="#c8c8c8" stroke-width="1.15" stroke-linejoin="round"/>
<circle cx="345.70" cy="419.50" r="1.7000000000000002" fill="white" stroke="#c8c8c8" stroke-width="0.95"/>
<circle cx="360.80" cy="421.00" r="1.7000000000000002" fill="white" stroke="#c8c8c8" stroke-width="0.95"/>
<circle cx="375.60" cy="422.00" r="1.7000000000000002" fill="white" stroke="#c8c8c8" stroke-width="0.95"/>
<circle cx="390.10" cy="423.00" r="1.7000000000000002" fill="white" stroke="#c8c8c8" stroke-width="0.95"/>
<circle cx="404.90" cy="423.00" r="1.7000000000000002" fill="white" stroke="#c8c8c8" stroke-width="0.95"/>
<polyline points="345.70,405.60 360.80,411.30 375.60,397.10 390.10,402.60 404.90,400.00" fill="none" stroke="#c8c8c8" stroke-width="1.15" stroke-linejoin="round"/>
<rect x="343.90" y="403.80" width="3.60" height="3.60" fill="#c8c8c8" stroke="none" stroke-width="1"/>
<rect x="359.00" y="409.50" width="3.60" height="3.60" fill="#c8c8c8" stroke="none" stroke-width="1"/>
<rect x="373.80" y="395.30" width="3.60" height="3.60" fill="#c8c8c8" stroke="none" stroke-width="1"/>
<rect x="388.30" y="400.80" width="3.60" height="3.60" fill="#c8c8c8" stroke="none" stroke-width="1"/>
<rect x="403.10" y="398.20" width="3.60" height="3.60" fill="#c8c8c8" stroke="none" stroke-width="1"/>
<polyline points="345.70,413.10 360.80,423.00 375.60,423.00 390.10,423.50 404.90,423.50" fill="none" stroke="#3c4ca0" stroke-width="1.15" stroke-linejoin="round" stroke-dasharray="2,1.2"/>
<circle cx="345.70" cy="413.10" r="1.7000000000000002" fill="white" stroke="#3c4ca0" stroke-width="0.95"/>
<circle cx="360.80" cy="423.00" r="1.7000000000000002" fill="white" stroke="#3c4ca0" stroke-width="0.95"/>
<circle cx="375.60" cy="423.00" r="1.7000000000000002" fill="white" stroke="#3c4ca0" stroke-width="0.95"/>
<circle cx="390.10" cy="423.50" r="1.7000000000000002" fill="white" stroke="#3c4ca0" stroke-width="0.95"/>
<circle cx="404.90" cy="423.50" r="1.7000000000000002" fill="white" stroke="#3c4ca0" stroke-width="0.95"/>
<polyline points="345.70,416.30 360.80,420.40 375.60,421.50 390.10,422.50 404.90,423.00" fill="none" stroke="#cf2a1f" stroke-width="1.15" stroke-linejoin="round"/>
<circle cx="345.70" cy="416.30" r="1.7000000000000002" fill="white" stroke="#cf2a1f" stroke-width="0.95"/>
<circle cx="360.80" cy="420.40" r="1.7000000000000002" fill="white" stroke="#cf2a1f" stroke-width="0.95"/>
<circle cx="375.60" cy="421.50" r="1.7000000000000002" fill="white" stroke="#cf2a1f" stroke-width="0.95"/>
<circle cx="390.10" cy="422.50" r="1.7000000000000002" fill="white" stroke="#cf2a1f" stroke-width="0.95"/>
<circle cx="404.90" cy="423.00" r="1.7000000000000002" fill="white" stroke="#cf2a1f" stroke-width="0.95"/>
<polyline points="345.70,397.10 360.80,395.10 375.60,384.00 390.10,386.00 404.90,384.00" fill="none" stroke="#3c4ca0" stroke-width="1.15" stroke-linejoin="round"/>
<circle cx="345.70" cy="397.10" r="2.1" fill="#3c4ca0" stroke="none" stroke-width="1"/>
<circle cx="360.80" cy="395.10" r="2.1" fill="#3c4ca0" stroke="none" stroke-width="1"/>
<circle cx="375.60" cy="384.00" r="2.1" fill="#3c4ca0" stroke="none" stroke-width="1"/>
<circle cx="390.10" cy="386.00" r="2.1" fill="#3c4ca0" stroke="none" stroke-width="1"/>
<circle cx="404.90" cy="384.00" r="2.1" fill="#3c4ca0" stroke="none" stroke-width="1"/>
<polyline points="345.70,392.90 360.80,389.50 375.60,387.00 390.10,388.90 404.90,390.90" fill="none" stroke="#cf2a1f" stroke-width="1.15" stroke-linejoin="round"/>
<rect x="343.90" y="391.10" width="3.60" height="3.60" fill="#cf2a1f" stroke="none" stroke-width="1"/>
<rect x="359.00" y="387.70" width="3.60" height="3.60" fill="#cf2a1f" stroke="none" stroke-width="1"/>
<rect x="373.80" y="385.20" width="3.60" height="3.60" fill="#cf2a1f" stroke="none" stroke-width="1"/>
<rect x="388.30" y="387.10" width="3.60" height="3.60" fill="#cf2a1f" stroke="none" stroke-width="1"/>
<rect x="403.10" y="389.10" width="3.60" height="3.60" fill="#cf2a1f" stroke="none" stroke-width="1"/>
<rect x="401.78" y="371.59" width="1.43" height="1.43" fill="#3c4ca0"/>
<rect x="404.38" y="371.59" width="1.43" height="1.43" fill="#3c4ca0"/>
<rect x="406.98" y="371.59" width="1.43" height="1.43" fill="#3c4ca0"/>
<rect x="401.78" y="378.09" width="1.43" height="1.43" fill="#cf2a1f"/>
<rect x="404.38" y="378.09" width="1.43" height="1.43" fill="#cf2a1f"/>
<rect x="406.98" y="378.09" width="1.43" height="1.43" fill="#cf2a1f"/>
<rect x="401.78" y="405.89" width="1.43" height="1.43" fill="#c8c8c8"/>
<rect x="404.38" y="405.89" width="1.43" height="1.43" fill="#c8c8c8"/>
<rect x="406.98" y="405.89" width="1.43" height="1.43" fill="#c8c8c8"/>
<text x="464.50" y="352.00" font-size="8.9" textLength="22.20" lengthAdjust="spacingAndGlyphs" stroke="#1a1a1a" stroke-width="0.18">CD3+</text>
<line x1="439.20" y1="357.70" x2="439.20" y2="424.30" stroke="#1a1a1a" stroke-width="1.05"/>
<line x1="436.20" y1="423.80" x2="439.20" y2="423.80" stroke="#1a1a1a" stroke-width="0.9"/>
<text x="433.40" y="426.25" font-size="6.8" text-anchor="end" stroke="#1a1a1a" stroke-width="0.14">0</text>
<line x1="436.20" y1="411.08" x2="439.20" y2="411.08" stroke="#1a1a1a" stroke-width="0.9"/>
<text x="433.40" y="413.53" font-size="6.8" text-anchor="end" stroke="#1a1a1a" stroke-width="0.14">20</text>
<line x1="436.20" y1="398.36" x2="439.20" y2="398.36" stroke="#1a1a1a" stroke-width="0.9"/>
<text x="433.40" y="400.81" font-size="6.8" text-anchor="end" stroke="#1a1a1a" stroke-width="0.14">40</text>
<line x1="436.20" y1="385.64" x2="439.20" y2="385.64" stroke="#1a1a1a" stroke-width="0.9"/>
<text x="433.40" y="388.09" font-size="6.8" text-anchor="end" stroke="#1a1a1a" stroke-width="0.14">60</text>
<line x1="436.20" y1="372.92" x2="439.20" y2="372.92" stroke="#1a1a1a" stroke-width="0.9"/>
<text x="433.40" y="375.37" font-size="6.8" text-anchor="end" stroke="#1a1a1a" stroke-width="0.14">80</text>
<line x1="436.20" y1="360.20" x2="439.20" y2="360.20" stroke="#1a1a1a" stroke-width="0.9"/>
<text x="433.40" y="362.65" font-size="6.8" text-anchor="end" stroke="#1a1a1a" stroke-width="0.14">100</text>
<line x1="438.20" y1="423.80" x2="513.00" y2="423.80" stroke="#1a1a1a" stroke-width="1.1"/>
<line x1="446.30" y1="423.80" x2="446.30" y2="426.80" stroke="#1a1a1a" stroke-width="0.9"/>
<text x="446.30" y="436.10" font-size="6.3" text-anchor="middle" stroke="#1a1a1a" stroke-width="0.13">4</text>
<line x1="461.00" y1="423.80" x2="461.00" y2="426.80" stroke="#1a1a1a" stroke-width="0.9"/>
<text x="461.00" y="436.10" font-size="6.3" text-anchor="middle" stroke="#1a1a1a" stroke-width="0.13">8</text>
<line x1="476.00" y1="423.80" x2="476.00" y2="426.80" stroke="#1a1a1a" stroke-width="0.9"/>
<text x="476.00" y="436.10" font-size="6.3" text-anchor="middle" stroke="#1a1a1a" stroke-width="0.13">12</text>
<line x1="490.70" y1="423.80" x2="490.70" y2="426.80" stroke="#1a1a1a" stroke-width="0.9"/>
<text x="490.70" y="436.10" font-size="6.3" text-anchor="middle" stroke="#1a1a1a" stroke-width="0.13">16</text>
<line x1="505.50" y1="423.80" x2="505.50" y2="426.80" stroke="#1a1a1a" stroke-width="0.9"/>
<text x="505.50" y="436.10" font-size="6.3" text-anchor="middle" stroke="#1a1a1a" stroke-width="0.13">20</text>
<polyline points="446.30,419.00 461.00,421.50 476.00,422.50 490.70,423.00 505.50,423.00" fill="none" stroke="#c8c8c8" stroke-width="1.15" stroke-linejoin="round"/>
<circle cx="446.30" cy="419.00" r="1.7000000000000002" fill="white" stroke="#c8c8c8" stroke-width="0.95"/>
<circle cx="461.00" cy="421.50" r="1.7000000000000002" fill="white" stroke="#c8c8c8" stroke-width="0.95"/>
<circle cx="476.00" cy="422.50" r="1.7000000000000002" fill="white" stroke="#c8c8c8" stroke-width="0.95"/>
<circle cx="490.70" cy="423.00" r="1.7000000000000002" fill="white" stroke="#c8c8c8" stroke-width="0.95"/>
<circle cx="505.50" cy="423.00" r="1.7000000000000002" fill="white" stroke="#c8c8c8" stroke-width="0.95"/>
<polyline points="446.30,407.00 461.00,416.70 476.00,402.00 490.70,404.00 505.50,401.00" fill="none" stroke="#c8c8c8" stroke-width="1.15" stroke-linejoin="round"/>
<rect x="444.50" y="405.20" width="3.60" height="3.60" fill="#c8c8c8" stroke="none" stroke-width="1"/>
<rect x="459.20" y="414.90" width="3.60" height="3.60" fill="#c8c8c8" stroke="none" stroke-width="1"/>
<rect x="474.20" y="400.20" width="3.60" height="3.60" fill="#c8c8c8" stroke="none" stroke-width="1"/>
<rect x="488.90" y="402.20" width="3.60" height="3.60" fill="#c8c8c8" stroke="none" stroke-width="1"/>
<rect x="503.70" y="399.20" width="3.60" height="3.60" fill="#c8c8c8" stroke="none" stroke-width="1"/>
<polyline points="446.30,411.30 461.00,423.00 476.00,423.00 490.70,423.50 505.50,423.50" fill="none" stroke="#3c4ca0" stroke-width="1.15" stroke-linejoin="round" stroke-dasharray="2,1.2"/>
<circle cx="446.30" cy="411.30" r="1.7000000000000002" fill="white" stroke="#3c4ca0" stroke-width="0.95"/>
<circle cx="461.00" cy="423.00" r="1.7000000000000002" fill="white" stroke="#3c4ca0" stroke-width="0.95"/>
<circle cx="476.00" cy="423.00" r="1.7000000000000002" fill="white" stroke="#3c4ca0" stroke-width="0.95"/>
<circle cx="490.70" cy="423.50" r="1.7000000000000002" fill="white" stroke="#3c4ca0" stroke-width="0.95"/>
<circle cx="505.50" cy="423.50" r="1.7000000000000002" fill="white" stroke="#3c4ca0" stroke-width="0.95"/>
<polyline points="446.30,415.70 461.00,420.20 476.00,421.00 490.70,422.50 505.50,422.50" fill="none" stroke="#cf2a1f" stroke-width="1.15" stroke-linejoin="round"/>
<circle cx="446.30" cy="415.70" r="1.7000000000000002" fill="white" stroke="#cf2a1f" stroke-width="0.95"/>
<circle cx="461.00" cy="420.20" r="1.7000000000000002" fill="white" stroke="#cf2a1f" stroke-width="0.95"/>
<circle cx="476.00" cy="421.00" r="1.7000000000000002" fill="white" stroke="#cf2a1f" stroke-width="0.95"/>
<circle cx="490.70" cy="422.50" r="1.7000000000000002" fill="white" stroke="#cf2a1f" stroke-width="0.95"/>
<circle cx="505.50" cy="422.50" r="1.7000000000000002" fill="white" stroke="#cf2a1f" stroke-width="0.95"/>
<polyline points="446.30,396.50 461.00,403.60 476.00,393.50 490.70,394.10 505.50,387.50" fill="none" stroke="#3c4ca0" stroke-width="1.15" stroke-linejoin="round"/>
<circle cx="446.30" cy="396.50" r="2.1" fill="#3c4ca0" stroke="none" stroke-width="1"/>
<circle cx="461.00" cy="403.60" r="2.1" fill="#3c4ca0" stroke="none" stroke-width="1"/>
<circle cx="476.00" cy="393.50" r="2.1" fill="#3c4ca0" stroke="none" stroke-width="1"/>
<circle cx="490.70" cy="394.10" r="2.1" fill="#3c4ca0" stroke="none" stroke-width="1"/>
<circle cx="505.50" cy="387.50" r="2.1" fill="#3c4ca0" stroke="none" stroke-width="1"/>
<polyline points="446.30,393.50 461.00,395.10 476.00,389.10 490.70,391.10 505.50,391.10" fill="none" stroke="#cf2a1f" stroke-width="1.15" stroke-linejoin="round"/>
<rect x="444.50" y="391.70" width="3.60" height="3.60" fill="#cf2a1f" stroke="none" stroke-width="1"/>
<rect x="459.20" y="393.30" width="3.60" height="3.60" fill="#cf2a1f" stroke="none" stroke-width="1"/>
<rect x="474.20" y="387.30" width="3.60" height="3.60" fill="#cf2a1f" stroke="none" stroke-width="1"/>
<rect x="488.90" y="389.30" width="3.60" height="3.60" fill="#cf2a1f" stroke="none" stroke-width="1"/>
<rect x="503.70" y="389.30" width="3.60" height="3.60" fill="#cf2a1f" stroke="none" stroke-width="1"/>
<rect x="502.38" y="373.99" width="1.43" height="1.43" fill="#3c4ca0"/>
<rect x="504.99" y="373.99" width="1.43" height="1.43" fill="#3c4ca0"/>
<rect x="507.58" y="373.99" width="1.43" height="1.43" fill="#3c4ca0"/>
<rect x="502.38" y="380.69" width="1.43" height="1.43" fill="#cf2a1f"/>
<rect x="504.99" y="380.69" width="1.43" height="1.43" fill="#cf2a1f"/>
<rect x="507.58" y="380.69" width="1.43" height="1.43" fill="#cf2a1f"/>
<rect x="502.38" y="406.89" width="1.43" height="1.43" fill="#c8c8c8"/>
<rect x="504.99" y="406.89" width="1.43" height="1.43" fill="#c8c8c8"/>
<rect x="507.58" y="406.89" width="1.43" height="1.43" fill="#c8c8c8"/>
<text x="8.40" y="469.80" font-size="11.8" font-weight="bold">D</text>
<text x="29.30" y="469.90" font-size="9.0" font-style="italic" textLength="26.00" lengthAdjust="spacingAndGlyphs" stroke="#1a1a1a" stroke-width="0.18">In vivo</text>
<text x="57.60" y="469.90" font-size="9.0" textLength="107.40" lengthAdjust="spacingAndGlyphs" stroke="#1a1a1a" stroke-width="0.18">lineage contribution of Epcr</text>
<text x="165.50" y="465.94" font-size="5.94" textLength="6.00" lengthAdjust="spacingAndGlyphs" stroke="#1a1a1a" stroke-width="0.12">hi</text>
<text x="173.60" y="469.90" font-size="9.0" textLength="31.10" lengthAdjust="spacingAndGlyphs" stroke="#1a1a1a" stroke-width="0.18">and Epcr</text>
<text x="206.00" y="465.94" font-size="5.94" textLength="4.80" lengthAdjust="spacingAndGlyphs" stroke="#1a1a1a" stroke-width="0.12">lo</text>
<text x="212.80" y="469.90" font-size="9.0" textLength="115.20" lengthAdjust="spacingAndGlyphs" stroke="#1a1a1a" stroke-width="0.18">HSCs to HSPCs of recipients</text>
<rect x="37.10" y="484.30" width="5.20" height="2.90" fill="#c4c4c6" stroke="#1a1a1a" stroke-width="0.8"/>
<text x="44.90" y="488.00" font-size="5.6" textLength="24.73" lengthAdjust="spacingAndGlyphs" stroke="#1a1a1a" stroke-width="0.11">WT / Epcr</text>
<text x="69.63" y="485.54" font-size="3.7" textLength="2.87" lengthAdjust="spacingAndGlyphs" stroke="#1a1a1a" stroke-width="0.07">hi</text>
<rect x="86.60" y="484.30" width="5.20" height="2.90" fill="#3c4ca0" stroke="#3c4ca0" stroke-width="0.8"/>
<text x="94.40" y="488.00" font-size="5.6" fill="#3c4ca0" font-style="italic" textLength="24.11" lengthAdjust="spacingAndGlyphs" stroke="#3c4ca0" stroke-width="0.11">VF / Epcr</text>
<text x="118.51" y="485.54" font-size="3.7" fill="#3c4ca0" font-style="italic" textLength="2.99" lengthAdjust="spacingAndGlyphs" stroke="#3c4ca0" stroke-width="0.07">hi</text>
<rect x="135.80" y="484.30" width="5.20" height="2.90" fill="#d42513" stroke="#d42513" stroke-width="0.8"/>
<text x="143.60" y="488.00" font-size="5.6" fill="#d42513" font-style="italic" textLength="27.21" lengthAdjust="spacingAndGlyphs" stroke="#d42513" stroke-width="0.11">E12 / Epcr</text>
<text x="170.81" y="485.54" font-size="3.7" fill="#d42513" font-style="italic" textLength="2.99" lengthAdjust="spacingAndGlyphs" stroke="#d42513" stroke-width="0.07">hi</text>
<rect x="185.40" y="484.30" width="5.20" height="2.90" fill="white" stroke="#1a1a1a" stroke-width="0.8"/>
<text x="193.20" y="488.00" font-size="5.6" textLength="24.82" lengthAdjust="spacingAndGlyphs" stroke="#1a1a1a" stroke-width="0.11">WT / Epcr</text>
<text x="218.02" y="485.54" font-size="3.7" textLength="2.88" lengthAdjust="spacingAndGlyphs" stroke="#1a1a1a" stroke-width="0.07">lo</text>
<rect x="234.70" y="484.30" width="5.20" height="2.90" fill="white" stroke="#3c4ca0" stroke-width="0.8"/>
<text x="242.50" y="488.00" font-size="5.6" fill="#3c4ca0" font-style="italic" textLength="23.49" lengthAdjust="spacingAndGlyphs" stroke="#3c4ca0" stroke-width="0.11">VF / Epcr</text>
<text x="265.99" y="485.54" font-size="3.7" fill="#3c4ca0" font-style="italic" textLength="2.91" lengthAdjust="spacingAndGlyphs" stroke="#3c4ca0" stroke-width="0.07">lo</text>
<rect x="284.40" y="484.30" width="5.20" height="2.90" fill="white" stroke="#d42513" stroke-width="0.8"/>
<text x="292.20" y="488.00" font-size="5.6" fill="#d42513" font-style="italic" textLength="25.49" lengthAdjust="spacingAndGlyphs" stroke="#d42513" stroke-width="0.11">E12 / Epcr</text>
<text x="317.69" y="485.54" font-size="3.7" fill="#d42513" font-style="italic" textLength="2.81" lengthAdjust="spacingAndGlyphs" stroke="#d42513" stroke-width="0.07">lo</text>
<text x="37.00" y="507.40" font-size="6.8" stroke="#1a1a1a" stroke-width="0.14">BM</text>
<line x1="37.00" y1="511.30" x2="37.00" y2="570.00" stroke="#1a1a1a" stroke-width="1.05"/>
<line x1="34.00" y1="569.50" x2="37.00" y2="569.50" stroke="#1a1a1a" stroke-width="0.9"/>
<text x="31.20" y="571.77" font-size="6.3" text-anchor="end" stroke="#1a1a1a" stroke-width="0.13">0</text>
<line x1="34.00" y1="558.46" x2="37.00" y2="558.46" stroke="#1a1a1a" stroke-width="0.9"/>
<text x="31.20" y="560.73" font-size="6.3" text-anchor="end" stroke="#1a1a1a" stroke-width="0.13">20</text>
<line x1="34.00" y1="547.42" x2="37.00" y2="547.42" stroke="#1a1a1a" stroke-width="0.9"/>
<text x="31.20" y="549.69" font-size="6.3" text-anchor="end" stroke="#1a1a1a" stroke-width="0.13">40</text>
<line x1="34.00" y1="536.38" x2="37.00" y2="536.38" stroke="#1a1a1a" stroke-width="0.9"/>
<text x="31.20" y="538.65" font-size="6.3" text-anchor="end" stroke="#1a1a1a" stroke-width="0.13">60</text>
<line x1="34.00" y1="525.34" x2="37.00" y2="525.34" stroke="#1a1a1a" stroke-width="0.9"/>
<text x="31.20" y="527.61" font-size="6.3" text-anchor="end" stroke="#1a1a1a" stroke-width="0.13">80</text>
<line x1="34.00" y1="514.30" x2="37.00" y2="514.30" stroke="#1a1a1a" stroke-width="0.9"/>
<text x="31.20" y="516.57" font-size="6.3" text-anchor="end" stroke="#1a1a1a" stroke-width="0.13">100</text>
<line x1="34.00" y1="569.50" x2="321.00" y2="569.50" stroke="#1a1a1a" stroke-width="1.1"/>
<line x1="49.90" y1="569.50" x2="49.90" y2="571.50" stroke="#1a1a1a" stroke-width="0.8"/>
<text x="50.10" y="581.60" font-size="6.6" text-anchor="middle" stroke="#1a1a1a" stroke-width="0.13">LT-HSC</text>
<line x1="40.05" y1="550.18" x2="40.05" y2="558.46" stroke="#1a1a1a" stroke-width="0.7"/>
<line x1="39.10" y1="550.18" x2="41.00" y2="550.18" stroke="#1a1a1a" stroke-width="0.7"/>
<rect x="38.80" y="558.86" width="2.50" height="10.64" fill="#c4c4c6" stroke="#1a1a1a" stroke-width="0.8"/>
<rect x="42.30" y="569.35" width="2.50" height="0.30" fill="white" stroke="#1a1a1a" stroke-width="0.8"/>
<rect x="46.70" y="516.51" width="3.30" height="52.99" fill="#3c4ca0" stroke="none" stroke-width="1"/>
<rect x="50.60" y="569.62" width="2.50" height="0.30" fill="white" stroke="#3c4ca0" stroke-width="0.8"/>
<line x1="56.35" y1="539.14" x2="56.35" y2="543.56" stroke="#d42513" stroke-width="0.7"/>
<line x1="55.40" y1="539.14" x2="57.30" y2="539.14" stroke="#d42513" stroke-width="0.7"/>
<rect x="54.70" y="543.56" width="3.30" height="25.94" fill="#d42513" stroke="none" stroke-width="1"/>
<rect x="58.60" y="569.35" width="2.50" height="0.30" fill="white" stroke="#d42513" stroke-width="0.8"/>
<line x1="78.40" y1="569.50" x2="78.40" y2="571.50" stroke="#1a1a1a" stroke-width="0.8"/>
<text x="78.60" y="581.60" font-size="6.6" text-anchor="middle" stroke="#1a1a1a" stroke-width="0.13">LSK</text>
<line x1="68.55" y1="564.53" x2="68.55" y2="565.64" stroke="#1a1a1a" stroke-width="0.7"/>
<line x1="67.60" y1="564.53" x2="69.50" y2="564.53" stroke="#1a1a1a" stroke-width="0.7"/>
<rect x="67.30" y="566.04" width="2.50" height="3.46" fill="#c4c4c6" stroke="#1a1a1a" stroke-width="0.8"/>
<rect x="70.80" y="569.62" width="2.50" height="0.30" fill="white" stroke="#1a1a1a" stroke-width="0.8"/>
<rect x="75.20" y="515.40" width="3.30" height="54.10" fill="#3c4ca0" stroke="none" stroke-width="1"/>
<rect x="79.10" y="569.62" width="2.50" height="0.30" fill="white" stroke="#3c4ca0" stroke-width="0.8"/>
<rect x="83.20" y="533.62" width="3.30" height="35.88" fill="#d42513" stroke="none" stroke-width="1"/>
<rect x="87.10" y="569.62" width="2.50" height="0.30" fill="white" stroke="#d42513" stroke-width="0.8"/>
<line x1="106.90" y1="569.50" x2="106.90" y2="571.50" stroke="#1a1a1a" stroke-width="0.8"/>
<text x="107.10" y="581.60" font-size="6.6" text-anchor="middle" stroke="#1a1a1a" stroke-width="0.13">CMP</text>
<line x1="97.05" y1="557.91" x2="97.05" y2="560.12" stroke="#1a1a1a" stroke-width="0.7"/>
<line x1="96.10" y1="557.91" x2="98.00" y2="557.91" stroke="#1a1a1a" stroke-width="0.7"/>
<rect x="95.80" y="560.52" width="2.50" height="8.98" fill="#c4c4c6" stroke="#1a1a1a" stroke-width="0.8"/>
<rect x="99.30" y="569.35" width="2.50" height="0.30" fill="white" stroke="#1a1a1a" stroke-width="0.8"/>
<rect x="103.70" y="514.85" width="3.30" height="54.65" fill="#3c4ca0" stroke="none" stroke-width="1"/>
<rect x="107.60" y="569.62" width="2.50" height="0.30" fill="white" stroke="#3c4ca0" stroke-width="0.8"/>
<line x1="113.35" y1="536.93" x2="113.35" y2="538.04" stroke="#d42513" stroke-width="0.7"/>
<line x1="112.40" y1="536.93" x2="114.30" y2="536.93" stroke="#d42513" stroke-width="0.7"/>
<rect x="111.70" y="538.04" width="3.30" height="31.46" fill="#d42513" stroke="none" stroke-width="1"/>
<rect x="115.60" y="569.62" width="2.50" height="0.30" fill="white" stroke="#d42513" stroke-width="0.8"/>
<line x1="135.40" y1="569.50" x2="135.40" y2="571.50" stroke="#1a1a1a" stroke-width="0.8"/>
<text x="135.60" y="581.60" font-size="6.6" text-anchor="middle" stroke="#1a1a1a" stroke-width="0.13">GMP</text>
<line x1="125.55" y1="559.01" x2="125.55" y2="560.67" stroke="#1a1a1a" stroke-width="0.7"/>
<line x1="124.60" y1="559.01" x2="126.50" y2="559.01" stroke="#1a1a1a" stroke-width="0.7"/>
<rect x="124.30" y="561.07" width="2.50" height="8.43" fill="#c4c4c6" stroke="#1a1a1a" stroke-width="0.8"/>
<rect x="127.80" y="569.62" width="2.50" height="0.30" fill="white" stroke="#1a1a1a" stroke-width="0.8"/>
<rect x="132.20" y="515.40" width="3.30" height="54.10" fill="#3c4ca0" stroke="none" stroke-width="1"/>
<rect x="136.10" y="569.62" width="2.50" height="0.30" fill="white" stroke="#3c4ca0" stroke-width="0.8"/>
<rect x="140.20" y="541.90" width="3.30" height="27.60" fill="#d42513" stroke="none" stroke-width="1"/>
<rect x="144.10" y="569.62" width="2.50" height="0.30" fill="white" stroke="#d42513" stroke-width="0.8"/>
<line x1="163.90" y1="569.50" x2="163.90" y2="571.50" stroke="#1a1a1a" stroke-width="0.8"/>
<text x="164.10" y="581.60" font-size="6.6" text-anchor="middle" stroke="#1a1a1a" stroke-width="0.13">MEP</text>
<line x1="154.05" y1="559.01" x2="154.05" y2="560.67" stroke="#1a1a1a" stroke-width="0.7"/>
<line x1="153.10" y1="559.01" x2="155.00" y2="559.01" stroke="#1a1a1a" stroke-width="0.7"/>
<rect x="152.80" y="561.07" width="2.50" height="8.43" fill="#c4c4c6" stroke="#1a1a1a" stroke-width="0.8"/>
<rect x="156.30" y="569.62" width="2.50" height="0.30" fill="white" stroke="#1a1a1a" stroke-width="0.8"/>
<rect x="160.70" y="515.40" width="3.30" height="54.10" fill="#3c4ca0" stroke="none" stroke-width="1"/>
<rect x="164.60" y="569.62" width="2.50" height="0.30" fill="white" stroke="#3c4ca0" stroke-width="0.8"/>
<line x1="170.35" y1="517.61" x2="170.35" y2="519.82" stroke="#d42513" stroke-width="0.7"/>
<line x1="169.40" y1="517.61" x2="171.30" y2="517.61" stroke="#d42513" stroke-width="0.7"/>
<rect x="168.70" y="519.82" width="3.30" height="49.68" fill="#d42513" stroke="none" stroke-width="1"/>
<rect x="172.60" y="569.62" width="2.50" height="0.30" fill="white" stroke="#d42513" stroke-width="0.8"/>
<line x1="192.40" y1="569.50" x2="192.40" y2="571.50" stroke="#1a1a1a" stroke-width="0.8"/>
<text x="192.60" y="581.60" font-size="6.6" text-anchor="middle" stroke="#1a1a1a" stroke-width="0.13">MyP</text>
<line x1="182.55" y1="558.46" x2="182.55" y2="560.12" stroke="#1a1a1a" stroke-width="0.7"/>
<line x1="181.60" y1="558.46" x2="183.50" y2="558.46" stroke="#1a1a1a" stroke-width="0.7"/>
<rect x="181.30" y="560.52" width="2.50" height="8.98" fill="#c4c4c6" stroke="#1a1a1a" stroke-width="0.8"/>
<rect x="184.80" y="569.62" width="2.50" height="0.30" fill="white" stroke="#1a1a1a" stroke-width="0.8"/>
<rect x="189.20" y="515.40" width="3.30" height="54.10" fill="#3c4ca0" stroke="none" stroke-width="1"/>
<rect x="193.10" y="569.62" width="2.50" height="0.30" fill="white" stroke="#3c4ca0" stroke-width="0.8"/>
<line x1="198.85" y1="531.41" x2="198.85" y2="532.52" stroke="#d42513" stroke-width="0.7"/>
<line x1="197.90" y1="531.41" x2="199.80" y2="531.41" stroke="#d42513" stroke-width="0.7"/>
<rect x="197.20" y="532.52" width="3.30" height="36.98" fill="#d42513" stroke="none" stroke-width="1"/>
<rect x="201.10" y="569.62" width="2.50" height="0.30" fill="white" stroke="#d42513" stroke-width="0.8"/>
<line x1="220.90" y1="569.50" x2="220.90" y2="571.50" stroke="#1a1a1a" stroke-width="0.8"/>
<text x="221.10" y="581.60" font-size="6.6" text-anchor="middle" stroke="#1a1a1a" stroke-width="0.13">Pre-Meg-E</text>
<line x1="211.05" y1="561.22" x2="211.05" y2="562.88" stroke="#1a1a1a" stroke-width="0.7"/>
<line x1="210.10" y1="561.22" x2="212.00" y2="561.22" stroke="#1a1a1a" stroke-width="0.7"/>
<rect x="209.80" y="563.28" width="2.50" height="6.22" fill="#c4c4c6" stroke="#1a1a1a" stroke-width="0.8"/>
<rect x="213.30" y="569.62" width="2.50" height="0.30" fill="white" stroke="#1a1a1a" stroke-width="0.8"/>
<rect x="217.70" y="516.51" width="3.30" height="52.99" fill="#3c4ca0" stroke="none" stroke-width="1"/>
<rect x="221.60" y="569.62" width="2.50" height="0.30" fill="white" stroke="#3c4ca0" stroke-width="0.8"/>
<line x1="227.35" y1="535.28" x2="227.35" y2="540.80" stroke="#d42513" stroke-width="0.7"/>
<line x1="226.40" y1="535.28" x2="228.30" y2="535.28" stroke="#d42513" stroke-width="0.7"/>
<rect x="225.70" y="540.80" width="3.30" height="28.70" fill="#d42513" stroke="none" stroke-width="1"/>
<rect x="229.60" y="569.62" width="2.50" height="0.30" fill="white" stroke="#d42513" stroke-width="0.8"/>
<line x1="249.40" y1="569.50" x2="249.40" y2="571.50" stroke="#1a1a1a" stroke-width="0.8"/>
<text x="249.60" y="581.60" font-size="6.6" text-anchor="middle" stroke="#1a1a1a" stroke-width="0.13">MkP</text>
<line x1="239.55" y1="551.28" x2="239.55" y2="554.04" stroke="#1a1a1a" stroke-width="0.7"/>
<line x1="238.60" y1="551.28" x2="240.50" y2="551.28" stroke="#1a1a1a" stroke-width="0.7"/>
<rect x="238.30" y="554.44" width="2.50" height="15.06" fill="#c4c4c6" stroke="#1a1a1a" stroke-width="0.8"/>
<rect x="241.80" y="569.62" width="2.50" height="0.30" fill="white" stroke="#1a1a1a" stroke-width="0.8"/>
<rect x="246.20" y="515.96" width="3.30" height="53.54" fill="#3c4ca0" stroke="none" stroke-width="1"/>
<rect x="250.10" y="569.62" width="2.50" height="0.30" fill="white" stroke="#3c4ca0" stroke-width="0.8"/>
<line x1="255.85" y1="531.96" x2="255.85" y2="533.07" stroke="#d42513" stroke-width="0.7"/>
<line x1="254.90" y1="531.96" x2="256.80" y2="531.96" stroke="#d42513" stroke-width="0.7"/>
<rect x="254.20" y="533.07" width="3.30" height="36.43" fill="#d42513" stroke="none" stroke-width="1"/>
<rect x="258.10" y="569.62" width="2.50" height="0.30" fill="white" stroke="#d42513" stroke-width="0.8"/>
<line x1="277.90" y1="569.50" x2="277.90" y2="571.50" stroke="#1a1a1a" stroke-width="0.8"/>
<text x="278.10" y="581.60" font-size="6.6" text-anchor="middle" stroke="#1a1a1a" stroke-width="0.13">Pre-CFU-E</text>
<line x1="268.05" y1="561.22" x2="268.05" y2="562.88" stroke="#1a1a1a" stroke-width="0.7"/>
<line x1="267.10" y1="561.22" x2="269.00" y2="561.22" stroke="#1a1a1a" stroke-width="0.7"/>
<rect x="266.80" y="563.28" width="2.50" height="6.22" fill="#c4c4c6" stroke="#1a1a1a" stroke-width="0.8"/>
<rect x="270.30" y="569.62" width="2.50" height="0.30" fill="white" stroke="#1a1a1a" stroke-width="0.8"/>
<rect x="274.70" y="515.40" width="3.30" height="54.10" fill="#3c4ca0" stroke="none" stroke-width="1"/>
<rect x="278.60" y="569.62" width="2.50" height="0.30" fill="white" stroke="#3c4ca0" stroke-width="0.8"/>
<line x1="284.35" y1="515.40" x2="284.35" y2="517.06" stroke="#d42513" stroke-width="0.7"/>
<line x1="283.40" y1="515.40" x2="285.30" y2="515.40" stroke="#d42513" stroke-width="0.7"/>
<rect x="282.70" y="517.06" width="3.30" height="52.44" fill="#d42513" stroke="none" stroke-width="1"/>
<rect x="286.60" y="569.62" width="2.50" height="0.30" fill="white" stroke="#d42513" stroke-width="0.8"/>
<line x1="306.40" y1="569.50" x2="306.40" y2="571.50" stroke="#1a1a1a" stroke-width="0.8"/>
<text x="306.60" y="581.60" font-size="6.6" text-anchor="middle" stroke="#1a1a1a" stroke-width="0.13">CFU-E</text>
<line x1="296.55" y1="559.01" x2="296.55" y2="560.67" stroke="#1a1a1a" stroke-width="0.7"/>
<line x1="295.60" y1="559.01" x2="297.50" y2="559.01" stroke="#1a1a1a" stroke-width="0.7"/>
<rect x="295.30" y="561.07" width="2.50" height="8.43" fill="#c4c4c6" stroke="#1a1a1a" stroke-width="0.8"/>
<rect x="298.80" y="569.62" width="2.50" height="0.30" fill="white" stroke="#1a1a1a" stroke-width="0.8"/>
<rect x="303.20" y="515.40" width="3.30" height="54.10" fill="#3c4ca0" stroke="none" stroke-width="1"/>
<rect x="307.10" y="569.62" width="2.50" height="0.30" fill="white" stroke="#3c4ca0" stroke-width="0.8"/>
<line x1="312.85" y1="517.06" x2="312.85" y2="519.27" stroke="#d42513" stroke-width="0.7"/>
<line x1="311.90" y1="517.06" x2="313.80" y2="517.06" stroke="#d42513" stroke-width="0.7"/>
<rect x="311.20" y="519.27" width="3.30" height="50.23" fill="#d42513" stroke="none" stroke-width="1"/>
<rect x="315.10" y="569.62" width="2.50" height="0.30" fill="white" stroke="#d42513" stroke-width="0.8"/>
<line x1="46.00" y1="513.50" x2="56.20" y2="513.50" stroke="#333" stroke-width="1.25"/>
<rect x="48.02" y="510.02" width="1.17" height="1.17" fill="#1a1a1a"/>
<rect x="50.52" y="510.02" width="1.17" height="1.17" fill="#1a1a1a"/>
<rect x="53.02" y="510.02" width="1.17" height="1.17" fill="#1a1a1a"/>
<line x1="56.20" y1="536.00" x2="62.30" y2="536.00" stroke="#333" stroke-width="1.25"/>
<rect x="57.41" y="532.51" width="1.17" height="1.17" fill="#1a1a1a"/>
<rect x="59.91" y="532.51" width="1.17" height="1.17" fill="#1a1a1a"/>
<line x1="75.20" y1="508.80" x2="85.40" y2="508.80" stroke="#333" stroke-width="1.25"/>
<rect x="77.22" y="505.32" width="1.17" height="1.17" fill="#1a1a1a"/>
<rect x="79.72" y="505.32" width="1.17" height="1.17" fill="#1a1a1a"/>
<rect x="82.22" y="505.32" width="1.17" height="1.17" fill="#1a1a1a"/>
<line x1="83.00" y1="530.40" x2="91.50" y2="530.40" stroke="#333" stroke-width="1.25"/>
<rect x="84.17" y="526.91" width="1.17" height="1.17" fill="#1a1a1a"/>
<rect x="86.67" y="526.91" width="1.17" height="1.17" fill="#1a1a1a"/>
<rect x="89.17" y="526.91" width="1.17" height="1.17" fill="#1a1a1a"/>
<line x1="104.00" y1="508.80" x2="113.50" y2="508.80" stroke="#333" stroke-width="1.25"/>
<rect x="105.67" y="505.32" width="1.17" height="1.17" fill="#1a1a1a"/>
<rect x="108.17" y="505.32" width="1.17" height="1.17" fill="#1a1a1a"/>
<rect x="110.67" y="505.32" width="1.17" height="1.17" fill="#1a1a1a"/>
<line x1="111.50" y1="535.00" x2="119.50" y2="535.00" stroke="#333" stroke-width="1.25"/>
<rect x="113.67" y="531.51" width="1.17" height="1.17" fill="#1a1a1a"/>
<rect x="116.17" y="531.51" width="1.17" height="1.17" fill="#1a1a1a"/>
<line x1="94.60" y1="555.00" x2="102.30" y2="555.00" stroke="#333" stroke-width="1.25"/>
<rect x="97.86" y="551.51" width="1.17" height="1.17" fill="#1a1a1a"/>
<line x1="132.50" y1="508.80" x2="142.00" y2="508.80" stroke="#333" stroke-width="1.25"/>
<rect x="134.16" y="505.32" width="1.17" height="1.17" fill="#1a1a1a"/>
<rect x="136.66" y="505.32" width="1.17" height="1.17" fill="#1a1a1a"/>
<rect x="139.16" y="505.32" width="1.17" height="1.17" fill="#1a1a1a"/>
<line x1="140.50" y1="538.50" x2="148.50" y2="538.50" stroke="#333" stroke-width="1.25"/>
<rect x="141.41" y="535.01" width="1.17" height="1.17" fill="#1a1a1a"/>
<rect x="143.91" y="535.01" width="1.17" height="1.17" fill="#1a1a1a"/>
<rect x="146.41" y="535.01" width="1.17" height="1.17" fill="#1a1a1a"/>
<line x1="123.10" y1="555.50" x2="130.80" y2="555.50" stroke="#333" stroke-width="1.25"/>
<rect x="126.37" y="552.01" width="1.17" height="1.17" fill="#1a1a1a"/>
<line x1="161.00" y1="508.80" x2="170.50" y2="508.80" stroke="#333" stroke-width="1.25"/>
<rect x="162.66" y="505.32" width="1.17" height="1.17" fill="#1a1a1a"/>
<rect x="165.16" y="505.32" width="1.17" height="1.17" fill="#1a1a1a"/>
<rect x="167.66" y="505.32" width="1.17" height="1.17" fill="#1a1a1a"/>
<line x1="169.00" y1="516.50" x2="177.00" y2="516.50" stroke="#333" stroke-width="1.25"/>
<rect x="171.16" y="513.01" width="1.17" height="1.17" fill="#1a1a1a"/>
<rect x="173.66" y="513.01" width="1.17" height="1.17" fill="#1a1a1a"/>
<line x1="151.60" y1="555.50" x2="159.30" y2="555.50" stroke="#333" stroke-width="1.25"/>
<rect x="154.86" y="552.01" width="1.17" height="1.17" fill="#1a1a1a"/>
<line x1="189.50" y1="508.80" x2="199.00" y2="508.80" stroke="#333" stroke-width="1.25"/>
<rect x="191.16" y="505.32" width="1.17" height="1.17" fill="#1a1a1a"/>
<rect x="193.66" y="505.32" width="1.17" height="1.17" fill="#1a1a1a"/>
<rect x="196.16" y="505.32" width="1.17" height="1.17" fill="#1a1a1a"/>
<line x1="197.50" y1="529.50" x2="205.50" y2="529.50" stroke="#333" stroke-width="1.25"/>
<rect x="198.41" y="526.01" width="1.17" height="1.17" fill="#1a1a1a"/>
<rect x="200.91" y="526.01" width="1.17" height="1.17" fill="#1a1a1a"/>
<rect x="203.41" y="526.01" width="1.17" height="1.17" fill="#1a1a1a"/>
<line x1="180.10" y1="555.00" x2="187.80" y2="555.00" stroke="#333" stroke-width="1.25"/>
<rect x="183.36" y="551.51" width="1.17" height="1.17" fill="#1a1a1a"/>
<line x1="218.00" y1="508.80" x2="227.50" y2="508.80" stroke="#333" stroke-width="1.25"/>
<rect x="219.66" y="505.32" width="1.17" height="1.17" fill="#1a1a1a"/>
<rect x="222.16" y="505.32" width="1.17" height="1.17" fill="#1a1a1a"/>
<rect x="224.66" y="505.32" width="1.17" height="1.17" fill="#1a1a1a"/>
<line x1="226.00" y1="532.00" x2="234.00" y2="532.00" stroke="#333" stroke-width="1.25"/>
<rect x="229.41" y="528.51" width="1.17" height="1.17" fill="#1a1a1a"/>
<line x1="208.60" y1="558.00" x2="216.30" y2="558.00" stroke="#333" stroke-width="1.25"/>
<rect x="211.86" y="554.51" width="1.17" height="1.17" fill="#1a1a1a"/>
<line x1="246.50" y1="508.80" x2="256.00" y2="508.80" stroke="#333" stroke-width="1.25"/>
<rect x="248.16" y="505.32" width="1.17" height="1.17" fill="#1a1a1a"/>
<rect x="250.66" y="505.32" width="1.17" height="1.17" fill="#1a1a1a"/>
<rect x="253.16" y="505.32" width="1.17" height="1.17" fill="#1a1a1a"/>
<line x1="254.50" y1="530.50" x2="262.50" y2="530.50" stroke="#333" stroke-width="1.25"/>
<rect x="255.41" y="527.01" width="1.17" height="1.17" fill="#1a1a1a"/>
<rect x="257.92" y="527.01" width="1.17" height="1.17" fill="#1a1a1a"/>
<rect x="260.42" y="527.01" width="1.17" height="1.17" fill="#1a1a1a"/>
<line x1="237.10" y1="549.00" x2="244.80" y2="549.00" stroke="#333" stroke-width="1.25"/>
<rect x="240.36" y="545.51" width="1.17" height="1.17" fill="#1a1a1a"/>
<line x1="275.00" y1="508.80" x2="284.50" y2="508.80" stroke="#333" stroke-width="1.25"/>
<rect x="276.67" y="505.32" width="1.17" height="1.17" fill="#1a1a1a"/>
<rect x="279.17" y="505.32" width="1.17" height="1.17" fill="#1a1a1a"/>
<rect x="281.67" y="505.32" width="1.17" height="1.17" fill="#1a1a1a"/>
<line x1="283.00" y1="514.00" x2="291.00" y2="514.00" stroke="#333" stroke-width="1.25"/>
<rect x="283.92" y="510.52" width="1.17" height="1.17" fill="#1a1a1a"/>
<rect x="286.42" y="510.52" width="1.17" height="1.17" fill="#1a1a1a"/>
<rect x="288.92" y="510.52" width="1.17" height="1.17" fill="#1a1a1a"/>
<line x1="265.60" y1="558.00" x2="273.30" y2="558.00" stroke="#333" stroke-width="1.25"/>
<rect x="268.87" y="554.51" width="1.17" height="1.17" fill="#1a1a1a"/>
<line x1="303.50" y1="508.80" x2="313.00" y2="508.80" stroke="#333" stroke-width="1.25"/>
<rect x="305.17" y="505.32" width="1.17" height="1.17" fill="#1a1a1a"/>
<rect x="307.67" y="505.32" width="1.17" height="1.17" fill="#1a1a1a"/>
<rect x="310.17" y="505.32" width="1.17" height="1.17" fill="#1a1a1a"/>
<line x1="311.50" y1="515.00" x2="319.50" y2="515.00" stroke="#333" stroke-width="1.25"/>
<rect x="312.42" y="511.52" width="1.17" height="1.17" fill="#1a1a1a"/>
<rect x="314.92" y="511.52" width="1.17" height="1.17" fill="#1a1a1a"/>
<rect x="317.42" y="511.52" width="1.17" height="1.17" fill="#1a1a1a"/>
<line x1="294.10" y1="556.00" x2="301.80" y2="556.00" stroke="#333" stroke-width="1.25"/>
<rect x="297.37" y="552.51" width="1.17" height="1.17" fill="#1a1a1a"/>
<line x1="64.90" y1="513.50" x2="74.90" y2="513.50" stroke="#333" stroke-width="1.25"/>
<rect x="66.82" y="510.02" width="1.17" height="1.17" fill="#1a1a1a"/>
<rect x="69.32" y="510.02" width="1.17" height="1.17" fill="#1a1a1a"/>
<rect x="71.82" y="510.02" width="1.17" height="1.17" fill="#1a1a1a"/>
<line x1="93.40" y1="513.50" x2="103.40" y2="513.50" stroke="#333" stroke-width="1.25"/>
<rect x="95.32" y="510.02" width="1.17" height="1.17" fill="#1a1a1a"/>
<rect x="97.82" y="510.02" width="1.17" height="1.17" fill="#1a1a1a"/>
<rect x="100.32" y="510.02" width="1.17" height="1.17" fill="#1a1a1a"/>
<line x1="121.90" y1="513.50" x2="131.90" y2="513.50" stroke="#333" stroke-width="1.25"/>
<rect x="123.82" y="510.02" width="1.17" height="1.17" fill="#1a1a1a"/>
<rect x="126.32" y="510.02" width="1.17" height="1.17" fill="#1a1a1a"/>
<rect x="128.81" y="510.02" width="1.17" height="1.17" fill="#1a1a1a"/>
<line x1="150.40" y1="513.50" x2="160.40" y2="513.50" stroke="#333" stroke-width="1.25"/>
<rect x="152.31" y="510.02" width="1.17" height="1.17" fill="#1a1a1a"/>
<rect x="154.81" y="510.02" width="1.17" height="1.17" fill="#1a1a1a"/>
<rect x="157.31" y="510.02" width="1.17" height="1.17" fill="#1a1a1a"/>
<line x1="178.90" y1="513.50" x2="188.90" y2="513.50" stroke="#333" stroke-width="1.25"/>
<rect x="180.81" y="510.02" width="1.17" height="1.17" fill="#1a1a1a"/>
<rect x="183.31" y="510.02" width="1.17" height="1.17" fill="#1a1a1a"/>
<rect x="185.81" y="510.02" width="1.17" height="1.17" fill="#1a1a1a"/>
<line x1="207.40" y1="513.50" x2="217.40" y2="513.50" stroke="#333" stroke-width="1.25"/>
<rect x="209.31" y="510.02" width="1.17" height="1.17" fill="#1a1a1a"/>
<rect x="211.81" y="510.02" width="1.17" height="1.17" fill="#1a1a1a"/>
<rect x="214.31" y="510.02" width="1.17" height="1.17" fill="#1a1a1a"/>
<line x1="235.90" y1="513.50" x2="245.90" y2="513.50" stroke="#333" stroke-width="1.25"/>
<rect x="237.81" y="510.02" width="1.17" height="1.17" fill="#1a1a1a"/>
<rect x="240.31" y="510.02" width="1.17" height="1.17" fill="#1a1a1a"/>
<rect x="242.81" y="510.02" width="1.17" height="1.17" fill="#1a1a1a"/>
<line x1="264.40" y1="513.50" x2="274.40" y2="513.50" stroke="#333" stroke-width="1.25"/>
<rect x="266.31" y="510.02" width="1.17" height="1.17" fill="#1a1a1a"/>
<rect x="268.81" y="510.02" width="1.17" height="1.17" fill="#1a1a1a"/>
<rect x="271.31" y="510.02" width="1.17" height="1.17" fill="#1a1a1a"/>
<line x1="292.90" y1="513.50" x2="302.90" y2="513.50" stroke="#333" stroke-width="1.25"/>
<rect x="294.81" y="510.02" width="1.17" height="1.17" fill="#1a1a1a"/>
<rect x="297.31" y="510.02" width="1.17" height="1.17" fill="#1a1a1a"/>
<rect x="299.81" y="510.02" width="1.17" height="1.17" fill="#1a1a1a"/>
<text x="36.00" y="598.20" font-size="6.8" stroke="#1a1a1a" stroke-width="0.14">Spleen</text>
<line x1="37.30" y1="602.40" x2="37.30" y2="663.90" stroke="#1a1a1a" stroke-width="1.05"/>
<line x1="34.30" y1="663.40" x2="37.30" y2="663.40" stroke="#1a1a1a" stroke-width="0.9"/>
<text x="31.50" y="665.67" font-size="6.3" text-anchor="end" stroke="#1a1a1a" stroke-width="0.13">0</text>
<line x1="34.30" y1="651.80" x2="37.30" y2="651.80" stroke="#1a1a1a" stroke-width="0.9"/>
<text x="31.50" y="654.07" font-size="6.3" text-anchor="end" stroke="#1a1a1a" stroke-width="0.13">20</text>
<line x1="34.30" y1="640.20" x2="37.30" y2="640.20" stroke="#1a1a1a" stroke-width="0.9"/>
<text x="31.50" y="642.47" font-size="6.3" text-anchor="end" stroke="#1a1a1a" stroke-width="0.13">40</text>
<line x1="34.30" y1="628.60" x2="37.30" y2="628.60" stroke="#1a1a1a" stroke-width="0.9"/>
<text x="31.50" y="630.87" font-size="6.3" text-anchor="end" stroke="#1a1a1a" stroke-width="0.13">60</text>
<line x1="34.30" y1="617.00" x2="37.30" y2="617.00" stroke="#1a1a1a" stroke-width="0.9"/>
<text x="31.50" y="619.27" font-size="6.3" text-anchor="end" stroke="#1a1a1a" stroke-width="0.13">80</text>
<line x1="34.30" y1="605.40" x2="37.30" y2="605.40" stroke="#1a1a1a" stroke-width="0.9"/>
<text x="31.50" y="607.67" font-size="6.3" text-anchor="end" stroke="#1a1a1a" stroke-width="0.13">100</text>
<line x1="34.30" y1="663.40" x2="321.00" y2="663.40" stroke="#1a1a1a" stroke-width="1.1"/>
<line x1="49.90" y1="663.40" x2="49.90" y2="665.40" stroke="#1a1a1a" stroke-width="0.8"/>
<text x="50.10" y="676.00" font-size="6.6" text-anchor="middle" stroke="#1a1a1a" stroke-width="0.13">LT-HSC</text>
<line x1="40.05" y1="658.18" x2="40.05" y2="659.34" stroke="#1a1a1a" stroke-width="0.7"/>
<line x1="39.10" y1="658.18" x2="41.00" y2="658.18" stroke="#1a1a1a" stroke-width="0.7"/>
<rect x="38.80" y="659.74" width="2.50" height="3.66" fill="#c4c4c6" stroke="#1a1a1a" stroke-width="0.8"/>
<rect x="42.30" y="663.22" width="2.50" height="0.30" fill="white" stroke="#1a1a1a" stroke-width="0.8"/>
<line x1="48.35" y1="649.48" x2="48.35" y2="651.22" stroke="#3c4ca0" stroke-width="0.7"/>
<line x1="47.40" y1="649.48" x2="49.30" y2="649.48" stroke="#3c4ca0" stroke-width="0.7"/>
<rect x="46.70" y="651.22" width="3.30" height="12.18" fill="#3c4ca0" stroke="none" stroke-width="1"/>
<rect x="50.60" y="663.51" width="2.50" height="0.30" fill="white" stroke="#3c4ca0" stroke-width="0.8"/>
<line x1="56.35" y1="630.34" x2="56.35" y2="640.20" stroke="#d42513" stroke-width="0.7"/>
<line x1="55.40" y1="630.34" x2="57.30" y2="630.34" stroke="#d42513" stroke-width="0.7"/>
<rect x="54.70" y="640.20" width="3.30" height="23.20" fill="#d42513" stroke="none" stroke-width="1"/>
<rect x="58.60" y="663.51" width="2.50" height="0.30" fill="white" stroke="#d42513" stroke-width="0.8"/>
<line x1="78.40" y1="663.40" x2="78.40" y2="665.40" stroke="#1a1a1a" stroke-width="0.8"/>
<text x="78.60" y="676.00" font-size="6.6" text-anchor="middle" stroke="#1a1a1a" stroke-width="0.13">LSK</text>
<line x1="68.55" y1="652.96" x2="68.55" y2="657.02" stroke="#1a1a1a" stroke-width="0.7"/>
<line x1="67.60" y1="652.96" x2="69.50" y2="652.96" stroke="#1a1a1a" stroke-width="0.7"/>
<rect x="67.30" y="657.42" width="2.50" height="5.98" fill="#c4c4c6" stroke="#1a1a1a" stroke-width="0.8"/>
<rect x="70.80" y="663.51" width="2.50" height="0.30" fill="white" stroke="#1a1a1a" stroke-width="0.8"/>
<line x1="76.85" y1="625.70" x2="76.85" y2="633.82" stroke="#3c4ca0" stroke-width="0.7"/>
<line x1="75.90" y1="625.70" x2="77.80" y2="625.70" stroke="#3c4ca0" stroke-width="0.7"/>
<rect x="75.20" y="633.82" width="3.30" height="29.58" fill="#3c4ca0" stroke="none" stroke-width="1"/>
<rect x="79.10" y="663.51" width="2.50" height="0.30" fill="white" stroke="#3c4ca0" stroke-width="0.8"/>
<line x1="84.85" y1="633.82" x2="84.85" y2="636.72" stroke="#d42513" stroke-width="0.7"/>
<line x1="83.90" y1="633.82" x2="85.80" y2="633.82" stroke="#d42513" stroke-width="0.7"/>
<rect x="83.20" y="636.72" width="3.30" height="26.68" fill="#d42513" stroke="none" stroke-width="1"/>
<line x1="88.35" y1="659.92" x2="88.35" y2="661.08" stroke="#d42513" stroke-width="0.7"/>
<line x1="87.40" y1="659.92" x2="89.30" y2="659.92" stroke="#d42513" stroke-width="0.7"/>
<rect x="87.10" y="661.48" width="2.50" height="1.92" fill="white" stroke="#d42513" stroke-width="0.8"/>
<line x1="106.90" y1="663.40" x2="106.90" y2="665.40" stroke="#1a1a1a" stroke-width="0.8"/>
<text x="107.10" y="676.00" font-size="6.6" text-anchor="middle" stroke="#1a1a1a" stroke-width="0.13">CMP</text>
<line x1="97.05" y1="652.96" x2="97.05" y2="655.86" stroke="#1a1a1a" stroke-width="0.7"/>
<line x1="96.10" y1="652.96" x2="98.00" y2="652.96" stroke="#1a1a1a" stroke-width="0.7"/>
<rect x="95.80" y="656.26" width="2.50" height="7.14" fill="#c4c4c6" stroke="#1a1a1a" stroke-width="0.8"/>
<rect x="99.30" y="663.22" width="2.50" height="0.30" fill="white" stroke="#1a1a1a" stroke-width="0.8"/>
<line x1="105.35" y1="636.72" x2="105.35" y2="639.04" stroke="#3c4ca0" stroke-width="0.7"/>
<line x1="104.40" y1="636.72" x2="106.30" y2="636.72" stroke="#3c4ca0" stroke-width="0.7"/>
<rect x="103.70" y="639.04" width="3.30" height="24.36" fill="#3c4ca0" stroke="none" stroke-width="1"/>
<rect x="107.60" y="663.51" width="2.50" height="0.30" fill="white" stroke="#3c4ca0" stroke-width="0.8"/>
<line x1="113.35" y1="640.20" x2="113.35" y2="643.10" stroke="#d42513" stroke-width="0.7"/>
<line x1="112.40" y1="640.20" x2="114.30" y2="640.20" stroke="#d42513" stroke-width="0.7"/>
<rect x="111.70" y="643.10" width="3.30" height="20.30" fill="#d42513" stroke="none" stroke-width="1"/>
<rect x="115.60" y="663.22" width="2.50" height="0.30" fill="white" stroke="#d42513" stroke-width="0.8"/>
<line x1="135.40" y1="663.40" x2="135.40" y2="665.40" stroke="#1a1a1a" stroke-width="0.8"/>
<text x="135.60" y="676.00" font-size="6.6" text-anchor="middle" stroke="#1a1a1a" stroke-width="0.13">GMP</text>
<line x1="125.55" y1="657.60" x2="125.55" y2="659.34" stroke="#1a1a1a" stroke-width="0.7"/>
<line x1="124.60" y1="657.60" x2="126.50" y2="657.60" stroke="#1a1a1a" stroke-width="0.7"/>
<rect x="124.30" y="659.74" width="2.50" height="3.66" fill="#c4c4c6" stroke="#1a1a1a" stroke-width="0.8"/>
<rect x="127.80" y="663.51" width="2.50" height="0.30" fill="white" stroke="#1a1a1a" stroke-width="0.8"/>
<line x1="133.85" y1="640.20" x2="133.85" y2="641.36" stroke="#3c4ca0" stroke-width="0.7"/>
<line x1="132.90" y1="640.20" x2="134.80" y2="640.20" stroke="#3c4ca0" stroke-width="0.7"/>
<rect x="132.20" y="641.36" width="3.30" height="22.04" fill="#3c4ca0" stroke="none" stroke-width="1"/>
<rect x="136.10" y="663.51" width="2.50" height="0.30" fill="white" stroke="#3c4ca0" stroke-width="0.8"/>
<line x1="141.85" y1="650.06" x2="141.85" y2="653.54" stroke="#d42513" stroke-width="0.7"/>
<line x1="140.90" y1="650.06" x2="142.80" y2="650.06" stroke="#d42513" stroke-width="0.7"/>
<rect x="140.20" y="653.54" width="3.30" height="9.86" fill="#d42513" stroke="none" stroke-width="1"/>
<rect x="144.10" y="663.22" width="2.50" height="0.30" fill="white" stroke="#d42513" stroke-width="0.8"/>
<line x1="163.90" y1="663.40" x2="163.90" y2="665.40" stroke="#1a1a1a" stroke-width="0.8"/>
<text x="164.10" y="676.00" font-size="6.6" text-anchor="middle" stroke="#1a1a1a" stroke-width="0.13">MEP</text>
<line x1="154.05" y1="651.22" x2="154.05" y2="655.28" stroke="#1a1a1a" stroke-width="0.7"/>
<line x1="153.10" y1="651.22" x2="155.00" y2="651.22" stroke="#1a1a1a" stroke-width="0.7"/>
<rect x="152.80" y="655.68" width="2.50" height="7.72" fill="#c4c4c6" stroke="#1a1a1a" stroke-width="0.8"/>
<rect x="156.30" y="663.51" width="2.50" height="0.30" fill="white" stroke="#1a1a1a" stroke-width="0.8"/>
<line x1="162.35" y1="614.68" x2="162.35" y2="615.84" stroke="#3c4ca0" stroke-width="0.7"/>
<line x1="161.40" y1="614.68" x2="163.30" y2="614.68" stroke="#3c4ca0" stroke-width="0.7"/>
<rect x="160.70" y="615.84" width="3.30" height="47.56" fill="#3c4ca0" stroke="none" stroke-width="1"/>
<rect x="164.60" y="663.51" width="2.50" height="0.30" fill="white" stroke="#3c4ca0" stroke-width="0.8"/>
<line x1="170.35" y1="611.20" x2="170.35" y2="613.52" stroke="#d42513" stroke-width="0.7"/>
<line x1="169.40" y1="611.20" x2="171.30" y2="611.20" stroke="#d42513" stroke-width="0.7"/>
<rect x="168.70" y="613.52" width="3.30" height="49.88" fill="#d42513" stroke="none" stroke-width="1"/>
<rect x="172.60" y="663.22" width="2.50" height="0.30" fill="white" stroke="#d42513" stroke-width="0.8"/>
<line x1="192.40" y1="663.40" x2="192.40" y2="665.40" stroke="#1a1a1a" stroke-width="0.8"/>
<text x="192.60" y="676.00" font-size="6.6" text-anchor="middle" stroke="#1a1a1a" stroke-width="0.13">MyP</text>
<line x1="182.55" y1="646.00" x2="182.55" y2="648.90" stroke="#1a1a1a" stroke-width="0.7"/>
<line x1="181.60" y1="646.00" x2="183.50" y2="646.00" stroke="#1a1a1a" stroke-width="0.7"/>
<rect x="181.30" y="649.30" width="2.50" height="14.10" fill="#c4c4c6" stroke="#1a1a1a" stroke-width="0.8"/>
<line x1="186.05" y1="656.44" x2="186.05" y2="657.60" stroke="#1a1a1a" stroke-width="0.7"/>
<line x1="185.10" y1="656.44" x2="187.00" y2="656.44" stroke="#1a1a1a" stroke-width="0.7"/>
<rect x="184.80" y="658.00" width="2.50" height="5.40" fill="white" stroke="#1a1a1a" stroke-width="0.8"/>
<line x1="190.85" y1="611.20" x2="190.85" y2="612.36" stroke="#3c4ca0" stroke-width="0.7"/>
<line x1="189.90" y1="611.20" x2="191.80" y2="611.20" stroke="#3c4ca0" stroke-width="0.7"/>
<rect x="189.20" y="612.36" width="3.30" height="51.04" fill="#3c4ca0" stroke="none" stroke-width="1"/>
<rect x="193.10" y="663.22" width="2.50" height="0.30" fill="white" stroke="#3c4ca0" stroke-width="0.8"/>
<line x1="198.85" y1="634.40" x2="198.85" y2="636.14" stroke="#d42513" stroke-width="0.7"/>
<line x1="197.90" y1="634.40" x2="199.80" y2="634.40" stroke="#d42513" stroke-width="0.7"/>
<rect x="197.20" y="636.14" width="3.30" height="27.26" fill="#d42513" stroke="none" stroke-width="1"/>
<line x1="202.35" y1="657.02" x2="202.35" y2="658.18" stroke="#d42513" stroke-width="0.7"/>
<line x1="201.40" y1="657.02" x2="203.30" y2="657.02" stroke="#d42513" stroke-width="0.7"/>
<rect x="201.10" y="658.58" width="2.50" height="4.82" fill="white" stroke="#d42513" stroke-width="0.8"/>
<line x1="220.90" y1="663.40" x2="220.90" y2="665.40" stroke="#1a1a1a" stroke-width="0.8"/>
<text x="221.10" y="676.00" font-size="6.6" text-anchor="middle" stroke="#1a1a1a" stroke-width="0.13">Pre-Meg-E</text>
<line x1="211.05" y1="654.12" x2="211.05" y2="657.02" stroke="#1a1a1a" stroke-width="0.7"/>
<line x1="210.10" y1="654.12" x2="212.00" y2="654.12" stroke="#1a1a1a" stroke-width="0.7"/>
<rect x="209.80" y="657.42" width="2.50" height="5.98" fill="#c4c4c6" stroke="#1a1a1a" stroke-width="0.8"/>
<rect x="213.30" y="663.51" width="2.50" height="0.30" fill="white" stroke="#1a1a1a" stroke-width="0.8"/>
<line x1="219.35" y1="631.50" x2="219.35" y2="637.30" stroke="#3c4ca0" stroke-width="0.7"/>
<line x1="218.40" y1="631.50" x2="220.30" y2="631.50" stroke="#3c4ca0" stroke-width="0.7"/>
<rect x="217.70" y="637.30" width="3.30" height="26.10" fill="#3c4ca0" stroke="none" stroke-width="1"/>
<rect x="221.60" y="663.51" width="2.50" height="0.30" fill="white" stroke="#3c4ca0" stroke-width="0.8"/>
<line x1="227.35" y1="619.32" x2="227.35" y2="622.80" stroke="#d42513" stroke-width="0.7"/>
<line x1="226.40" y1="619.32" x2="228.30" y2="619.32" stroke="#d42513" stroke-width="0.7"/>
<rect x="225.70" y="622.80" width="3.30" height="40.60" fill="#d42513" stroke="none" stroke-width="1"/>
<rect x="229.60" y="663.22" width="2.50" height="0.30" fill="white" stroke="#d42513" stroke-width="0.8"/>
<line x1="249.40" y1="663.40" x2="249.40" y2="665.40" stroke="#1a1a1a" stroke-width="0.8"/>
<text x="249.60" y="676.00" font-size="6.6" text-anchor="middle" stroke="#1a1a1a" stroke-width="0.13">MkP</text>
<line x1="239.55" y1="643.68" x2="239.55" y2="648.32" stroke="#1a1a1a" stroke-width="0.7"/>
<line x1="238.60" y1="643.68" x2="240.50" y2="643.68" stroke="#1a1a1a" stroke-width="0.7"/>
<rect x="238.30" y="648.72" width="2.50" height="14.68" fill="#c4c4c6" stroke="#1a1a1a" stroke-width="0.8"/>
<rect x="241.80" y="663.51" width="2.50" height="0.30" fill="white" stroke="#1a1a1a" stroke-width="0.8"/>
<line x1="247.85" y1="620.48" x2="247.85" y2="623.96" stroke="#3c4ca0" stroke-width="0.7"/>
<line x1="246.90" y1="620.48" x2="248.80" y2="620.48" stroke="#3c4ca0" stroke-width="0.7"/>
<rect x="246.20" y="623.96" width="3.30" height="39.44" fill="#3c4ca0" stroke="none" stroke-width="1"/>
<rect x="250.10" y="663.51" width="2.50" height="0.30" fill="white" stroke="#3c4ca0" stroke-width="0.8"/>
<line x1="255.85" y1="618.74" x2="255.85" y2="622.22" stroke="#d42513" stroke-width="0.7"/>
<line x1="254.90" y1="618.74" x2="256.80" y2="618.74" stroke="#d42513" stroke-width="0.7"/>
<rect x="254.20" y="622.22" width="3.30" height="41.18" fill="#d42513" stroke="none" stroke-width="1"/>
<line x1="259.35" y1="659.34" x2="259.35" y2="660.50" stroke="#d42513" stroke-width="0.7"/>
<line x1="258.40" y1="659.34" x2="260.30" y2="659.34" stroke="#d42513" stroke-width="0.7"/>
<rect x="258.10" y="660.90" width="2.50" height="2.50" fill="white" stroke="#d42513" stroke-width="0.8"/>
<line x1="277.90" y1="663.40" x2="277.90" y2="665.40" stroke="#1a1a1a" stroke-width="0.8"/>
<text x="278.10" y="676.00" font-size="6.6" text-anchor="middle" stroke="#1a1a1a" stroke-width="0.13">Pre-CFU-E</text>
<line x1="268.05" y1="652.96" x2="268.05" y2="655.86" stroke="#1a1a1a" stroke-width="0.7"/>
<line x1="267.10" y1="652.96" x2="269.00" y2="652.96" stroke="#1a1a1a" stroke-width="0.7"/>
<rect x="266.80" y="656.26" width="2.50" height="7.14" fill="#c4c4c6" stroke="#1a1a1a" stroke-width="0.8"/>
<rect x="270.30" y="663.51" width="2.50" height="0.30" fill="white" stroke="#1a1a1a" stroke-width="0.8"/>
<line x1="276.35" y1="611.78" x2="276.35" y2="614.10" stroke="#3c4ca0" stroke-width="0.7"/>
<line x1="275.40" y1="611.78" x2="277.30" y2="611.78" stroke="#3c4ca0" stroke-width="0.7"/>
<rect x="274.70" y="614.10" width="3.30" height="49.30" fill="#3c4ca0" stroke="none" stroke-width="1"/>
<rect x="278.60" y="662.64" width="2.50" height="0.76" fill="white" stroke="#3c4ca0" stroke-width="0.8"/>
<line x1="284.35" y1="606.56" x2="284.35" y2="607.14" stroke="#d42513" stroke-width="0.7"/>
<line x1="283.40" y1="606.56" x2="285.30" y2="606.56" stroke="#d42513" stroke-width="0.7"/>
<rect x="282.70" y="607.14" width="3.30" height="56.26" fill="#d42513" stroke="none" stroke-width="1"/>
<rect x="286.60" y="663.22" width="2.50" height="0.30" fill="white" stroke="#d42513" stroke-width="0.8"/>
<line x1="306.40" y1="663.40" x2="306.40" y2="665.40" stroke="#1a1a1a" stroke-width="0.8"/>
<text x="306.60" y="676.00" font-size="6.6" text-anchor="middle" stroke="#1a1a1a" stroke-width="0.13">CFU-E</text>
<line x1="296.55" y1="653.54" x2="296.55" y2="655.86" stroke="#1a1a1a" stroke-width="0.7"/>
<line x1="295.60" y1="653.54" x2="297.50" y2="653.54" stroke="#1a1a1a" stroke-width="0.7"/>
<rect x="295.30" y="656.26" width="2.50" height="7.14" fill="#c4c4c6" stroke="#1a1a1a" stroke-width="0.8"/>
<rect x="298.80" y="663.51" width="2.50" height="0.30" fill="white" stroke="#1a1a1a" stroke-width="0.8"/>
<line x1="304.85" y1="608.30" x2="304.85" y2="609.46" stroke="#3c4ca0" stroke-width="0.7"/>
<line x1="303.90" y1="608.30" x2="305.80" y2="608.30" stroke="#3c4ca0" stroke-width="0.7"/>
<rect x="303.20" y="609.46" width="3.30" height="53.94" fill="#3c4ca0" stroke="none" stroke-width="1"/>
<rect x="307.10" y="663.51" width="2.50" height="0.30" fill="white" stroke="#3c4ca0" stroke-width="0.8"/>
<line x1="312.85" y1="607.14" x2="312.85" y2="608.30" stroke="#d42513" stroke-width="0.7"/>
<line x1="311.90" y1="607.14" x2="313.80" y2="607.14" stroke="#d42513" stroke-width="0.7"/>
<rect x="311.20" y="608.30" width="3.30" height="55.10" fill="#d42513" stroke="none" stroke-width="1"/>
<rect x="315.10" y="663.22" width="2.50" height="0.30" fill="white" stroke="#d42513" stroke-width="0.8"/>
<line x1="55.60" y1="625.00" x2="63.70" y2="625.00" stroke="#333" stroke-width="1.25"/>
<rect x="56.57" y="621.51" width="1.17" height="1.17" fill="#1a1a1a"/>
<rect x="59.07" y="621.51" width="1.17" height="1.17" fill="#1a1a1a"/>
<rect x="61.57" y="621.51" width="1.17" height="1.17" fill="#1a1a1a"/>
<line x1="76.20" y1="621.60" x2="84.30" y2="621.60" stroke="#333" stroke-width="1.25"/>
<rect x="77.17" y="618.12" width="1.17" height="1.17" fill="#1a1a1a"/>
<rect x="79.67" y="618.12" width="1.17" height="1.17" fill="#1a1a1a"/>
<rect x="82.17" y="618.12" width="1.17" height="1.17" fill="#1a1a1a"/>
<line x1="84.30" y1="631.70" x2="92.20" y2="631.70" stroke="#333" stroke-width="1.25"/>
<rect x="85.17" y="628.22" width="1.17" height="1.17" fill="#1a1a1a"/>
<rect x="87.67" y="628.22" width="1.17" height="1.17" fill="#1a1a1a"/>
<rect x="90.17" y="628.22" width="1.17" height="1.17" fill="#1a1a1a"/>
<line x1="104.00" y1="632.40" x2="111.80" y2="632.40" stroke="#333" stroke-width="1.25"/>
<rect x="104.82" y="628.91" width="1.17" height="1.17" fill="#1a1a1a"/>
<rect x="107.32" y="628.91" width="1.17" height="1.17" fill="#1a1a1a"/>
<rect x="109.82" y="628.91" width="1.17" height="1.17" fill="#1a1a1a"/>
<line x1="112.80" y1="636.30" x2="120.30" y2="636.30" stroke="#333" stroke-width="1.25"/>
<rect x="113.47" y="632.81" width="1.17" height="1.17" fill="#1a1a1a"/>
<rect x="115.97" y="632.81" width="1.17" height="1.17" fill="#1a1a1a"/>
<rect x="118.47" y="632.81" width="1.17" height="1.17" fill="#1a1a1a"/>
<line x1="133.40" y1="637.30" x2="141.20" y2="637.30" stroke="#333" stroke-width="1.25"/>
<rect x="134.22" y="633.81" width="1.17" height="1.17" fill="#1a1a1a"/>
<rect x="136.72" y="633.81" width="1.17" height="1.17" fill="#1a1a1a"/>
<rect x="139.22" y="633.81" width="1.17" height="1.17" fill="#1a1a1a"/>
<line x1="159.70" y1="609.20" x2="167.30" y2="609.20" stroke="#333" stroke-width="1.25"/>
<rect x="160.41" y="605.72" width="1.17" height="1.17" fill="#1a1a1a"/>
<rect x="162.91" y="605.72" width="1.17" height="1.17" fill="#1a1a1a"/>
<rect x="165.41" y="605.72" width="1.17" height="1.17" fill="#1a1a1a"/>
<line x1="170.00" y1="604.00" x2="178.40" y2="604.00" stroke="#333" stroke-width="1.25"/>
<rect x="171.11" y="600.51" width="1.17" height="1.17" fill="#1a1a1a"/>
<rect x="173.61" y="600.51" width="1.17" height="1.17" fill="#1a1a1a"/>
<rect x="176.11" y="600.51" width="1.17" height="1.17" fill="#1a1a1a"/>
<line x1="188.80" y1="604.00" x2="196.70" y2="604.00" stroke="#333" stroke-width="1.25"/>
<rect x="189.66" y="600.51" width="1.17" height="1.17" fill="#1a1a1a"/>
<rect x="192.16" y="600.51" width="1.17" height="1.17" fill="#1a1a1a"/>
<rect x="194.66" y="600.51" width="1.17" height="1.17" fill="#1a1a1a"/>
<line x1="196.70" y1="628.30" x2="205.40" y2="628.30" stroke="#333" stroke-width="1.25"/>
<rect x="197.97" y="624.81" width="1.17" height="1.17" fill="#1a1a1a"/>
<rect x="200.47" y="624.81" width="1.17" height="1.17" fill="#1a1a1a"/>
<rect x="202.97" y="624.81" width="1.17" height="1.17" fill="#1a1a1a"/>
<line x1="217.50" y1="628.30" x2="226.20" y2="628.30" stroke="#333" stroke-width="1.25"/>
<rect x="218.76" y="624.81" width="1.17" height="1.17" fill="#1a1a1a"/>
<rect x="221.26" y="624.81" width="1.17" height="1.17" fill="#1a1a1a"/>
<rect x="223.76" y="624.81" width="1.17" height="1.17" fill="#1a1a1a"/>
<line x1="226.20" y1="614.40" x2="234.80" y2="614.40" stroke="#333" stroke-width="1.25"/>
<rect x="227.41" y="610.91" width="1.17" height="1.17" fill="#1a1a1a"/>
<rect x="229.91" y="610.91" width="1.17" height="1.17" fill="#1a1a1a"/>
<rect x="232.41" y="610.91" width="1.17" height="1.17" fill="#1a1a1a"/>
<line x1="237.20" y1="638.70" x2="244.20" y2="638.70" stroke="#333" stroke-width="1.25"/>
<rect x="238.86" y="635.22" width="1.17" height="1.17" fill="#1a1a1a"/>
<rect x="241.36" y="635.22" width="1.17" height="1.17" fill="#1a1a1a"/>
<line x1="245.20" y1="618.60" x2="253.80" y2="618.60" stroke="#333" stroke-width="1.25"/>
<rect x="246.41" y="615.12" width="1.17" height="1.17" fill="#1a1a1a"/>
<rect x="248.91" y="615.12" width="1.17" height="1.17" fill="#1a1a1a"/>
<rect x="251.41" y="615.12" width="1.17" height="1.17" fill="#1a1a1a"/>
<line x1="254.50" y1="612.70" x2="263.50" y2="612.70" stroke="#333" stroke-width="1.25"/>
<rect x="255.91" y="609.22" width="1.17" height="1.17" fill="#1a1a1a"/>
<rect x="258.42" y="609.22" width="1.17" height="1.17" fill="#1a1a1a"/>
<rect x="260.92" y="609.22" width="1.17" height="1.17" fill="#1a1a1a"/>
<line x1="266.00" y1="646.30" x2="274.00" y2="646.30" stroke="#333" stroke-width="1.25"/>
<rect x="268.17" y="642.81" width="1.17" height="1.17" fill="#1a1a1a"/>
<rect x="270.67" y="642.81" width="1.17" height="1.17" fill="#1a1a1a"/>
<line x1="273.60" y1="604.00" x2="281.50" y2="604.00" stroke="#333" stroke-width="1.25"/>
<rect x="274.47" y="600.51" width="1.17" height="1.17" fill="#1a1a1a"/>
<rect x="276.97" y="600.51" width="1.17" height="1.17" fill="#1a1a1a"/>
<rect x="279.47" y="600.51" width="1.17" height="1.17" fill="#1a1a1a"/>
<line x1="283.30" y1="600.60" x2="292.00" y2="600.60" stroke="#333" stroke-width="1.25"/>
<rect x="284.56" y="597.12" width="1.17" height="1.17" fill="#1a1a1a"/>
<rect x="287.06" y="597.12" width="1.17" height="1.17" fill="#1a1a1a"/>
<rect x="289.56" y="597.12" width="1.17" height="1.17" fill="#1a1a1a"/>
<line x1="294.70" y1="646.30" x2="302.30" y2="646.30" stroke="#333" stroke-width="1.25"/>
<rect x="296.67" y="642.81" width="1.17" height="1.17" fill="#1a1a1a"/>
<rect x="299.17" y="642.81" width="1.17" height="1.17" fill="#1a1a1a"/>
<line x1="302.30" y1="604.00" x2="310.00" y2="604.00" stroke="#333" stroke-width="1.25"/>
<rect x="303.06" y="600.51" width="1.17" height="1.17" fill="#1a1a1a"/>
<rect x="305.56" y="600.51" width="1.17" height="1.17" fill="#1a1a1a"/>
<rect x="308.06" y="600.51" width="1.17" height="1.17" fill="#1a1a1a"/>
<line x1="311.60" y1="602.30" x2="319.60" y2="602.30" stroke="#333" stroke-width="1.25"/>
<rect x="312.52" y="598.81" width="1.17" height="1.17" fill="#1a1a1a"/>
<rect x="315.02" y="598.81" width="1.17" height="1.17" fill="#1a1a1a"/>
<rect x="317.52" y="598.81" width="1.17" height="1.17" fill="#1a1a1a"/>
<text x="0" y="0" font-size="9.2" transform="translate(15.6,539.0) rotate(-90)" text-anchor="middle" textLength="19.8" lengthAdjust="spacingAndGlyphs">% GFP</text>
<text x="0" y="0" font-size="9.0" transform="translate(15.6,632.6) rotate(-90)" text-anchor="middle" textLength="18.8" lengthAdjust="spacingAndGlyphs">% GFP</text>
<text x="343.60" y="470.20" font-size="11.8" font-weight="bold">E</text>
<text x="355.60" y="471.40" font-size="9.0" textLength="80.00" lengthAdjust="spacingAndGlyphs" stroke="#1a1a1a" stroke-width="0.18">Percentages of Epcr</text>
<text x="435.60" y="467.44" font-size="5.94" textLength="10.69" lengthAdjust="spacingAndGlyphs" stroke="#1a1a1a" stroke-width="0.12">hi/lo</text>
<text x="448.74" y="471.40" font-size="9.0" textLength="23.06" lengthAdjust="spacingAndGlyphs" stroke="#1a1a1a" stroke-width="0.18">HSCs</text>
<text x="364.70" y="482.30" font-size="9.0" textLength="56.25" lengthAdjust="spacingAndGlyphs" stroke="#1a1a1a" stroke-width="0.18">within the GFP</text>
<text x="420.95" y="478.34" font-size="5.94" textLength="3.31" lengthAdjust="spacingAndGlyphs" stroke="#1a1a1a" stroke-width="0.12">+</text>
<text x="426.64" y="482.30" font-size="9.0" textLength="34.16" lengthAdjust="spacingAndGlyphs" stroke="#1a1a1a" stroke-width="0.18">LT-HSCs</text>
<text x="367.40" y="493.00" font-size="7.2" text-anchor="middle" stroke="#1a1a1a" stroke-width="0.14">%</text>
<line x1="377.50" y1="500.10" x2="377.50" y2="569.50" stroke="#1a1a1a" stroke-width="1.05"/>
<line x1="374.50" y1="569.00" x2="377.50" y2="569.00" stroke="#1a1a1a" stroke-width="0.9"/>
<text x="371.70" y="571.45" font-size="6.8" text-anchor="end" stroke="#1a1a1a" stroke-width="0.14">0</text>
<line x1="374.50" y1="555.64" x2="377.50" y2="555.64" stroke="#1a1a1a" stroke-width="0.9"/>
<text x="371.70" y="558.09" font-size="6.8" text-anchor="end" stroke="#1a1a1a" stroke-width="0.14">20</text>
<line x1="374.50" y1="542.28" x2="377.50" y2="542.28" stroke="#1a1a1a" stroke-width="0.9"/>
<text x="371.70" y="544.73" font-size="6.8" text-anchor="end" stroke="#1a1a1a" stroke-width="0.14">40</text>
<line x1="374.50" y1="528.92" x2="377.50" y2="528.92" stroke="#1a1a1a" stroke-width="0.9"/>
<text x="371.70" y="531.37" font-size="6.8" text-anchor="end" stroke="#1a1a1a" stroke-width="0.14">60</text>
<line x1="374.50" y1="515.56" x2="377.50" y2="515.56" stroke="#1a1a1a" stroke-width="0.9"/>
<text x="371.70" y="518.01" font-size="6.8" text-anchor="end" stroke="#1a1a1a" stroke-width="0.14">80</text>
<line x1="374.50" y1="502.20" x2="377.50" y2="502.20" stroke="#1a1a1a" stroke-width="0.9"/>
<text x="371.70" y="504.65" font-size="6.8" text-anchor="end" stroke="#1a1a1a" stroke-width="0.14">100</text>
<line x1="375.70" y1="569.00" x2="447.00" y2="569.00" stroke="#1a1a1a" stroke-width="1.1"/>
<line x1="382.75" y1="490.84" x2="382.75" y2="502.20" stroke="#1a1a1a" stroke-width="0.8"/>
<line x1="381.30" y1="490.84" x2="384.20" y2="490.84" stroke="#1a1a1a" stroke-width="0.8"/>
<rect x="380.45" y="502.65" width="5.10" height="50.10" fill="white" stroke="#1a1a1a" stroke-width="0.9"/>
<rect x="380.45" y="552.30" width="5.10" height="16.70" fill="#c4c4c6" stroke="#1a1a1a" stroke-width="0.9"/>
<line x1="382.75" y1="540.94" x2="382.75" y2="552.30" stroke="#1a1a1a" stroke-width="0.7"/>
<line x1="381.50" y1="540.94" x2="384.00" y2="540.94" stroke="#1a1a1a" stroke-width="0.7"/>
<rect x="390.30" y="504.20" width="5.50" height="64.80" fill="#3c4ca0" stroke="none" stroke-width="1"/>
<rect x="390.75" y="502.65" width="4.60" height="2.00" fill="none" stroke="#8a93c9" stroke-width="0.9"/>
<line x1="393.05" y1="500.86" x2="393.05" y2="502.20" stroke="#3c4ca0" stroke-width="0.8"/>
<line x1="403.25" y1="492.85" x2="403.25" y2="502.20" stroke="#d42513" stroke-width="0.8"/>
<line x1="401.80" y1="492.85" x2="404.70" y2="492.85" stroke="#d42513" stroke-width="0.8"/>
<rect x="400.95" y="502.65" width="4.60" height="40.75" fill="white" stroke="#d42513" stroke-width="0.9"/>
<rect x="400.50" y="542.95" width="5.50" height="26.05" fill="#d42513" stroke="none" stroke-width="1"/>
<line x1="403.25" y1="534.26" x2="403.25" y2="542.95" stroke="#d42513" stroke-width="0.7"/>
<line x1="402.00" y1="534.26" x2="404.50" y2="534.26" stroke="#d42513" stroke-width="0.7"/>
<text x="431.00" y="550.50" font-size="6.3" text-anchor="middle" stroke="#1a1a1a" stroke-width="0.13">n.a</text>
<text x="434.60" y="507.70" font-size="6.3" text-anchor="middle" textLength="30.30" lengthAdjust="spacingAndGlyphs" stroke="#1a1a1a" stroke-width="0.13">Recipient:</text>
<rect x="416.40" y="514.30" width="6.20" height="3.00" fill="white" stroke="#1a1a1a" stroke-width="0.8"/>
<rect x="416.40" y="521.50" width="6.20" height="3.00" fill="#c4c4c6" stroke="#1a1a1a" stroke-width="0.8"/>
<rect x="425.00" y="514.30" width="6.20" height="3.00" fill="white" stroke="#3c4ca0" stroke-width="0.8"/>
<rect x="425.00" y="521.50" width="6.20" height="3.00" fill="#3c4ca0" stroke="#3c4ca0" stroke-width="0.8"/>
<rect x="433.60" y="514.30" width="6.20" height="3.00" fill="white" stroke="#d42513" stroke-width="0.8"/>
<rect x="433.60" y="521.50" width="6.20" height="3.00" fill="#d42513" stroke="#d42513" stroke-width="0.8"/>
<text x="443.30" y="518.30" font-size="6.3" textLength="12.95" lengthAdjust="spacingAndGlyphs" stroke="#1a1a1a" stroke-width="0.13">Epcr</text>
<text x="456.25" y="515.53" font-size="4.16" textLength="3.24" lengthAdjust="spacingAndGlyphs" stroke="#1a1a1a" stroke-width="0.08">lo</text>
<text x="443.30" y="525.50" font-size="6.3" textLength="12.95" lengthAdjust="spacingAndGlyphs" stroke="#1a1a1a" stroke-width="0.13">Epcr</text>
<text x="456.25" y="522.73" font-size="4.16" textLength="3.24" lengthAdjust="spacingAndGlyphs" stroke="#1a1a1a" stroke-width="0.08">hi</text>
<text x="353.50" y="579.60" font-size="6.9" textLength="17.90" lengthAdjust="spacingAndGlyphs" stroke="#1a1a1a" stroke-width="0.14">Donor</text>
<text x="354.50" y="588.70" font-size="6.9" textLength="18.00" lengthAdjust="spacingAndGlyphs" stroke="#1a1a1a" stroke-width="0.14">HSCs:</text>
<text x="382.50" y="578.70" font-size="6.5" text-anchor="middle" font-style="italic" stroke="#1a1a1a" stroke-width="0.13">WT</text>
<text x="392.30" y="578.70" font-size="6.5" text-anchor="middle" fill="#3c4ca0" font-style="italic" stroke="#3c4ca0" stroke-width="0.13">VF</text>
<text x="403.70" y="578.70" font-size="6.5" text-anchor="middle" fill="#d42513" font-style="italic" stroke="#d42513" stroke-width="0.13">E12</text>
<text x="420.60" y="578.70" font-size="6.5" text-anchor="middle" font-style="italic" stroke="#1a1a1a" stroke-width="0.13">WT</text>
<text x="430.10" y="578.70" font-size="6.5" text-anchor="middle" fill="#3c4ca0" font-style="italic" stroke="#3c4ca0" stroke-width="0.13">VF</text>
<text x="441.20" y="578.70" font-size="6.5" text-anchor="middle" fill="#d42513" font-style="italic" stroke="#d42513" stroke-width="0.13">E12</text>
<line x1="379.90" y1="582.00" x2="406.30" y2="582.00" stroke="#1a1a1a" stroke-width="0.9"/>
<line x1="417.60" y1="582.00" x2="444.40" y2="582.00" stroke="#1a1a1a" stroke-width="0.9"/>
<text x="385.20" y="590.50" font-size="6.6" textLength="13.84" lengthAdjust="spacingAndGlyphs" stroke="#1a1a1a" stroke-width="0.13">Epcr</text>
<text x="399.04" y="587.60" font-size="4.36" textLength="3.46" lengthAdjust="spacingAndGlyphs" stroke="#1a1a1a" stroke-width="0.09">hi</text>
<text x="422.20" y="590.50" font-size="6.6" textLength="13.52" lengthAdjust="spacingAndGlyphs" stroke="#1a1a1a" stroke-width="0.13">Epcr</text>
<text x="435.72" y="587.60" font-size="4.36" textLength="3.38" lengthAdjust="spacingAndGlyphs" stroke="#1a1a1a" stroke-width="0.09">lo</text>
<rect x="0.5" y="0.5" width="519" height="683" fill="none" stroke="#000" stroke-width="1.2"/>
</svg>
</body></html>
